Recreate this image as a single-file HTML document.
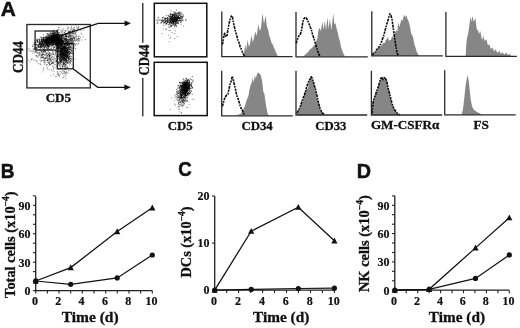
<!DOCTYPE html>
<html><head><meta charset="utf-8"><title>Figure</title>
<style>html,body{margin:0;padding:0;background:#fff;}body{width:520px;height:328px;overflow:hidden;}svg{display:block;filter:blur(0.3px);}</style>
</head><body><svg width="520" height="328" viewBox="0 0 520 328"><g transform="translate(0.84,15.85) scale(1.043,1.004)"><text x="0" y="0" font-family="Liberation Sans" font-weight="bold" font-size="20" fill="#111" stroke="#111" stroke-width="0.5">A</text></g><g transform="translate(0.85,177.64) scale(0.949,1.025)"><text x="0" y="0" font-family="Liberation Sans" font-weight="bold" font-size="20" fill="#111" stroke="#111" stroke-width="0.5">B</text></g><g transform="translate(178.33,176.09) scale(0.931,1.010)"><text x="0" y="0" font-family="Liberation Sans" font-weight="bold" font-size="20" fill="#111" stroke="#111" stroke-width="0.5">C</text></g><g transform="translate(356.81,178.04) scale(0.988,1.053)"><text x="0" y="0" font-family="Liberation Sans" font-weight="bold" font-size="20" fill="#111" stroke="#111" stroke-width="0.5">D</text></g><rect x="35.1" y="31" width="22.4" height="19" fill="none" stroke="#222" stroke-width="1.3"/><rect x="57.3" y="43.6" width="16" height="25.2" fill="none" stroke="#222" stroke-width="1.3"/><g fill="#000" fill-opacity="0.45"><rect x="65.9" y="41.5" width="1.0" height="1.0"/><rect x="65.2" y="38.1" width="1.0" height="1.0"/><rect x="60.9" y="39.7" width="1.0" height="1.0"/><rect x="74.4" y="38.9" width="1.0" height="1.0"/><rect x="73.8" y="38.3" width="1.0" height="1.0"/><rect x="69.7" y="39.1" width="1.0" height="1.0"/><rect x="57.5" y="45.3" width="1.0" height="1.0"/><rect x="70.7" y="40.2" width="1.0" height="1.0"/><rect x="54.5" y="34.8" width="1.0" height="1.0"/><rect x="60.9" y="38.6" width="1.0" height="1.0"/><rect x="68.9" y="38.3" width="1.0" height="1.0"/><rect x="69.6" y="35.5" width="1.0" height="1.0"/><rect x="69.4" y="40.1" width="1.0" height="1.0"/><rect x="64.7" y="47.1" width="1.0" height="1.0"/><rect x="71.8" y="42.9" width="1.0" height="1.0"/><rect x="62.3" y="37.0" width="1.0" height="1.0"/><rect x="64.7" y="39.1" width="1.0" height="1.0"/><rect x="71.2" y="38.9" width="1.0" height="1.0"/><rect x="63.2" y="35.9" width="1.0" height="1.0"/><rect x="65.1" y="44.8" width="1.0" height="1.0"/><rect x="62.2" y="41.4" width="1.0" height="1.0"/><rect x="68.1" y="32.2" width="1.0" height="1.0"/><rect x="68.7" y="44.2" width="1.0" height="1.0"/><rect x="54.0" y="41.1" width="1.0" height="1.0"/><rect x="65.4" y="35.9" width="1.0" height="1.0"/><rect x="70.1" y="37.9" width="1.0" height="1.0"/><rect x="58.7" y="44.8" width="1.0" height="1.0"/><rect x="72.2" y="41.7" width="1.0" height="1.0"/><rect x="76.4" y="38.0" width="1.0" height="1.0"/><rect x="66.3" y="33.5" width="1.0" height="1.0"/><rect x="70.2" y="35.5" width="1.0" height="1.0"/><rect x="62.8" y="34.6" width="1.0" height="1.0"/><rect x="60.3" y="38.5" width="1.0" height="1.0"/><rect x="72.9" y="28.6" width="1.0" height="1.0"/><rect x="58.1" y="42.4" width="1.0" height="1.0"/><rect x="76.7" y="38.9" width="1.0" height="1.0"/><rect x="52.3" y="32.0" width="1.0" height="1.0"/><rect x="68.4" y="35.4" width="1.0" height="1.0"/><rect x="61.0" y="44.8" width="1.0" height="1.0"/><rect x="74.1" y="37.8" width="1.0" height="1.0"/><rect x="69.0" y="40.3" width="1.0" height="1.0"/><rect x="77.7" y="38.8" width="1.0" height="1.0"/><rect x="70.9" y="40.3" width="1.0" height="1.0"/><rect x="58.5" y="46.8" width="1.0" height="1.0"/><rect x="73.6" y="39.5" width="1.0" height="1.0"/><rect x="53.9" y="39.7" width="1.0" height="1.0"/><rect x="70.3" y="30.2" width="1.0" height="1.0"/><rect x="67.0" y="43.4" width="1.0" height="1.0"/><rect x="60.5" y="47.7" width="1.0" height="1.0"/><rect x="70.3" y="37.5" width="1.0" height="1.0"/><rect x="69.7" y="41.1" width="1.0" height="1.0"/><rect x="69.0" y="43.4" width="1.0" height="1.0"/><rect x="62.4" y="38.4" width="1.0" height="1.0"/><rect x="73.6" y="37.4" width="1.0" height="1.0"/><rect x="62.5" y="44.3" width="1.0" height="1.0"/><rect x="75.7" y="34.7" width="1.0" height="1.0"/><rect x="58.2" y="40.8" width="1.0" height="1.0"/><rect x="65.7" y="38.0" width="1.0" height="1.0"/><rect x="74.7" y="32.5" width="1.0" height="1.0"/><rect x="73.5" y="31.7" width="1.0" height="1.0"/><rect x="62.7" y="42.9" width="1.0" height="1.0"/><rect x="75.0" y="40.6" width="1.0" height="1.0"/><rect x="69.3" y="39.0" width="1.0" height="1.0"/><rect x="68.6" y="41.1" width="1.0" height="1.0"/><rect x="66.2" y="40.4" width="1.0" height="1.0"/><rect x="70.6" y="38.0" width="1.0" height="1.0"/><rect x="72.4" y="40.0" width="1.0" height="1.0"/><rect x="80.0" y="36.9" width="1.0" height="1.0"/><rect x="63.9" y="38.2" width="1.0" height="1.0"/><rect x="67.9" y="42.8" width="1.0" height="1.0"/><rect x="65.3" y="41.1" width="1.0" height="1.0"/><rect x="75.7" y="25.5" width="1.0" height="1.0"/><rect x="60.2" y="41.9" width="1.0" height="1.0"/><rect x="69.8" y="39.3" width="1.0" height="1.0"/><rect x="65.0" y="42.4" width="1.0" height="1.0"/><rect x="68.2" y="36.4" width="1.0" height="1.0"/><rect x="82.6" y="36.4" width="1.0" height="1.0"/><rect x="63.4" y="39.5" width="1.0" height="1.0"/><rect x="65.5" y="39.1" width="1.0" height="1.0"/><rect x="49.3" y="41.6" width="1.0" height="1.0"/><rect x="72.1" y="32.6" width="1.0" height="1.0"/><rect x="67.6" y="43.0" width="1.0" height="1.0"/><rect x="74.0" y="43.6" width="1.0" height="1.0"/><rect x="55.9" y="40.4" width="1.0" height="1.0"/><rect x="65.5" y="42.1" width="1.0" height="1.0"/><rect x="70.9" y="26.3" width="1.0" height="1.0"/><rect x="72.3" y="31.3" width="1.0" height="1.0"/><rect x="69.7" y="31.8" width="1.0" height="1.0"/><rect x="69.4" y="43.6" width="1.0" height="1.0"/><rect x="66.3" y="40.0" width="1.0" height="1.0"/><rect x="72.2" y="38.2" width="1.0" height="1.0"/><rect x="68.1" y="45.4" width="1.0" height="1.0"/><rect x="73.3" y="36.0" width="1.0" height="1.0"/><rect x="83.0" y="29.7" width="1.0" height="1.0"/><rect x="72.5" y="36.4" width="1.0" height="1.0"/><rect x="68.6" y="41.6" width="1.0" height="1.0"/><rect x="69.1" y="41.2" width="1.0" height="1.0"/><rect x="55.8" y="35.4" width="1.0" height="1.0"/><rect x="69.8" y="34.1" width="1.0" height="1.0"/><rect x="59.0" y="34.8" width="1.0" height="1.0"/><rect x="75.8" y="39.9" width="1.0" height="1.0"/><rect x="75.2" y="32.7" width="1.0" height="1.0"/><rect x="65.8" y="34.4" width="1.0" height="1.0"/><rect x="73.5" y="44.2" width="1.0" height="1.0"/><rect x="63.1" y="46.8" width="1.0" height="1.0"/><rect x="73.0" y="36.6" width="1.0" height="1.0"/><rect x="56.1" y="48.0" width="1.0" height="1.0"/><rect x="65.7" y="36.7" width="1.0" height="1.0"/><rect x="70.0" y="40.0" width="1.0" height="1.0"/><rect x="75.3" y="32.3" width="1.0" height="1.0"/><rect x="75.8" y="43.1" width="1.0" height="1.0"/><rect x="75.9" y="35.8" width="1.0" height="1.0"/><rect x="63.4" y="44.4" width="1.0" height="1.0"/><rect x="67.9" y="39.3" width="1.0" height="1.0"/><rect x="75.7" y="35.5" width="1.0" height="1.0"/><rect x="52.2" y="41.3" width="1.0" height="1.0"/><rect x="56.3" y="45.4" width="1.0" height="1.0"/><rect x="68.3" y="36.0" width="1.0" height="1.0"/><rect x="67.8" y="42.4" width="1.0" height="1.0"/><rect x="68.9" y="44.2" width="1.0" height="1.0"/><rect x="67.7" y="43.3" width="1.0" height="1.0"/><rect x="78.1" y="43.0" width="1.0" height="1.0"/><rect x="63.7" y="43.7" width="1.0" height="1.0"/><rect x="54.0" y="37.8" width="1.0" height="1.0"/><rect x="55.8" y="46.6" width="1.0" height="1.0"/><rect x="59.3" y="41.0" width="1.0" height="1.0"/><rect x="65.8" y="39.2" width="1.0" height="1.0"/><rect x="63.5" y="40.9" width="1.0" height="1.0"/><rect x="78.3" y="36.2" width="1.0" height="1.0"/><rect x="71.4" y="42.2" width="1.0" height="1.0"/><rect x="64.4" y="34.2" width="1.0" height="1.0"/><rect x="64.7" y="44.3" width="1.0" height="1.0"/><rect x="56.0" y="39.3" width="1.0" height="1.0"/><rect x="74.2" y="40.5" width="1.0" height="1.0"/><rect x="67.9" y="42.3" width="1.0" height="1.0"/><rect x="66.8" y="33.9" width="1.0" height="1.0"/><rect x="56.5" y="39.0" width="1.0" height="1.0"/><rect x="72.2" y="35.2" width="1.0" height="1.0"/><rect x="60.5" y="37.4" width="1.0" height="1.0"/><rect x="57.3" y="41.1" width="1.0" height="1.0"/><rect x="60.0" y="42.5" width="1.0" height="1.0"/><rect x="52.5" y="44.3" width="1.0" height="1.0"/><rect x="60.9" y="32.2" width="1.0" height="1.0"/><rect x="71.3" y="36.7" width="1.0" height="1.0"/><rect x="52.0" y="39.2" width="1.0" height="1.0"/><rect x="68.3" y="36.6" width="1.0" height="1.0"/><rect x="72.7" y="40.7" width="1.0" height="1.0"/><rect x="71.5" y="39.2" width="1.0" height="1.0"/><rect x="76.1" y="39.4" width="1.0" height="1.0"/><rect x="67.6" y="29.8" width="1.0" height="1.0"/><rect x="74.1" y="42.8" width="1.0" height="1.0"/><rect x="64.6" y="37.6" width="1.0" height="1.0"/><rect x="77.3" y="28.6" width="1.0" height="1.0"/><rect x="72.6" y="48.0" width="1.0" height="1.0"/><rect x="61.9" y="43.4" width="1.0" height="1.0"/><rect x="78.7" y="35.3" width="1.0" height="1.0"/><rect x="71.5" y="41.7" width="1.0" height="1.0"/><rect x="61.2" y="40.2" width="1.0" height="1.0"/><rect x="69.7" y="41.9" width="1.0" height="1.0"/><rect x="66.6" y="38.3" width="1.0" height="1.0"/><rect x="60.2" y="39.3" width="1.0" height="1.0"/><rect x="72.7" y="37.9" width="1.0" height="1.0"/><rect x="60.7" y="37.0" width="1.0" height="1.0"/><rect x="85.0" y="39.1" width="1.0" height="1.0"/><rect x="68.2" y="27.4" width="1.0" height="1.0"/><rect x="71.4" y="39.9" width="1.0" height="1.0"/><rect x="78.0" y="37.9" width="1.0" height="1.0"/><rect x="67.1" y="41.2" width="1.0" height="1.0"/><rect x="55.9" y="46.5" width="1.0" height="1.0"/><rect x="68.3" y="35.6" width="1.0" height="1.0"/><rect x="77.3" y="44.1" width="1.0" height="1.0"/><rect x="57.5" y="38.7" width="1.0" height="1.0"/><rect x="69.0" y="39.3" width="1.0" height="1.0"/><rect x="63.4" y="35.7" width="1.0" height="1.0"/><rect x="81.4" y="39.6" width="1.0" height="1.0"/><rect x="58.0" y="35.6" width="1.0" height="1.0"/><rect x="78.8" y="40.1" width="1.0" height="1.0"/><rect x="79.3" y="39.2" width="1.0" height="1.0"/><rect x="61.8" y="41.5" width="1.0" height="1.0"/><rect x="52.6" y="39.6" width="1.0" height="1.0"/><rect x="67.2" y="41.2" width="1.0" height="1.0"/><rect x="62.3" y="39.7" width="1.0" height="1.0"/><rect x="70.3" y="39.8" width="1.0" height="1.0"/><rect x="71.2" y="38.8" width="1.0" height="1.0"/><rect x="65.8" y="42.7" width="1.0" height="1.0"/><rect x="66.4" y="35.6" width="1.0" height="1.0"/><rect x="63.1" y="40.1" width="1.0" height="1.0"/><rect x="66.5" y="39.8" width="1.0" height="1.0"/><rect x="67.2" y="39.7" width="1.0" height="1.0"/><rect x="64.8" y="34.1" width="1.0" height="1.0"/><rect x="70.8" y="42.6" width="1.0" height="1.0"/><rect x="69.5" y="37.5" width="1.0" height="1.0"/><rect x="68.8" y="34.3" width="1.0" height="1.0"/><rect x="55.2" y="42.4" width="1.0" height="1.0"/><rect x="62.0" y="43.6" width="1.0" height="1.0"/><rect x="57.3" y="30.2" width="1.0" height="1.0"/><rect x="62.2" y="47.2" width="1.0" height="1.0"/><rect x="63.1" y="34.1" width="1.0" height="1.0"/><rect x="62.8" y="42.4" width="1.0" height="1.0"/><rect x="70.3" y="38.9" width="1.0" height="1.0"/><rect x="77.1" y="39.4" width="1.0" height="1.0"/><rect x="67.5" y="41.5" width="1.0" height="1.0"/><rect x="78.4" y="40.2" width="1.0" height="1.0"/><rect x="72.3" y="32.9" width="1.0" height="1.0"/><rect x="66.9" y="42.2" width="1.0" height="1.0"/><rect x="66.3" y="43.8" width="1.0" height="1.0"/><rect x="71.7" y="41.7" width="1.0" height="1.0"/><rect x="68.4" y="49.7" width="1.0" height="1.0"/><rect x="74.6" y="36.0" width="1.0" height="1.0"/><rect x="70.4" y="49.4" width="1.0" height="1.0"/><rect x="65.8" y="43.1" width="1.0" height="1.0"/><rect x="73.2" y="37.4" width="1.0" height="1.0"/><rect x="59.9" y="41.7" width="1.0" height="1.0"/><rect x="70.5" y="43.0" width="1.0" height="1.0"/><rect x="71.9" y="37.8" width="1.0" height="1.0"/><rect x="72.9" y="39.8" width="1.0" height="1.0"/><rect x="68.4" y="38.9" width="1.0" height="1.0"/><rect x="66.2" y="42.2" width="1.0" height="1.0"/><rect x="59.7" y="38.2" width="1.0" height="1.0"/><rect x="65.4" y="33.1" width="1.0" height="1.0"/><rect x="62.1" y="31.6" width="1.0" height="1.0"/><rect x="63.3" y="42.5" width="1.0" height="1.0"/><rect x="70.5" y="37.8" width="1.0" height="1.0"/><rect x="64.0" y="33.6" width="1.0" height="1.0"/><rect x="79.0" y="38.0" width="1.0" height="1.0"/><rect x="72.9" y="33.6" width="1.0" height="1.0"/><rect x="63.9" y="31.9" width="1.0" height="1.0"/><rect x="72.9" y="41.5" width="1.0" height="1.0"/><rect x="55.0" y="42.0" width="1.0" height="1.0"/><rect x="69.0" y="30.8" width="1.0" height="1.0"/><rect x="54.4" y="37.8" width="1.0" height="1.0"/><rect x="61.5" y="34.4" width="1.0" height="1.0"/><rect x="67.5" y="40.0" width="1.0" height="1.0"/><rect x="71.7" y="40.8" width="1.0" height="1.0"/><rect x="77.7" y="41.2" width="1.0" height="1.0"/><rect x="58.2" y="39.2" width="1.0" height="1.0"/><rect x="59.2" y="36.4" width="1.0" height="1.0"/><rect x="66.5" y="39.2" width="1.0" height="1.0"/><rect x="68.4" y="31.7" width="1.0" height="1.0"/><rect x="59.2" y="41.0" width="1.0" height="1.0"/><rect x="65.4" y="38.1" width="1.0" height="1.0"/><rect x="65.8" y="36.0" width="1.0" height="1.0"/><rect x="71.8" y="39.3" width="1.0" height="1.0"/><rect x="65.7" y="36.4" width="1.0" height="1.0"/><rect x="62.9" y="28.3" width="1.0" height="1.0"/><rect x="60.9" y="40.8" width="1.0" height="1.0"/><rect x="57.8" y="42.3" width="1.0" height="1.0"/><rect x="66.4" y="33.2" width="1.0" height="1.0"/><rect x="65.1" y="38.1" width="1.0" height="1.0"/><rect x="70.6" y="40.7" width="1.0" height="1.0"/><rect x="65.8" y="35.6" width="1.0" height="1.0"/><rect x="66.0" y="39.0" width="1.0" height="1.0"/><rect x="71.9" y="39.0" width="1.0" height="1.0"/><rect x="61.0" y="34.7" width="1.0" height="1.0"/><rect x="63.9" y="36.6" width="1.0" height="1.0"/><rect x="59.9" y="40.4" width="1.0" height="1.0"/><rect x="64.0" y="40.3" width="1.0" height="1.0"/><rect x="69.8" y="36.4" width="1.0" height="1.0"/><rect x="81.2" y="33.8" width="1.0" height="1.0"/><rect x="74.0" y="37.6" width="1.0" height="1.0"/><rect x="71.4" y="27.5" width="1.0" height="1.0"/><rect x="62.6" y="41.3" width="1.0" height="1.0"/><rect x="73.3" y="47.5" width="1.0" height="1.0"/><rect x="70.4" y="43.6" width="1.0" height="1.0"/><rect x="72.8" y="41.6" width="1.0" height="1.0"/><rect x="70.0" y="37.5" width="1.0" height="1.0"/><rect x="69.0" y="33.8" width="1.0" height="1.0"/><rect x="73.3" y="32.9" width="1.0" height="1.0"/><rect x="70.9" y="47.2" width="1.0" height="1.0"/><rect x="65.6" y="39.5" width="1.0" height="1.0"/><rect x="74.3" y="37.1" width="1.0" height="1.0"/><rect x="62.2" y="41.4" width="1.0" height="1.0"/><rect x="71.4" y="40.9" width="1.0" height="1.0"/><rect x="64.1" y="47.4" width="1.0" height="1.0"/><rect x="77.5" y="36.3" width="1.0" height="1.0"/><rect x="68.2" y="36.8" width="1.0" height="1.0"/><rect x="75.1" y="33.8" width="1.0" height="1.0"/><rect x="70.7" y="35.9" width="1.0" height="1.0"/><rect x="63.4" y="43.1" width="1.0" height="1.0"/><rect x="75.4" y="36.7" width="1.0" height="1.0"/></g><g fill="#000" fill-opacity="0.45"><rect x="65.7" y="36.7" width="1.0" height="1.0"/><rect x="69.1" y="33.3" width="1.0" height="1.0"/><rect x="80.6" y="32.6" width="1.0" height="1.0"/><rect x="68.7" y="41.8" width="1.0" height="1.0"/><rect x="70.1" y="34.9" width="1.0" height="1.0"/><rect x="64.7" y="33.4" width="1.0" height="1.0"/><rect x="59.9" y="42.9" width="1.0" height="1.0"/><rect x="56.9" y="29.5" width="1.0" height="1.0"/><rect x="76.1" y="27.5" width="1.0" height="1.0"/><rect x="68.2" y="31.0" width="1.0" height="1.0"/><rect x="66.7" y="28.2" width="1.0" height="1.0"/><rect x="67.2" y="26.5" width="1.0" height="1.0"/><rect x="69.0" y="33.3" width="1.0" height="1.0"/><rect x="71.8" y="30.0" width="1.0" height="1.0"/><rect x="63.3" y="34.8" width="1.0" height="1.0"/><rect x="68.0" y="39.0" width="1.0" height="1.0"/><rect x="73.9" y="29.7" width="1.0" height="1.0"/><rect x="64.9" y="30.5" width="1.0" height="1.0"/><rect x="62.4" y="32.9" width="1.0" height="1.0"/><rect x="71.6" y="33.2" width="1.0" height="1.0"/><rect x="75.6" y="38.5" width="1.0" height="1.0"/><rect x="64.4" y="33.7" width="1.0" height="1.0"/><rect x="65.8" y="33.9" width="1.0" height="1.0"/><rect x="70.6" y="33.2" width="1.0" height="1.0"/><rect x="67.9" y="33.9" width="1.0" height="1.0"/><rect x="70.4" y="34.8" width="1.0" height="1.0"/><rect x="55.3" y="33.2" width="1.0" height="1.0"/><rect x="67.6" y="28.1" width="1.0" height="1.0"/><rect x="63.0" y="36.9" width="1.0" height="1.0"/><rect x="65.6" y="35.9" width="1.0" height="1.0"/><rect x="74.3" y="31.4" width="1.0" height="1.0"/><rect x="72.2" y="30.4" width="1.0" height="1.0"/><rect x="59.7" y="35.3" width="1.0" height="1.0"/><rect x="71.3" y="28.9" width="1.0" height="1.0"/><rect x="69.4" y="35.1" width="1.0" height="1.0"/><rect x="64.1" y="36.5" width="1.0" height="1.0"/><rect x="69.8" y="31.1" width="1.0" height="1.0"/><rect x="79.6" y="29.5" width="1.0" height="1.0"/><rect x="74.0" y="27.3" width="1.0" height="1.0"/><rect x="68.9" y="32.0" width="1.0" height="1.0"/><rect x="59.3" y="41.7" width="1.0" height="1.0"/><rect x="73.7" y="29.7" width="1.0" height="1.0"/><rect x="72.5" y="32.3" width="1.0" height="1.0"/><rect x="58.8" y="34.8" width="1.0" height="1.0"/><rect x="78.0" y="26.3" width="1.0" height="1.0"/><rect x="60.4" y="29.3" width="1.0" height="1.0"/><rect x="61.4" y="36.2" width="1.0" height="1.0"/><rect x="80.7" y="29.6" width="1.0" height="1.0"/><rect x="73.7" y="39.8" width="1.0" height="1.0"/><rect x="64.7" y="30.7" width="1.0" height="1.0"/><rect x="73.2" y="32.8" width="1.0" height="1.0"/><rect x="60.7" y="30.0" width="1.0" height="1.0"/><rect x="71.3" y="32.2" width="1.0" height="1.0"/><rect x="60.1" y="34.4" width="1.0" height="1.0"/><rect x="66.1" y="35.0" width="1.0" height="1.0"/><rect x="68.1" y="32.0" width="1.0" height="1.0"/><rect x="68.1" y="36.8" width="1.0" height="1.0"/><rect x="77.6" y="27.3" width="1.0" height="1.0"/><rect x="73.5" y="27.1" width="1.0" height="1.0"/><rect x="70.5" y="34.6" width="1.0" height="1.0"/><rect x="78.4" y="26.9" width="1.0" height="1.0"/><rect x="68.8" y="32.9" width="1.0" height="1.0"/><rect x="59.2" y="35.6" width="1.0" height="1.0"/><rect x="65.1" y="35.0" width="1.0" height="1.0"/><rect x="58.9" y="27.3" width="1.0" height="1.0"/><rect x="69.6" y="32.9" width="1.0" height="1.0"/><rect x="66.6" y="36.7" width="1.0" height="1.0"/><rect x="66.4" y="30.4" width="1.0" height="1.0"/><rect x="64.5" y="33.5" width="1.0" height="1.0"/><rect x="74.4" y="29.4" width="1.0" height="1.0"/><rect x="70.1" y="28.8" width="1.0" height="1.0"/><rect x="73.3" y="37.5" width="1.0" height="1.0"/><rect x="67.7" y="42.5" width="1.0" height="1.0"/><rect x="64.8" y="33.6" width="1.0" height="1.0"/><rect x="71.5" y="35.4" width="1.0" height="1.0"/><rect x="58.0" y="27.1" width="1.0" height="1.0"/><rect x="74.1" y="33.5" width="1.0" height="1.0"/><rect x="76.7" y="40.4" width="1.0" height="1.0"/><rect x="70.7" y="32.5" width="1.0" height="1.0"/><rect x="75.6" y="31.2" width="1.0" height="1.0"/><rect x="73.8" y="28.7" width="1.0" height="1.0"/><rect x="78.0" y="37.9" width="1.0" height="1.0"/><rect x="68.6" y="31.1" width="1.0" height="1.0"/><rect x="64.6" y="30.0" width="1.0" height="1.0"/><rect x="65.7" y="35.9" width="1.0" height="1.0"/><rect x="69.3" y="32.2" width="1.0" height="1.0"/><rect x="69.1" y="35.9" width="1.0" height="1.0"/><rect x="72.1" y="30.3" width="1.0" height="1.0"/><rect x="73.2" y="29.8" width="1.0" height="1.0"/><rect x="63.4" y="40.2" width="1.0" height="1.0"/><rect x="70.8" y="27.3" width="1.0" height="1.0"/><rect x="76.6" y="30.7" width="1.0" height="1.0"/><rect x="60.9" y="41.8" width="1.0" height="1.0"/><rect x="72.4" y="34.6" width="1.0" height="1.0"/><rect x="70.1" y="31.0" width="1.0" height="1.0"/><rect x="60.1" y="39.4" width="1.0" height="1.0"/><rect x="68.8" y="30.9" width="1.0" height="1.0"/><rect x="71.4" y="31.5" width="1.0" height="1.0"/><rect x="72.9" y="29.0" width="1.0" height="1.0"/><rect x="67.1" y="35.6" width="1.0" height="1.0"/><rect x="77.3" y="27.4" width="1.0" height="1.0"/><rect x="70.4" y="38.2" width="1.0" height="1.0"/></g><g fill="#000" fill-opacity="0.45"><rect x="42.1" y="56.9" width="1.0" height="1.0"/><rect x="54.6" y="64.0" width="1.0" height="1.0"/><rect x="54.5" y="59.4" width="1.0" height="1.0"/><rect x="47.3" y="56.7" width="1.0" height="1.0"/><rect x="43.2" y="60.3" width="1.0" height="1.0"/><rect x="60.4" y="65.0" width="1.0" height="1.0"/><rect x="41.5" y="55.0" width="1.0" height="1.0"/><rect x="39.0" y="52.7" width="1.0" height="1.0"/><rect x="49.8" y="57.8" width="1.0" height="1.0"/><rect x="53.4" y="53.3" width="1.0" height="1.0"/><rect x="54.6" y="54.4" width="1.0" height="1.0"/><rect x="44.1" y="50.9" width="1.0" height="1.0"/><rect x="41.3" y="57.0" width="1.0" height="1.0"/><rect x="47.6" y="55.1" width="1.0" height="1.0"/><rect x="44.1" y="63.8" width="1.0" height="1.0"/><rect x="44.9" y="57.3" width="1.0" height="1.0"/><rect x="51.6" y="62.7" width="1.0" height="1.0"/><rect x="31.8" y="58.3" width="1.0" height="1.0"/><rect x="63.5" y="59.7" width="1.0" height="1.0"/><rect x="44.5" y="57.2" width="1.0" height="1.0"/><rect x="49.0" y="62.8" width="1.0" height="1.0"/><rect x="47.8" y="51.2" width="1.0" height="1.0"/><rect x="43.4" y="59.9" width="1.0" height="1.0"/><rect x="43.4" y="47.5" width="1.0" height="1.0"/><rect x="51.7" y="49.4" width="1.0" height="1.0"/><rect x="46.0" y="53.3" width="1.0" height="1.0"/><rect x="50.5" y="55.8" width="1.0" height="1.0"/><rect x="42.6" y="50.5" width="1.0" height="1.0"/><rect x="47.7" y="53.5" width="1.0" height="1.0"/><rect x="43.8" y="58.6" width="1.0" height="1.0"/><rect x="47.0" y="67.3" width="1.0" height="1.0"/><rect x="43.2" y="50.9" width="1.0" height="1.0"/><rect x="42.3" y="52.5" width="1.0" height="1.0"/><rect x="52.8" y="53.9" width="1.0" height="1.0"/><rect x="48.5" y="58.1" width="1.0" height="1.0"/><rect x="35.6" y="48.4" width="1.0" height="1.0"/><rect x="57.8" y="55.3" width="1.0" height="1.0"/><rect x="49.6" y="60.5" width="1.0" height="1.0"/><rect x="47.1" y="59.7" width="1.0" height="1.0"/><rect x="53.5" y="61.4" width="1.0" height="1.0"/><rect x="51.8" y="58.7" width="1.0" height="1.0"/><rect x="52.2" y="56.7" width="1.0" height="1.0"/><rect x="40.2" y="61.3" width="1.0" height="1.0"/><rect x="48.8" y="57.6" width="1.0" height="1.0"/><rect x="42.4" y="48.0" width="1.0" height="1.0"/><rect x="44.2" y="60.0" width="1.0" height="1.0"/><rect x="46.6" y="59.7" width="1.0" height="1.0"/><rect x="41.7" y="60.3" width="1.0" height="1.0"/><rect x="45.6" y="52.3" width="1.0" height="1.0"/><rect x="50.4" y="60.4" width="1.0" height="1.0"/><rect x="46.3" y="52.8" width="1.0" height="1.0"/><rect x="42.8" y="56.9" width="1.0" height="1.0"/><rect x="51.5" y="53.6" width="1.0" height="1.0"/><rect x="47.7" y="58.6" width="1.0" height="1.0"/><rect x="38.5" y="53.9" width="1.0" height="1.0"/><rect x="45.6" y="53.6" width="1.0" height="1.0"/><rect x="46.2" y="64.1" width="1.0" height="1.0"/><rect x="41.1" y="54.2" width="1.0" height="1.0"/><rect x="34.5" y="59.6" width="1.0" height="1.0"/><rect x="39.8" y="57.7" width="1.0" height="1.0"/><rect x="40.2" y="55.7" width="1.0" height="1.0"/><rect x="65.2" y="57.9" width="1.0" height="1.0"/><rect x="42.2" y="55.6" width="1.0" height="1.0"/><rect x="47.5" y="53.3" width="1.0" height="1.0"/><rect x="57.0" y="66.3" width="1.0" height="1.0"/><rect x="34.9" y="51.2" width="1.0" height="1.0"/><rect x="33.6" y="51.8" width="1.0" height="1.0"/><rect x="42.6" y="53.8" width="1.0" height="1.0"/><rect x="52.2" y="62.3" width="1.0" height="1.0"/><rect x="43.9" y="43.8" width="1.0" height="1.0"/><rect x="49.9" y="64.0" width="1.0" height="1.0"/><rect x="39.2" y="55.1" width="1.0" height="1.0"/><rect x="46.6" y="60.5" width="1.0" height="1.0"/><rect x="35.2" y="44.4" width="1.0" height="1.0"/><rect x="48.5" y="62.7" width="1.0" height="1.0"/><rect x="58.0" y="51.9" width="1.0" height="1.0"/><rect x="45.4" y="58.4" width="1.0" height="1.0"/><rect x="62.1" y="64.8" width="1.0" height="1.0"/><rect x="44.2" y="54.6" width="1.0" height="1.0"/><rect x="51.9" y="58.7" width="1.0" height="1.0"/><rect x="54.3" y="58.7" width="1.0" height="1.0"/><rect x="49.0" y="55.5" width="1.0" height="1.0"/><rect x="48.9" y="54.4" width="1.0" height="1.0"/><rect x="34.4" y="52.2" width="1.0" height="1.0"/><rect x="49.3" y="55.6" width="1.0" height="1.0"/><rect x="44.1" y="60.3" width="1.0" height="1.0"/><rect x="41.2" y="51.1" width="1.0" height="1.0"/><rect x="47.2" y="60.3" width="1.0" height="1.0"/><rect x="50.6" y="47.4" width="1.0" height="1.0"/><rect x="51.5" y="62.9" width="1.0" height="1.0"/><rect x="46.9" y="55.1" width="1.0" height="1.0"/><rect x="48.7" y="55.8" width="1.0" height="1.0"/><rect x="42.9" y="48.7" width="1.0" height="1.0"/><rect x="44.7" y="51.2" width="1.0" height="1.0"/><rect x="38.1" y="52.7" width="1.0" height="1.0"/><rect x="37.2" y="52.1" width="1.0" height="1.0"/><rect x="39.7" y="52.4" width="1.0" height="1.0"/><rect x="52.5" y="63.1" width="1.0" height="1.0"/><rect x="42.1" y="52.7" width="1.0" height="1.0"/><rect x="52.0" y="50.9" width="1.0" height="1.0"/><rect x="42.3" y="53.7" width="1.0" height="1.0"/><rect x="43.3" y="54.1" width="1.0" height="1.0"/><rect x="47.5" y="62.0" width="1.0" height="1.0"/><rect x="48.9" y="62.2" width="1.0" height="1.0"/><rect x="44.6" y="54.6" width="1.0" height="1.0"/><rect x="45.5" y="53.7" width="1.0" height="1.0"/><rect x="50.3" y="49.4" width="1.0" height="1.0"/><rect x="44.3" y="54.4" width="1.0" height="1.0"/><rect x="41.0" y="51.4" width="1.0" height="1.0"/><rect x="49.2" y="57.9" width="1.0" height="1.0"/><rect x="64.7" y="57.0" width="1.0" height="1.0"/><rect x="50.4" y="48.9" width="1.0" height="1.0"/><rect x="43.1" y="69.5" width="1.0" height="1.0"/><rect x="32.6" y="44.7" width="1.0" height="1.0"/><rect x="49.6" y="57.4" width="1.0" height="1.0"/><rect x="55.6" y="51.1" width="1.0" height="1.0"/><rect x="49.3" y="61.2" width="1.0" height="1.0"/><rect x="47.9" y="54.1" width="1.0" height="1.0"/><rect x="50.8" y="57.4" width="1.0" height="1.0"/><rect x="48.7" y="55.3" width="1.0" height="1.0"/><rect x="34.4" y="45.4" width="1.0" height="1.0"/><rect x="44.8" y="59.5" width="1.0" height="1.0"/><rect x="41.5" y="51.8" width="1.0" height="1.0"/><rect x="48.8" y="59.4" width="1.0" height="1.0"/><rect x="46.5" y="68.5" width="1.0" height="1.0"/><rect x="47.1" y="45.3" width="1.0" height="1.0"/><rect x="45.9" y="65.1" width="1.0" height="1.0"/><rect x="48.3" y="63.0" width="1.0" height="1.0"/><rect x="44.9" y="50.7" width="1.0" height="1.0"/><rect x="53.4" y="57.1" width="1.0" height="1.0"/><rect x="39.6" y="44.2" width="1.0" height="1.0"/><rect x="53.2" y="74.1" width="1.0" height="1.0"/><rect x="44.6" y="50.3" width="1.0" height="1.0"/><rect x="49.5" y="54.6" width="1.0" height="1.0"/><rect x="53.1" y="61.9" width="1.0" height="1.0"/><rect x="36.4" y="55.3" width="1.0" height="1.0"/><rect x="42.3" y="54.0" width="1.0" height="1.0"/><rect x="46.9" y="54.9" width="1.0" height="1.0"/><rect x="49.8" y="55.2" width="1.0" height="1.0"/><rect x="43.1" y="40.0" width="1.0" height="1.0"/><rect x="41.7" y="47.5" width="1.0" height="1.0"/><rect x="45.7" y="56.1" width="1.0" height="1.0"/><rect x="48.5" y="59.0" width="1.0" height="1.0"/><rect x="44.0" y="49.9" width="1.0" height="1.0"/><rect x="35.5" y="45.5" width="1.0" height="1.0"/><rect x="46.9" y="60.0" width="1.0" height="1.0"/><rect x="45.9" y="54.8" width="1.0" height="1.0"/><rect x="50.8" y="60.4" width="1.0" height="1.0"/><rect x="48.1" y="61.4" width="1.0" height="1.0"/><rect x="43.2" y="61.4" width="1.0" height="1.0"/><rect x="44.1" y="52.1" width="1.0" height="1.0"/><rect x="44.2" y="49.5" width="1.0" height="1.0"/><rect x="48.8" y="69.2" width="1.0" height="1.0"/><rect x="44.4" y="58.0" width="1.0" height="1.0"/><rect x="49.7" y="64.2" width="1.0" height="1.0"/><rect x="56.1" y="57.4" width="1.0" height="1.0"/><rect x="41.3" y="54.5" width="1.0" height="1.0"/><rect x="53.2" y="63.1" width="1.0" height="1.0"/><rect x="42.6" y="50.8" width="1.0" height="1.0"/><rect x="45.1" y="50.0" width="1.0" height="1.0"/><rect x="55.7" y="60.9" width="1.0" height="1.0"/><rect x="39.6" y="63.3" width="1.0" height="1.0"/><rect x="51.2" y="62.7" width="1.0" height="1.0"/><rect x="41.6" y="54.5" width="1.0" height="1.0"/><rect x="52.6" y="65.7" width="1.0" height="1.0"/><rect x="52.3" y="62.2" width="1.0" height="1.0"/><rect x="49.3" y="57.7" width="1.0" height="1.0"/><rect x="44.3" y="62.3" width="1.0" height="1.0"/><rect x="38.7" y="49.1" width="1.0" height="1.0"/><rect x="49.0" y="55.2" width="1.0" height="1.0"/><rect x="42.0" y="57.2" width="1.0" height="1.0"/><rect x="54.5" y="67.5" width="1.0" height="1.0"/><rect x="52.4" y="52.3" width="1.0" height="1.0"/><rect x="55.8" y="65.3" width="1.0" height="1.0"/><rect x="49.2" y="52.1" width="1.0" height="1.0"/><rect x="49.0" y="52.1" width="1.0" height="1.0"/><rect x="45.0" y="57.9" width="1.0" height="1.0"/><rect x="45.3" y="57.1" width="1.0" height="1.0"/><rect x="37.3" y="56.8" width="1.0" height="1.0"/><rect x="48.1" y="46.9" width="1.0" height="1.0"/><rect x="47.3" y="52.6" width="1.0" height="1.0"/><rect x="41.8" y="50.1" width="1.0" height="1.0"/><rect x="51.1" y="53.4" width="1.0" height="1.0"/><rect x="41.0" y="60.1" width="1.0" height="1.0"/><rect x="50.0" y="58.7" width="1.0" height="1.0"/><rect x="47.0" y="56.2" width="1.0" height="1.0"/><rect x="43.5" y="58.2" width="1.0" height="1.0"/><rect x="52.8" y="47.5" width="1.0" height="1.0"/><rect x="48.6" y="52.9" width="1.0" height="1.0"/><rect x="51.2" y="57.0" width="1.0" height="1.0"/><rect x="40.2" y="64.0" width="1.0" height="1.0"/><rect x="43.9" y="47.3" width="1.0" height="1.0"/><rect x="45.9" y="41.4" width="1.0" height="1.0"/><rect x="35.1" y="48.4" width="1.0" height="1.0"/><rect x="48.3" y="46.8" width="1.0" height="1.0"/><rect x="36.4" y="51.1" width="1.0" height="1.0"/><rect x="43.1" y="51.1" width="1.0" height="1.0"/><rect x="43.6" y="62.1" width="1.0" height="1.0"/><rect x="53.0" y="68.5" width="1.0" height="1.0"/><rect x="46.2" y="57.3" width="1.0" height="1.0"/><rect x="51.1" y="69.2" width="1.0" height="1.0"/><rect x="43.0" y="56.1" width="1.0" height="1.0"/><rect x="47.3" y="57.5" width="1.0" height="1.0"/><rect x="47.4" y="49.2" width="1.0" height="1.0"/><rect x="47.9" y="48.3" width="1.0" height="1.0"/><rect x="50.8" y="63.5" width="1.0" height="1.0"/><rect x="35.5" y="55.0" width="1.0" height="1.0"/><rect x="56.4" y="53.8" width="1.0" height="1.0"/><rect x="53.1" y="67.3" width="1.0" height="1.0"/><rect x="60.4" y="61.6" width="1.0" height="1.0"/><rect x="47.5" y="59.9" width="1.0" height="1.0"/><rect x="46.5" y="57.5" width="1.0" height="1.0"/><rect x="56.0" y="55.9" width="1.0" height="1.0"/><rect x="43.7" y="45.5" width="1.0" height="1.0"/><rect x="44.9" y="51.4" width="1.0" height="1.0"/><rect x="47.1" y="58.6" width="1.0" height="1.0"/><rect x="48.2" y="53.9" width="1.0" height="1.0"/><rect x="40.8" y="57.1" width="1.0" height="1.0"/><rect x="49.7" y="59.9" width="1.0" height="1.0"/><rect x="39.6" y="59.7" width="1.0" height="1.0"/><rect x="41.0" y="55.4" width="1.0" height="1.0"/><rect x="52.8" y="60.5" width="1.0" height="1.0"/><rect x="53.7" y="56.1" width="1.0" height="1.0"/><rect x="50.7" y="61.4" width="1.0" height="1.0"/><rect x="35.7" y="50.8" width="1.0" height="1.0"/><rect x="37.5" y="56.1" width="1.0" height="1.0"/><rect x="43.0" y="52.3" width="1.0" height="1.0"/><rect x="48.5" y="56.2" width="1.0" height="1.0"/><rect x="49.0" y="55.4" width="1.0" height="1.0"/><rect x="49.5" y="59.2" width="1.0" height="1.0"/><rect x="55.4" y="47.8" width="1.0" height="1.0"/><rect x="51.9" y="61.5" width="1.0" height="1.0"/><rect x="36.4" y="48.0" width="1.0" height="1.0"/><rect x="45.2" y="61.8" width="1.0" height="1.0"/><rect x="35.7" y="56.1" width="1.0" height="1.0"/><rect x="38.0" y="63.3" width="1.0" height="1.0"/><rect x="43.2" y="57.6" width="1.0" height="1.0"/><rect x="47.5" y="50.6" width="1.0" height="1.0"/><rect x="49.0" y="64.2" width="1.0" height="1.0"/></g><g fill="#000" fill-opacity="0.4"><rect x="72.4" y="66.9" width="1.0" height="1.0"/><rect x="51.3" y="46.7" width="1.0" height="1.0"/><rect x="50.5" y="54.6" width="1.0" height="1.0"/><rect x="48.8" y="64.7" width="1.0" height="1.0"/><rect x="60.3" y="57.8" width="1.0" height="1.0"/><rect x="58.7" y="58.8" width="1.0" height="1.0"/><rect x="59.1" y="66.0" width="1.0" height="1.0"/><rect x="66.6" y="54.5" width="1.0" height="1.0"/><rect x="41.9" y="71.4" width="1.0" height="1.0"/><rect x="58.1" y="68.8" width="1.0" height="1.0"/><rect x="40.6" y="57.4" width="1.0" height="1.0"/><rect x="57.3" y="48.5" width="1.0" height="1.0"/><rect x="51.8" y="65.8" width="1.0" height="1.0"/><rect x="67.8" y="72.8" width="1.0" height="1.0"/><rect x="48.4" y="48.8" width="1.0" height="1.0"/><rect x="62.2" y="67.5" width="1.0" height="1.0"/><rect x="58.9" y="49.6" width="1.0" height="1.0"/><rect x="64.8" y="66.3" width="1.0" height="1.0"/><rect x="62.5" y="56.1" width="1.0" height="1.0"/><rect x="60.0" y="66.3" width="1.0" height="1.0"/><rect x="51.4" y="45.3" width="1.0" height="1.0"/><rect x="60.3" y="63.8" width="1.0" height="1.0"/><rect x="57.1" y="67.1" width="1.0" height="1.0"/><rect x="51.1" y="59.3" width="1.0" height="1.0"/><rect x="53.9" y="64.6" width="1.0" height="1.0"/><rect x="73.0" y="58.0" width="1.0" height="1.0"/><rect x="77.5" y="72.2" width="1.0" height="1.0"/><rect x="64.9" y="64.7" width="1.0" height="1.0"/><rect x="74.7" y="58.6" width="1.0" height="1.0"/><rect x="55.9" y="51.5" width="1.0" height="1.0"/><rect x="61.7" y="70.8" width="1.0" height="1.0"/><rect x="62.3" y="63.4" width="1.0" height="1.0"/><rect x="55.0" y="61.4" width="1.0" height="1.0"/><rect x="42.7" y="68.4" width="1.0" height="1.0"/><rect x="52.9" y="51.2" width="1.0" height="1.0"/><rect x="49.5" y="53.4" width="1.0" height="1.0"/><rect x="65.6" y="68.5" width="1.0" height="1.0"/><rect x="43.4" y="67.4" width="1.0" height="1.0"/><rect x="65.9" y="55.4" width="1.0" height="1.0"/><rect x="42.1" y="54.0" width="1.0" height="1.0"/><rect x="50.7" y="62.7" width="1.0" height="1.0"/><rect x="53.4" y="43.8" width="1.0" height="1.0"/><rect x="59.3" y="47.7" width="1.0" height="1.0"/><rect x="66.1" y="50.3" width="1.0" height="1.0"/><rect x="50.1" y="53.2" width="1.0" height="1.0"/><rect x="51.6" y="70.4" width="1.0" height="1.0"/><rect x="65.5" y="64.8" width="1.0" height="1.0"/><rect x="60.2" y="47.6" width="1.0" height="1.0"/><rect x="51.8" y="55.6" width="1.0" height="1.0"/><rect x="47.2" y="64.1" width="1.0" height="1.0"/><rect x="49.6" y="54.3" width="1.0" height="1.0"/><rect x="46.6" y="43.5" width="1.0" height="1.0"/><rect x="63.0" y="70.6" width="1.0" height="1.0"/><rect x="58.7" y="52.2" width="1.0" height="1.0"/><rect x="29.9" y="61.4" width="1.0" height="1.0"/><rect x="69.2" y="62.4" width="1.0" height="1.0"/><rect x="66.3" y="71.8" width="1.0" height="1.0"/><rect x="68.3" y="56.5" width="1.0" height="1.0"/><rect x="67.5" y="66.2" width="1.0" height="1.0"/><rect x="41.6" y="56.8" width="1.0" height="1.0"/></g><g fill="#000" fill-opacity="0.5"><rect x="36.9" y="44.3" width="1.0" height="1.0"/><rect x="43.0" y="39.1" width="1.0" height="1.0"/><rect x="36.0" y="48.6" width="1.0" height="1.0"/><rect x="44.8" y="45.5" width="1.0" height="1.0"/><rect x="38.4" y="46.9" width="1.0" height="1.0"/><rect x="51.3" y="44.4" width="1.0" height="1.0"/><rect x="41.5" y="43.4" width="1.0" height="1.0"/><rect x="42.4" y="45.1" width="1.0" height="1.0"/><rect x="45.7" y="41.2" width="1.0" height="1.0"/><rect x="37.9" y="46.2" width="1.0" height="1.0"/><rect x="41.0" y="44.7" width="1.0" height="1.0"/><rect x="44.5" y="46.0" width="1.0" height="1.0"/><rect x="45.6" y="39.8" width="1.0" height="1.0"/><rect x="44.9" y="46.3" width="1.0" height="1.0"/><rect x="40.5" y="44.3" width="1.0" height="1.0"/><rect x="47.4" y="43.8" width="1.0" height="1.0"/><rect x="42.5" y="38.6" width="1.0" height="1.0"/><rect x="37.8" y="44.9" width="1.0" height="1.0"/><rect x="45.8" y="48.1" width="1.0" height="1.0"/><rect x="40.1" y="46.5" width="1.0" height="1.0"/><rect x="43.1" y="37.4" width="1.0" height="1.0"/><rect x="39.3" y="44.1" width="1.0" height="1.0"/><rect x="40.1" y="42.8" width="1.0" height="1.0"/><rect x="42.9" y="39.9" width="1.0" height="1.0"/><rect x="43.0" y="40.3" width="1.0" height="1.0"/><rect x="40.6" y="44.6" width="1.0" height="1.0"/><rect x="40.3" y="44.0" width="1.0" height="1.0"/><rect x="47.7" y="40.3" width="1.0" height="1.0"/><rect x="42.2" y="44.5" width="1.0" height="1.0"/><rect x="41.8" y="45.6" width="1.0" height="1.0"/><rect x="38.1" y="45.8" width="1.0" height="1.0"/><rect x="39.4" y="41.3" width="1.0" height="1.0"/><rect x="47.4" y="37.9" width="1.0" height="1.0"/><rect x="48.8" y="41.6" width="1.0" height="1.0"/><rect x="46.2" y="38.1" width="1.0" height="1.0"/><rect x="47.6" y="44.3" width="1.0" height="1.0"/><rect x="41.5" y="42.4" width="1.0" height="1.0"/><rect x="50.8" y="39.4" width="1.0" height="1.0"/><rect x="39.9" y="41.6" width="1.0" height="1.0"/><rect x="43.9" y="42.7" width="1.0" height="1.0"/><rect x="44.3" y="46.4" width="1.0" height="1.0"/><rect x="41.3" y="44.1" width="1.0" height="1.0"/><rect x="46.2" y="38.0" width="1.0" height="1.0"/><rect x="47.4" y="45.4" width="1.0" height="1.0"/><rect x="36.2" y="41.8" width="1.0" height="1.0"/><rect x="36.5" y="39.5" width="1.0" height="1.0"/><rect x="41.8" y="37.4" width="1.0" height="1.0"/><rect x="45.2" y="45.3" width="1.0" height="1.0"/><rect x="36.0" y="44.0" width="1.0" height="1.0"/><rect x="36.0" y="47.1" width="1.0" height="1.0"/><rect x="39.1" y="42.9" width="1.0" height="1.0"/><rect x="42.7" y="43.7" width="1.0" height="1.0"/><rect x="40.8" y="43.0" width="1.0" height="1.0"/><rect x="40.2" y="43.6" width="1.0" height="1.0"/><rect x="37.9" y="44.3" width="1.0" height="1.0"/><rect x="34.7" y="44.1" width="1.0" height="1.0"/><rect x="48.8" y="40.0" width="1.0" height="1.0"/><rect x="37.8" y="44.9" width="1.0" height="1.0"/><rect x="37.0" y="39.9" width="1.0" height="1.0"/><rect x="40.1" y="45.3" width="1.0" height="1.0"/><rect x="43.3" y="41.7" width="1.0" height="1.0"/><rect x="37.7" y="41.2" width="1.0" height="1.0"/><rect x="47.0" y="41.2" width="1.0" height="1.0"/><rect x="36.6" y="38.8" width="1.0" height="1.0"/><rect x="39.6" y="50.4" width="1.0" height="1.0"/><rect x="37.9" y="44.0" width="1.0" height="1.0"/><rect x="42.6" y="41.8" width="1.0" height="1.0"/><rect x="39.7" y="39.6" width="1.0" height="1.0"/><rect x="39.9" y="48.1" width="1.0" height="1.0"/><rect x="40.2" y="45.6" width="1.0" height="1.0"/><rect x="35.8" y="44.3" width="1.0" height="1.0"/><rect x="43.9" y="44.6" width="1.0" height="1.0"/><rect x="38.6" y="45.5" width="1.0" height="1.0"/><rect x="42.6" y="40.2" width="1.0" height="1.0"/><rect x="42.8" y="39.7" width="1.0" height="1.0"/><rect x="39.2" y="43.6" width="1.0" height="1.0"/><rect x="32.3" y="46.1" width="1.0" height="1.0"/><rect x="37.1" y="40.4" width="1.0" height="1.0"/><rect x="41.2" y="44.9" width="1.0" height="1.0"/><rect x="41.8" y="46.1" width="1.0" height="1.0"/><rect x="36.6" y="41.0" width="1.0" height="1.0"/><rect x="47.9" y="41.3" width="1.0" height="1.0"/><rect x="44.5" y="39.2" width="1.0" height="1.0"/><rect x="45.1" y="42.0" width="1.0" height="1.0"/><rect x="44.3" y="41.6" width="1.0" height="1.0"/><rect x="45.6" y="39.2" width="1.0" height="1.0"/><rect x="37.2" y="40.3" width="1.0" height="1.0"/><rect x="45.4" y="39.1" width="1.0" height="1.0"/><rect x="37.4" y="41.7" width="1.0" height="1.0"/><rect x="39.2" y="40.1" width="1.0" height="1.0"/><rect x="40.4" y="41.4" width="1.0" height="1.0"/><rect x="39.1" y="41.0" width="1.0" height="1.0"/><rect x="41.7" y="41.3" width="1.0" height="1.0"/><rect x="42.6" y="42.9" width="1.0" height="1.0"/><rect x="41.1" y="36.7" width="1.0" height="1.0"/><rect x="39.3" y="41.3" width="1.0" height="1.0"/><rect x="43.2" y="37.6" width="1.0" height="1.0"/><rect x="39.2" y="42.8" width="1.0" height="1.0"/><rect x="41.8" y="45.4" width="1.0" height="1.0"/><rect x="41.4" y="45.5" width="1.0" height="1.0"/><rect x="35.1" y="40.2" width="1.0" height="1.0"/><rect x="46.7" y="41.8" width="1.0" height="1.0"/><rect x="43.8" y="42.1" width="1.0" height="1.0"/><rect x="42.5" y="38.9" width="1.0" height="1.0"/><rect x="44.8" y="39.9" width="1.0" height="1.0"/><rect x="45.6" y="41.3" width="1.0" height="1.0"/><rect x="33.8" y="42.2" width="1.0" height="1.0"/><rect x="45.8" y="40.6" width="1.0" height="1.0"/><rect x="40.8" y="43.6" width="1.0" height="1.0"/><rect x="40.0" y="41.8" width="1.0" height="1.0"/><rect x="42.5" y="42.7" width="1.0" height="1.0"/><rect x="47.4" y="40.5" width="1.0" height="1.0"/><rect x="50.4" y="44.2" width="1.0" height="1.0"/><rect x="49.1" y="42.6" width="1.0" height="1.0"/><rect x="42.6" y="42.6" width="1.0" height="1.0"/><rect x="40.8" y="40.9" width="1.0" height="1.0"/><rect x="41.1" y="41.0" width="1.0" height="1.0"/><rect x="48.3" y="41.5" width="1.0" height="1.0"/><rect x="38.6" y="38.5" width="1.0" height="1.0"/><rect x="41.4" y="41.6" width="1.0" height="1.0"/><rect x="37.1" y="41.3" width="1.0" height="1.0"/><rect x="34.6" y="47.1" width="1.0" height="1.0"/><rect x="44.3" y="48.8" width="1.0" height="1.0"/><rect x="41.7" y="42.2" width="1.0" height="1.0"/><rect x="47.2" y="40.8" width="1.0" height="1.0"/><rect x="42.2" y="41.4" width="1.0" height="1.0"/><rect x="41.3" y="47.0" width="1.0" height="1.0"/><rect x="47.2" y="45.2" width="1.0" height="1.0"/><rect x="40.8" y="43.1" width="1.0" height="1.0"/><rect x="39.8" y="46.1" width="1.0" height="1.0"/><rect x="37.6" y="45.8" width="1.0" height="1.0"/><rect x="47.2" y="44.3" width="1.0" height="1.0"/><rect x="39.8" y="46.5" width="1.0" height="1.0"/><rect x="38.7" y="41.7" width="1.0" height="1.0"/><rect x="38.5" y="47.2" width="1.0" height="1.0"/><rect x="47.2" y="38.7" width="1.0" height="1.0"/><rect x="39.0" y="42.8" width="1.0" height="1.0"/><rect x="51.8" y="41.4" width="1.0" height="1.0"/><rect x="38.3" y="38.9" width="1.0" height="1.0"/><rect x="40.8" y="46.3" width="1.0" height="1.0"/><rect x="48.3" y="39.2" width="1.0" height="1.0"/><rect x="39.1" y="42.3" width="1.0" height="1.0"/><rect x="36.2" y="47.4" width="1.0" height="1.0"/><rect x="39.2" y="46.6" width="1.0" height="1.0"/><rect x="34.7" y="41.9" width="1.0" height="1.0"/><rect x="42.3" y="40.2" width="1.0" height="1.0"/><rect x="44.8" y="41.4" width="1.0" height="1.0"/><rect x="38.5" y="45.7" width="1.0" height="1.0"/><rect x="43.1" y="36.7" width="1.0" height="1.0"/><rect x="48.9" y="41.1" width="1.0" height="1.0"/><rect x="42.9" y="36.9" width="1.0" height="1.0"/><rect x="39.1" y="42.7" width="1.0" height="1.0"/><rect x="44.4" y="37.4" width="1.0" height="1.0"/><rect x="36.9" y="38.9" width="1.0" height="1.0"/><rect x="41.5" y="43.7" width="1.0" height="1.0"/><rect x="35.5" y="43.5" width="1.0" height="1.0"/><rect x="45.3" y="45.6" width="1.0" height="1.0"/><rect x="44.0" y="40.8" width="1.0" height="1.0"/><rect x="36.9" y="41.9" width="1.0" height="1.0"/><rect x="39.8" y="43.8" width="1.0" height="1.0"/><rect x="43.4" y="46.6" width="1.0" height="1.0"/><rect x="42.0" y="39.5" width="1.0" height="1.0"/><rect x="48.4" y="42.6" width="1.0" height="1.0"/><rect x="41.7" y="40.6" width="1.0" height="1.0"/><rect x="34.4" y="42.7" width="1.0" height="1.0"/><rect x="44.4" y="39.3" width="1.0" height="1.0"/><rect x="37.5" y="44.9" width="1.0" height="1.0"/><rect x="43.4" y="43.6" width="1.0" height="1.0"/><rect x="45.7" y="45.0" width="1.0" height="1.0"/><rect x="40.0" y="46.1" width="1.0" height="1.0"/></g><g fill="#000" fill-opacity="0.6"><rect x="46.7" y="43.0" width="1.0" height="1.0"/><rect x="51.6" y="39.6" width="1.0" height="1.0"/><rect x="55.0" y="37.4" width="1.0" height="1.0"/><rect x="56.6" y="39.5" width="1.0" height="1.0"/><rect x="50.5" y="37.6" width="1.0" height="1.0"/><rect x="46.5" y="39.3" width="1.0" height="1.0"/><rect x="49.5" y="39.6" width="1.0" height="1.0"/><rect x="65.0" y="35.4" width="1.0" height="1.0"/><rect x="53.2" y="35.6" width="1.0" height="1.0"/><rect x="46.9" y="39.8" width="1.0" height="1.0"/><rect x="50.3" y="36.3" width="1.0" height="1.0"/><rect x="57.4" y="34.8" width="1.0" height="1.0"/><rect x="53.0" y="31.2" width="1.0" height="1.0"/><rect x="50.8" y="40.0" width="1.0" height="1.0"/><rect x="52.0" y="40.5" width="1.0" height="1.0"/><rect x="52.0" y="39.2" width="1.0" height="1.0"/><rect x="41.0" y="41.0" width="1.0" height="1.0"/><rect x="40.3" y="45.3" width="1.0" height="1.0"/><rect x="51.7" y="38.2" width="1.0" height="1.0"/><rect x="46.1" y="39.3" width="1.0" height="1.0"/><rect x="60.9" y="40.3" width="1.0" height="1.0"/><rect x="51.6" y="42.8" width="1.0" height="1.0"/><rect x="41.1" y="37.3" width="1.0" height="1.0"/><rect x="47.3" y="37.9" width="1.0" height="1.0"/><rect x="48.1" y="40.8" width="1.0" height="1.0"/><rect x="63.8" y="31.9" width="1.0" height="1.0"/><rect x="51.0" y="39.9" width="1.0" height="1.0"/><rect x="51.3" y="41.8" width="1.0" height="1.0"/><rect x="57.4" y="32.7" width="1.0" height="1.0"/><rect x="51.0" y="38.3" width="1.0" height="1.0"/><rect x="50.5" y="34.7" width="1.0" height="1.0"/><rect x="39.9" y="36.6" width="1.0" height="1.0"/><rect x="53.1" y="38.8" width="1.0" height="1.0"/><rect x="48.4" y="33.0" width="1.0" height="1.0"/><rect x="48.0" y="38.0" width="1.0" height="1.0"/><rect x="43.0" y="39.6" width="1.0" height="1.0"/><rect x="54.3" y="39.4" width="1.0" height="1.0"/><rect x="50.9" y="40.7" width="1.0" height="1.0"/><rect x="47.8" y="40.6" width="1.0" height="1.0"/><rect x="51.3" y="40.7" width="1.0" height="1.0"/><rect x="50.0" y="39.1" width="1.0" height="1.0"/><rect x="49.2" y="37.9" width="1.0" height="1.0"/><rect x="61.4" y="36.5" width="1.0" height="1.0"/><rect x="54.9" y="44.4" width="1.0" height="1.0"/><rect x="55.4" y="32.6" width="1.0" height="1.0"/><rect x="54.6" y="40.2" width="1.0" height="1.0"/><rect x="60.6" y="39.2" width="1.0" height="1.0"/><rect x="52.8" y="34.8" width="1.0" height="1.0"/><rect x="46.7" y="41.6" width="1.0" height="1.0"/><rect x="51.8" y="35.7" width="1.0" height="1.0"/><rect x="48.3" y="39.0" width="1.0" height="1.0"/><rect x="51.1" y="40.1" width="1.0" height="1.0"/><rect x="47.9" y="36.6" width="1.0" height="1.0"/><rect x="57.9" y="41.1" width="1.0" height="1.0"/><rect x="51.1" y="42.2" width="1.0" height="1.0"/><rect x="53.3" y="40.2" width="1.0" height="1.0"/><rect x="51.9" y="36.4" width="1.0" height="1.0"/><rect x="54.2" y="40.8" width="1.0" height="1.0"/><rect x="48.4" y="46.1" width="1.0" height="1.0"/><rect x="62.1" y="40.1" width="1.0" height="1.0"/><rect x="60.5" y="37.5" width="1.0" height="1.0"/><rect x="48.3" y="38.4" width="1.0" height="1.0"/><rect x="46.9" y="41.1" width="1.0" height="1.0"/><rect x="51.1" y="41.1" width="1.0" height="1.0"/><rect x="43.6" y="49.1" width="1.0" height="1.0"/><rect x="61.0" y="35.0" width="1.0" height="1.0"/><rect x="54.1" y="39.3" width="1.0" height="1.0"/><rect x="51.5" y="38.2" width="1.0" height="1.0"/><rect x="49.1" y="37.4" width="1.0" height="1.0"/><rect x="51.3" y="38.9" width="1.0" height="1.0"/><rect x="51.1" y="36.5" width="1.0" height="1.0"/><rect x="50.7" y="39.4" width="1.0" height="1.0"/><rect x="52.2" y="35.4" width="1.0" height="1.0"/><rect x="53.5" y="41.1" width="1.0" height="1.0"/><rect x="52.9" y="37.2" width="1.0" height="1.0"/><rect x="48.0" y="39.6" width="1.0" height="1.0"/><rect x="55.5" y="42.0" width="1.0" height="1.0"/><rect x="49.1" y="37.9" width="1.0" height="1.0"/><rect x="52.5" y="39.1" width="1.0" height="1.0"/><rect x="45.5" y="39.1" width="1.0" height="1.0"/><rect x="50.7" y="41.2" width="1.0" height="1.0"/><rect x="43.9" y="38.9" width="1.0" height="1.0"/><rect x="51.5" y="35.2" width="1.0" height="1.0"/><rect x="51.4" y="40.0" width="1.0" height="1.0"/><rect x="48.9" y="36.9" width="1.0" height="1.0"/><rect x="49.9" y="38.5" width="1.0" height="1.0"/><rect x="51.2" y="36.5" width="1.0" height="1.0"/><rect x="53.8" y="32.9" width="1.0" height="1.0"/><rect x="49.7" y="39.7" width="1.0" height="1.0"/><rect x="54.3" y="35.9" width="1.0" height="1.0"/><rect x="52.4" y="36.8" width="1.0" height="1.0"/><rect x="55.7" y="42.4" width="1.0" height="1.0"/><rect x="49.1" y="41.2" width="1.0" height="1.0"/><rect x="47.2" y="43.6" width="1.0" height="1.0"/><rect x="56.2" y="37.1" width="1.0" height="1.0"/><rect x="45.7" y="42.5" width="1.0" height="1.0"/><rect x="57.0" y="40.0" width="1.0" height="1.0"/><rect x="52.3" y="33.0" width="1.0" height="1.0"/><rect x="48.8" y="44.3" width="1.0" height="1.0"/><rect x="46.0" y="44.5" width="1.0" height="1.0"/><rect x="60.0" y="37.8" width="1.0" height="1.0"/><rect x="55.3" y="36.3" width="1.0" height="1.0"/><rect x="44.7" y="41.3" width="1.0" height="1.0"/><rect x="49.5" y="39.5" width="1.0" height="1.0"/><rect x="53.6" y="37.6" width="1.0" height="1.0"/><rect x="51.8" y="40.0" width="1.0" height="1.0"/><rect x="52.4" y="44.1" width="1.0" height="1.0"/><rect x="52.6" y="38.7" width="1.0" height="1.0"/><rect x="48.9" y="38.1" width="1.0" height="1.0"/><rect x="56.9" y="37.2" width="1.0" height="1.0"/><rect x="44.9" y="39.9" width="1.0" height="1.0"/><rect x="49.4" y="38.4" width="1.0" height="1.0"/><rect x="54.3" y="34.3" width="1.0" height="1.0"/><rect x="52.9" y="38.8" width="1.0" height="1.0"/><rect x="45.1" y="41.6" width="1.0" height="1.0"/><rect x="50.6" y="40.8" width="1.0" height="1.0"/><rect x="48.7" y="40.9" width="1.0" height="1.0"/><rect x="41.6" y="39.6" width="1.0" height="1.0"/><rect x="55.2" y="40.5" width="1.0" height="1.0"/><rect x="49.8" y="37.8" width="1.0" height="1.0"/><rect x="53.3" y="31.8" width="1.0" height="1.0"/><rect x="47.5" y="42.5" width="1.0" height="1.0"/><rect x="52.4" y="35.4" width="1.0" height="1.0"/><rect x="43.3" y="46.6" width="1.0" height="1.0"/><rect x="50.3" y="36.7" width="1.0" height="1.0"/><rect x="51.7" y="41.5" width="1.0" height="1.0"/><rect x="39.6" y="47.0" width="1.0" height="1.0"/><rect x="51.7" y="32.5" width="1.0" height="1.0"/><rect x="52.2" y="33.2" width="1.0" height="1.0"/><rect x="56.2" y="38.2" width="1.0" height="1.0"/><rect x="60.3" y="33.5" width="1.0" height="1.0"/><rect x="51.6" y="42.0" width="1.0" height="1.0"/><rect x="46.8" y="38.7" width="1.0" height="1.0"/><rect x="48.7" y="39.8" width="1.0" height="1.0"/><rect x="46.0" y="42.6" width="1.0" height="1.0"/><rect x="53.1" y="38.5" width="1.0" height="1.0"/><rect x="58.0" y="35.3" width="1.0" height="1.0"/><rect x="56.0" y="35.4" width="1.0" height="1.0"/><rect x="52.0" y="32.9" width="1.0" height="1.0"/><rect x="51.2" y="38.5" width="1.0" height="1.0"/><rect x="47.6" y="38.6" width="1.0" height="1.0"/><rect x="48.1" y="38.1" width="1.0" height="1.0"/><rect x="39.7" y="41.9" width="1.0" height="1.0"/><rect x="47.4" y="39.0" width="1.0" height="1.0"/><rect x="45.5" y="40.9" width="1.0" height="1.0"/><rect x="53.9" y="37.2" width="1.0" height="1.0"/><rect x="49.6" y="43.7" width="1.0" height="1.0"/><rect x="56.0" y="39.9" width="1.0" height="1.0"/><rect x="55.5" y="36.3" width="1.0" height="1.0"/><rect x="51.1" y="42.4" width="1.0" height="1.0"/><rect x="47.8" y="40.0" width="1.0" height="1.0"/><rect x="52.6" y="39.6" width="1.0" height="1.0"/><rect x="50.3" y="42.4" width="1.0" height="1.0"/><rect x="50.4" y="41.5" width="1.0" height="1.0"/><rect x="56.2" y="39.0" width="1.0" height="1.0"/><rect x="52.7" y="34.9" width="1.0" height="1.0"/><rect x="43.8" y="40.1" width="1.0" height="1.0"/><rect x="54.3" y="42.3" width="1.0" height="1.0"/><rect x="45.2" y="42.4" width="1.0" height="1.0"/><rect x="45.8" y="39.0" width="1.0" height="1.0"/><rect x="49.9" y="41.6" width="1.0" height="1.0"/><rect x="52.7" y="42.0" width="1.0" height="1.0"/><rect x="46.9" y="43.5" width="1.0" height="1.0"/><rect x="54.9" y="37.7" width="1.0" height="1.0"/><rect x="52.1" y="36.9" width="1.0" height="1.0"/><rect x="45.0" y="40.3" width="1.0" height="1.0"/><rect x="50.6" y="48.0" width="1.0" height="1.0"/><rect x="50.0" y="44.5" width="1.0" height="1.0"/><rect x="51.8" y="39.7" width="1.0" height="1.0"/><rect x="53.1" y="35.9" width="1.0" height="1.0"/><rect x="55.1" y="38.6" width="1.0" height="1.0"/><rect x="44.1" y="43.7" width="1.0" height="1.0"/><rect x="53.5" y="39.4" width="1.0" height="1.0"/><rect x="57.4" y="35.3" width="1.0" height="1.0"/><rect x="53.7" y="40.3" width="1.0" height="1.0"/><rect x="47.6" y="44.1" width="1.0" height="1.0"/><rect x="42.4" y="38.6" width="1.0" height="1.0"/><rect x="51.8" y="35.5" width="1.0" height="1.0"/><rect x="48.2" y="35.2" width="1.0" height="1.0"/><rect x="49.6" y="36.2" width="1.0" height="1.0"/><rect x="50.5" y="34.7" width="1.0" height="1.0"/><rect x="52.3" y="37.8" width="1.0" height="1.0"/><rect x="50.7" y="39.0" width="1.0" height="1.0"/><rect x="49.7" y="35.6" width="1.0" height="1.0"/><rect x="38.6" y="44.2" width="1.0" height="1.0"/><rect x="45.7" y="39.9" width="1.0" height="1.0"/><rect x="50.4" y="33.3" width="1.0" height="1.0"/><rect x="46.3" y="39.1" width="1.0" height="1.0"/><rect x="45.9" y="42.1" width="1.0" height="1.0"/><rect x="49.0" y="37.4" width="1.0" height="1.0"/><rect x="46.8" y="43.2" width="1.0" height="1.0"/><rect x="48.1" y="42.1" width="1.0" height="1.0"/><rect x="50.6" y="33.5" width="1.0" height="1.0"/><rect x="45.5" y="41.3" width="1.0" height="1.0"/><rect x="52.9" y="40.7" width="1.0" height="1.0"/><rect x="55.3" y="40.5" width="1.0" height="1.0"/><rect x="48.5" y="39.5" width="1.0" height="1.0"/><rect x="53.6" y="36.7" width="1.0" height="1.0"/><rect x="53.7" y="33.2" width="1.0" height="1.0"/><rect x="53.3" y="37.6" width="1.0" height="1.0"/><rect x="42.4" y="45.5" width="1.0" height="1.0"/><rect x="52.0" y="38.8" width="1.0" height="1.0"/><rect x="45.0" y="40.1" width="1.0" height="1.0"/><rect x="56.6" y="34.3" width="1.0" height="1.0"/><rect x="33.5" y="43.6" width="1.0" height="1.0"/><rect x="44.8" y="41.2" width="1.0" height="1.0"/><rect x="47.7" y="37.7" width="1.0" height="1.0"/><rect x="47.7" y="43.6" width="1.0" height="1.0"/><rect x="45.9" y="47.1" width="1.0" height="1.0"/><rect x="46.8" y="37.5" width="1.0" height="1.0"/><rect x="54.7" y="39.3" width="1.0" height="1.0"/><rect x="46.5" y="43.2" width="1.0" height="1.0"/><rect x="41.0" y="40.3" width="1.0" height="1.0"/><rect x="55.5" y="36.5" width="1.0" height="1.0"/><rect x="45.0" y="43.1" width="1.0" height="1.0"/><rect x="54.7" y="37.5" width="1.0" height="1.0"/><rect x="41.8" y="41.8" width="1.0" height="1.0"/><rect x="53.2" y="40.5" width="1.0" height="1.0"/><rect x="58.8" y="35.2" width="1.0" height="1.0"/><rect x="48.2" y="40.1" width="1.0" height="1.0"/><rect x="55.1" y="34.6" width="1.0" height="1.0"/><rect x="53.7" y="29.7" width="1.0" height="1.0"/><rect x="53.5" y="36.1" width="1.0" height="1.0"/><rect x="53.4" y="40.2" width="1.0" height="1.0"/><rect x="44.9" y="41.3" width="1.0" height="1.0"/><rect x="52.2" y="40.4" width="1.0" height="1.0"/><rect x="45.1" y="38.5" width="1.0" height="1.0"/><rect x="44.2" y="49.5" width="1.0" height="1.0"/><rect x="49.4" y="39.1" width="1.0" height="1.0"/><rect x="44.5" y="44.5" width="1.0" height="1.0"/><rect x="49.5" y="44.0" width="1.0" height="1.0"/><rect x="54.5" y="37.8" width="1.0" height="1.0"/><rect x="52.7" y="35.1" width="1.0" height="1.0"/><rect x="48.4" y="38.4" width="1.0" height="1.0"/><rect x="44.6" y="41.7" width="1.0" height="1.0"/><rect x="51.3" y="43.3" width="1.0" height="1.0"/><rect x="34.3" y="43.8" width="1.0" height="1.0"/><rect x="45.8" y="39.8" width="1.0" height="1.0"/><rect x="52.9" y="39.6" width="1.0" height="1.0"/><rect x="50.1" y="38.0" width="1.0" height="1.0"/><rect x="53.2" y="39.3" width="1.0" height="1.0"/><rect x="41.7" y="42.1" width="1.0" height="1.0"/><rect x="42.9" y="38.8" width="1.0" height="1.0"/><rect x="51.2" y="39.2" width="1.0" height="1.0"/><rect x="50.1" y="36.8" width="1.0" height="1.0"/><rect x="48.6" y="37.3" width="1.0" height="1.0"/><rect x="53.0" y="40.4" width="1.0" height="1.0"/><rect x="60.0" y="39.3" width="1.0" height="1.0"/><rect x="46.3" y="39.6" width="1.0" height="1.0"/><rect x="46.5" y="41.9" width="1.0" height="1.0"/><rect x="60.4" y="37.4" width="1.0" height="1.0"/><rect x="39.0" y="40.2" width="1.0" height="1.0"/><rect x="45.0" y="43.1" width="1.0" height="1.0"/><rect x="50.8" y="40.1" width="1.0" height="1.0"/><rect x="57.9" y="33.8" width="1.0" height="1.0"/><rect x="48.6" y="46.0" width="1.0" height="1.0"/><rect x="51.3" y="36.6" width="1.0" height="1.0"/><rect x="39.5" y="39.1" width="1.0" height="1.0"/><rect x="39.2" y="44.1" width="1.0" height="1.0"/><rect x="51.7" y="41.8" width="1.0" height="1.0"/><rect x="49.1" y="37.8" width="1.0" height="1.0"/><rect x="49.1" y="45.6" width="1.0" height="1.0"/><rect x="42.5" y="43.1" width="1.0" height="1.0"/><rect x="51.3" y="40.9" width="1.0" height="1.0"/><rect x="49.1" y="41.4" width="1.0" height="1.0"/><rect x="54.1" y="37.4" width="1.0" height="1.0"/><rect x="48.2" y="39.7" width="1.0" height="1.0"/><rect x="45.8" y="40.6" width="1.0" height="1.0"/><rect x="49.3" y="40.4" width="1.0" height="1.0"/><rect x="58.1" y="40.2" width="1.0" height="1.0"/><rect x="49.1" y="41.7" width="1.0" height="1.0"/><rect x="52.7" y="40.7" width="1.0" height="1.0"/><rect x="50.9" y="39.9" width="1.0" height="1.0"/><rect x="47.5" y="38.1" width="1.0" height="1.0"/><rect x="55.9" y="41.0" width="1.0" height="1.0"/><rect x="54.0" y="39.2" width="1.0" height="1.0"/><rect x="51.3" y="37.6" width="1.0" height="1.0"/><rect x="42.9" y="44.4" width="1.0" height="1.0"/><rect x="50.8" y="37.5" width="1.0" height="1.0"/><rect x="47.4" y="44.4" width="1.0" height="1.0"/><rect x="44.0" y="47.3" width="1.0" height="1.0"/><rect x="56.0" y="44.3" width="1.0" height="1.0"/><rect x="47.1" y="40.6" width="1.0" height="1.0"/><rect x="48.3" y="40.7" width="1.0" height="1.0"/><rect x="48.7" y="37.8" width="1.0" height="1.0"/><rect x="54.7" y="35.2" width="1.0" height="1.0"/><rect x="48.7" y="41.7" width="1.0" height="1.0"/><rect x="47.6" y="39.2" width="1.0" height="1.0"/><rect x="51.8" y="37.7" width="1.0" height="1.0"/><rect x="44.6" y="41.4" width="1.0" height="1.0"/><rect x="51.3" y="44.1" width="1.0" height="1.0"/><rect x="46.4" y="43.9" width="1.0" height="1.0"/><rect x="46.5" y="39.8" width="1.0" height="1.0"/><rect x="49.3" y="40.6" width="1.0" height="1.0"/><rect x="56.3" y="42.2" width="1.0" height="1.0"/><rect x="48.9" y="43.9" width="1.0" height="1.0"/><rect x="56.0" y="39.5" width="1.0" height="1.0"/><rect x="47.9" y="43.1" width="1.0" height="1.0"/><rect x="50.4" y="40.4" width="1.0" height="1.0"/><rect x="49.9" y="41.5" width="1.0" height="1.0"/><rect x="56.9" y="40.1" width="1.0" height="1.0"/><rect x="50.6" y="42.3" width="1.0" height="1.0"/><rect x="56.3" y="34.2" width="1.0" height="1.0"/><rect x="55.9" y="33.1" width="1.0" height="1.0"/><rect x="53.6" y="39.8" width="1.0" height="1.0"/><rect x="57.7" y="37.2" width="1.0" height="1.0"/><rect x="47.4" y="38.1" width="1.0" height="1.0"/><rect x="45.5" y="43.6" width="1.0" height="1.0"/><rect x="48.6" y="37.9" width="1.0" height="1.0"/><rect x="52.2" y="36.3" width="1.0" height="1.0"/><rect x="48.0" y="38.9" width="1.0" height="1.0"/><rect x="59.7" y="40.0" width="1.0" height="1.0"/><rect x="48.1" y="35.5" width="1.0" height="1.0"/><rect x="51.9" y="39.0" width="1.0" height="1.0"/><rect x="52.7" y="40.1" width="1.0" height="1.0"/><rect x="50.0" y="42.3" width="1.0" height="1.0"/><rect x="54.6" y="38.3" width="1.0" height="1.0"/><rect x="48.1" y="38.8" width="1.0" height="1.0"/><rect x="52.6" y="35.1" width="1.0" height="1.0"/><rect x="49.0" y="37.7" width="1.0" height="1.0"/><rect x="44.7" y="43.5" width="1.0" height="1.0"/><rect x="50.4" y="39.4" width="1.0" height="1.0"/><rect x="53.0" y="33.8" width="1.0" height="1.0"/><rect x="50.5" y="40.2" width="1.0" height="1.0"/><rect x="53.2" y="34.9" width="1.0" height="1.0"/><rect x="54.0" y="38.5" width="1.0" height="1.0"/><rect x="58.0" y="39.7" width="1.0" height="1.0"/><rect x="55.3" y="43.8" width="1.0" height="1.0"/><rect x="50.0" y="38.2" width="1.0" height="1.0"/><rect x="47.9" y="37.5" width="1.0" height="1.0"/><rect x="48.4" y="34.5" width="1.0" height="1.0"/><rect x="50.6" y="40.6" width="1.0" height="1.0"/><rect x="54.7" y="36.5" width="1.0" height="1.0"/><rect x="56.3" y="35.0" width="1.0" height="1.0"/><rect x="47.9" y="34.7" width="1.0" height="1.0"/><rect x="46.1" y="38.7" width="1.0" height="1.0"/><rect x="57.8" y="37.9" width="1.0" height="1.0"/><rect x="46.0" y="42.7" width="1.0" height="1.0"/><rect x="52.4" y="37.8" width="1.0" height="1.0"/><rect x="50.3" y="38.5" width="1.0" height="1.0"/><rect x="46.2" y="35.8" width="1.0" height="1.0"/><rect x="51.4" y="42.7" width="1.0" height="1.0"/><rect x="56.7" y="36.0" width="1.0" height="1.0"/><rect x="46.9" y="40.1" width="1.0" height="1.0"/><rect x="54.9" y="38.5" width="1.0" height="1.0"/><rect x="48.2" y="41.3" width="1.0" height="1.0"/><rect x="50.1" y="41.0" width="1.0" height="1.0"/><rect x="47.1" y="36.3" width="1.0" height="1.0"/><rect x="51.5" y="41.1" width="1.0" height="1.0"/><rect x="45.4" y="41.1" width="1.0" height="1.0"/><rect x="54.1" y="36.7" width="1.0" height="1.0"/><rect x="49.6" y="45.6" width="1.0" height="1.0"/><rect x="55.3" y="40.4" width="1.0" height="1.0"/><rect x="47.9" y="45.2" width="1.0" height="1.0"/><rect x="42.5" y="41.0" width="1.0" height="1.0"/><rect x="55.2" y="41.3" width="1.0" height="1.0"/><rect x="45.6" y="39.3" width="1.0" height="1.0"/><rect x="49.4" y="34.1" width="1.0" height="1.0"/><rect x="54.0" y="39.5" width="1.0" height="1.0"/><rect x="49.0" y="41.5" width="1.0" height="1.0"/><rect x="54.3" y="38.7" width="1.0" height="1.0"/><rect x="54.4" y="42.2" width="1.0" height="1.0"/><rect x="48.5" y="40.6" width="1.0" height="1.0"/><rect x="49.2" y="42.9" width="1.0" height="1.0"/><rect x="49.1" y="41.2" width="1.0" height="1.0"/><rect x="51.2" y="39.2" width="1.0" height="1.0"/><rect x="58.1" y="36.0" width="1.0" height="1.0"/><rect x="57.7" y="38.8" width="1.0" height="1.0"/><rect x="56.3" y="36.5" width="1.0" height="1.0"/><rect x="55.4" y="39.5" width="1.0" height="1.0"/><rect x="48.0" y="41.1" width="1.0" height="1.0"/><rect x="49.9" y="39.4" width="1.0" height="1.0"/><rect x="55.6" y="35.1" width="1.0" height="1.0"/><rect x="41.2" y="38.0" width="1.0" height="1.0"/><rect x="47.8" y="38.5" width="1.0" height="1.0"/><rect x="51.1" y="40.7" width="1.0" height="1.0"/><rect x="58.7" y="36.9" width="1.0" height="1.0"/><rect x="51.8" y="36.6" width="1.0" height="1.0"/><rect x="54.5" y="41.7" width="1.0" height="1.0"/><rect x="54.5" y="32.0" width="1.0" height="1.0"/><rect x="56.1" y="41.7" width="1.0" height="1.0"/><rect x="52.7" y="34.1" width="1.0" height="1.0"/><rect x="49.7" y="41.3" width="1.0" height="1.0"/><rect x="51.5" y="36.5" width="1.0" height="1.0"/><rect x="47.5" y="43.3" width="1.0" height="1.0"/><rect x="46.0" y="45.3" width="1.0" height="1.0"/><rect x="50.9" y="40.0" width="1.0" height="1.0"/><rect x="43.9" y="40.2" width="1.0" height="1.0"/><rect x="52.1" y="34.4" width="1.0" height="1.0"/><rect x="58.3" y="32.1" width="1.0" height="1.0"/><rect x="45.1" y="41.6" width="1.0" height="1.0"/><rect x="53.4" y="40.3" width="1.0" height="1.0"/><rect x="48.6" y="39.5" width="1.0" height="1.0"/><rect x="48.9" y="38.3" width="1.0" height="1.0"/><rect x="40.0" y="46.3" width="1.0" height="1.0"/><rect x="51.8" y="39.2" width="1.0" height="1.0"/><rect x="48.0" y="41.1" width="1.0" height="1.0"/><rect x="50.4" y="39.1" width="1.0" height="1.0"/><rect x="53.7" y="33.0" width="1.0" height="1.0"/><rect x="50.5" y="36.2" width="1.0" height="1.0"/><rect x="50.6" y="43.6" width="1.0" height="1.0"/><rect x="45.6" y="41.0" width="1.0" height="1.0"/><rect x="48.8" y="42.7" width="1.0" height="1.0"/><rect x="44.4" y="36.9" width="1.0" height="1.0"/><rect x="52.4" y="37.5" width="1.0" height="1.0"/><rect x="50.2" y="42.6" width="1.0" height="1.0"/><rect x="46.2" y="40.0" width="1.0" height="1.0"/><rect x="51.6" y="40.1" width="1.0" height="1.0"/><rect x="49.2" y="42.8" width="1.0" height="1.0"/><rect x="60.1" y="34.2" width="1.0" height="1.0"/><rect x="56.7" y="30.7" width="1.0" height="1.0"/><rect x="56.4" y="35.9" width="1.0" height="1.0"/><rect x="50.8" y="38.2" width="1.0" height="1.0"/><rect x="46.4" y="37.3" width="1.0" height="1.0"/><rect x="50.0" y="43.2" width="1.0" height="1.0"/><rect x="55.2" y="36.4" width="1.0" height="1.0"/><rect x="47.4" y="38.5" width="1.0" height="1.0"/><rect x="47.0" y="46.0" width="1.0" height="1.0"/><rect x="53.6" y="38.4" width="1.0" height="1.0"/><rect x="47.3" y="37.6" width="1.0" height="1.0"/><rect x="57.1" y="38.9" width="1.0" height="1.0"/><rect x="47.3" y="43.5" width="1.0" height="1.0"/><rect x="46.2" y="42.9" width="1.0" height="1.0"/><rect x="45.8" y="40.0" width="1.0" height="1.0"/><rect x="53.1" y="39.5" width="1.0" height="1.0"/><rect x="54.2" y="35.4" width="1.0" height="1.0"/><rect x="58.9" y="39.8" width="1.0" height="1.0"/><rect x="50.9" y="40.5" width="1.0" height="1.0"/><rect x="46.9" y="40.3" width="1.0" height="1.0"/><rect x="44.7" y="41.9" width="1.0" height="1.0"/><rect x="52.7" y="42.3" width="1.0" height="1.0"/><rect x="55.5" y="39.6" width="1.0" height="1.0"/><rect x="48.7" y="39.4" width="1.0" height="1.0"/><rect x="49.2" y="40.5" width="1.0" height="1.0"/><rect x="42.7" y="44.7" width="1.0" height="1.0"/><rect x="43.0" y="40.8" width="1.0" height="1.0"/><rect x="50.1" y="38.0" width="1.0" height="1.0"/><rect x="57.8" y="36.1" width="1.0" height="1.0"/><rect x="58.7" y="39.4" width="1.0" height="1.0"/><rect x="48.7" y="41.2" width="1.0" height="1.0"/><rect x="55.9" y="36.1" width="1.0" height="1.0"/><rect x="50.3" y="37.8" width="1.0" height="1.0"/><rect x="50.4" y="38.3" width="1.0" height="1.0"/><rect x="51.9" y="41.6" width="1.0" height="1.0"/><rect x="56.8" y="37.1" width="1.0" height="1.0"/><rect x="52.3" y="41.1" width="1.0" height="1.0"/><rect x="48.1" y="37.2" width="1.0" height="1.0"/><rect x="54.5" y="35.0" width="1.0" height="1.0"/><rect x="53.7" y="35.2" width="1.0" height="1.0"/><rect x="57.6" y="33.4" width="1.0" height="1.0"/><rect x="55.8" y="41.5" width="1.0" height="1.0"/><rect x="47.7" y="44.7" width="1.0" height="1.0"/><rect x="45.1" y="36.4" width="1.0" height="1.0"/><rect x="54.4" y="39.8" width="1.0" height="1.0"/><rect x="47.1" y="33.4" width="1.0" height="1.0"/><rect x="49.9" y="38.6" width="1.0" height="1.0"/><rect x="48.5" y="39.3" width="1.0" height="1.0"/><rect x="42.0" y="41.1" width="1.0" height="1.0"/><rect x="60.1" y="39.9" width="1.0" height="1.0"/><rect x="48.2" y="38.2" width="1.0" height="1.0"/><rect x="53.3" y="41.2" width="1.0" height="1.0"/><rect x="52.5" y="35.1" width="1.0" height="1.0"/><rect x="51.4" y="39.4" width="1.0" height="1.0"/><rect x="58.1" y="39.7" width="1.0" height="1.0"/><rect x="54.1" y="41.4" width="1.0" height="1.0"/><rect x="50.3" y="43.8" width="1.0" height="1.0"/><rect x="49.0" y="41.1" width="1.0" height="1.0"/><rect x="53.7" y="35.4" width="1.0" height="1.0"/><rect x="45.6" y="36.2" width="1.0" height="1.0"/><rect x="51.2" y="38.9" width="1.0" height="1.0"/><rect x="49.5" y="41.1" width="1.0" height="1.0"/><rect x="41.1" y="43.0" width="1.0" height="1.0"/><rect x="50.6" y="38.5" width="1.0" height="1.0"/><rect x="55.8" y="42.2" width="1.0" height="1.0"/><rect x="47.6" y="37.8" width="1.0" height="1.0"/><rect x="47.9" y="40.6" width="1.0" height="1.0"/><rect x="52.2" y="36.1" width="1.0" height="1.0"/><rect x="53.9" y="34.9" width="1.0" height="1.0"/><rect x="54.6" y="38.9" width="1.0" height="1.0"/><rect x="54.7" y="43.8" width="1.0" height="1.0"/><rect x="49.2" y="39.4" width="1.0" height="1.0"/><rect x="53.5" y="40.6" width="1.0" height="1.0"/><rect x="44.8" y="42.4" width="1.0" height="1.0"/><rect x="47.8" y="42.2" width="1.0" height="1.0"/><rect x="56.6" y="37.0" width="1.0" height="1.0"/><rect x="50.2" y="39.9" width="1.0" height="1.0"/><rect x="38.1" y="46.5" width="1.0" height="1.0"/><rect x="53.2" y="38.7" width="1.0" height="1.0"/><rect x="48.0" y="38.2" width="1.0" height="1.0"/><rect x="50.9" y="42.6" width="1.0" height="1.0"/><rect x="51.4" y="42.8" width="1.0" height="1.0"/><rect x="38.6" y="42.8" width="1.0" height="1.0"/><rect x="51.7" y="38.8" width="1.0" height="1.0"/><rect x="42.4" y="40.6" width="1.0" height="1.0"/><rect x="54.8" y="33.8" width="1.0" height="1.0"/><rect x="45.0" y="38.3" width="1.0" height="1.0"/><rect x="48.7" y="41.9" width="1.0" height="1.0"/><rect x="51.1" y="33.2" width="1.0" height="1.0"/><rect x="56.4" y="35.2" width="1.0" height="1.0"/><rect x="49.6" y="44.5" width="1.0" height="1.0"/><rect x="48.9" y="36.4" width="1.0" height="1.0"/><rect x="46.9" y="38.6" width="1.0" height="1.0"/><rect x="45.7" y="40.3" width="1.0" height="1.0"/><rect x="54.8" y="38.6" width="1.0" height="1.0"/><rect x="47.2" y="48.7" width="1.0" height="1.0"/><rect x="46.2" y="41.4" width="1.0" height="1.0"/><rect x="51.4" y="41.1" width="1.0" height="1.0"/><rect x="49.5" y="41.0" width="1.0" height="1.0"/><rect x="60.0" y="35.8" width="1.0" height="1.0"/><rect x="46.0" y="42.1" width="1.0" height="1.0"/><rect x="46.6" y="39.8" width="1.0" height="1.0"/><rect x="51.7" y="39.8" width="1.0" height="1.0"/><rect x="50.1" y="41.9" width="1.0" height="1.0"/><rect x="48.3" y="36.4" width="1.0" height="1.0"/><rect x="54.0" y="36.8" width="1.0" height="1.0"/><rect x="55.2" y="35.5" width="1.0" height="1.0"/><rect x="53.4" y="39.1" width="1.0" height="1.0"/><rect x="37.0" y="40.4" width="1.0" height="1.0"/><rect x="46.9" y="44.8" width="1.0" height="1.0"/><rect x="43.0" y="45.0" width="1.0" height="1.0"/><rect x="55.9" y="38.6" width="1.0" height="1.0"/><rect x="53.0" y="36.9" width="1.0" height="1.0"/><rect x="50.7" y="39.9" width="1.0" height="1.0"/><rect x="53.1" y="40.3" width="1.0" height="1.0"/><rect x="48.9" y="37.9" width="1.0" height="1.0"/><rect x="48.4" y="41.3" width="1.0" height="1.0"/><rect x="41.8" y="39.2" width="1.0" height="1.0"/><rect x="48.1" y="38.7" width="1.0" height="1.0"/><rect x="46.6" y="33.2" width="1.0" height="1.0"/><rect x="48.7" y="39.3" width="1.0" height="1.0"/><rect x="52.0" y="33.0" width="1.0" height="1.0"/><rect x="49.6" y="41.0" width="1.0" height="1.0"/><rect x="53.9" y="41.4" width="1.0" height="1.0"/><rect x="54.1" y="34.8" width="1.0" height="1.0"/><rect x="53.0" y="37.3" width="1.0" height="1.0"/><rect x="48.5" y="44.6" width="1.0" height="1.0"/><rect x="46.8" y="38.3" width="1.0" height="1.0"/><rect x="47.8" y="37.9" width="1.0" height="1.0"/><rect x="55.4" y="38.4" width="1.0" height="1.0"/><rect x="57.2" y="37.8" width="1.0" height="1.0"/><rect x="48.8" y="43.0" width="1.0" height="1.0"/><rect x="47.1" y="39.3" width="1.0" height="1.0"/><rect x="49.8" y="39.7" width="1.0" height="1.0"/><rect x="55.2" y="35.6" width="1.0" height="1.0"/><rect x="52.0" y="38.6" width="1.0" height="1.0"/><rect x="43.8" y="38.8" width="1.0" height="1.0"/><rect x="49.9" y="40.7" width="1.0" height="1.0"/><rect x="52.4" y="39.9" width="1.0" height="1.0"/><rect x="50.3" y="38.1" width="1.0" height="1.0"/><rect x="51.4" y="36.0" width="1.0" height="1.0"/><rect x="44.2" y="40.9" width="1.0" height="1.0"/><rect x="43.6" y="40.6" width="1.0" height="1.0"/><rect x="46.6" y="39.3" width="1.0" height="1.0"/><rect x="49.5" y="37.4" width="1.0" height="1.0"/><rect x="46.9" y="35.8" width="1.0" height="1.0"/><rect x="50.3" y="36.8" width="1.0" height="1.0"/><rect x="49.4" y="31.5" width="1.0" height="1.0"/><rect x="47.2" y="41.4" width="1.0" height="1.0"/><rect x="39.2" y="42.8" width="1.0" height="1.0"/><rect x="51.0" y="39.4" width="1.0" height="1.0"/><rect x="44.0" y="42.6" width="1.0" height="1.0"/><rect x="50.2" y="36.6" width="1.0" height="1.0"/><rect x="53.8" y="37.8" width="1.0" height="1.0"/><rect x="50.1" y="38.1" width="1.0" height="1.0"/><rect x="53.0" y="38.6" width="1.0" height="1.0"/><rect x="56.0" y="38.4" width="1.0" height="1.0"/><rect x="47.5" y="39.9" width="1.0" height="1.0"/><rect x="54.2" y="36.7" width="1.0" height="1.0"/><rect x="52.7" y="39.9" width="1.0" height="1.0"/><rect x="47.3" y="33.8" width="1.0" height="1.0"/><rect x="51.3" y="39.6" width="1.0" height="1.0"/><rect x="50.3" y="37.1" width="1.0" height="1.0"/><rect x="55.8" y="36.8" width="1.0" height="1.0"/><rect x="47.0" y="38.6" width="1.0" height="1.0"/><rect x="51.0" y="35.9" width="1.0" height="1.0"/><rect x="48.0" y="46.1" width="1.0" height="1.0"/><rect x="57.4" y="39.6" width="1.0" height="1.0"/><rect x="57.2" y="38.3" width="1.0" height="1.0"/><rect x="44.2" y="45.4" width="1.0" height="1.0"/><rect x="56.6" y="38.3" width="1.0" height="1.0"/><rect x="43.0" y="46.0" width="1.0" height="1.0"/><rect x="56.1" y="35.6" width="1.0" height="1.0"/><rect x="51.9" y="41.0" width="1.0" height="1.0"/><rect x="51.2" y="42.2" width="1.0" height="1.0"/><rect x="51.6" y="40.9" width="1.0" height="1.0"/><rect x="49.4" y="35.4" width="1.0" height="1.0"/><rect x="49.2" y="49.1" width="1.0" height="1.0"/><rect x="53.1" y="42.1" width="1.0" height="1.0"/><rect x="57.4" y="41.5" width="1.0" height="1.0"/><rect x="52.4" y="36.8" width="1.0" height="1.0"/><rect x="48.6" y="34.4" width="1.0" height="1.0"/><rect x="50.6" y="41.9" width="1.0" height="1.0"/><rect x="41.0" y="43.7" width="1.0" height="1.0"/><rect x="55.6" y="41.1" width="1.0" height="1.0"/><rect x="45.7" y="39.3" width="1.0" height="1.0"/><rect x="41.0" y="40.1" width="1.0" height="1.0"/><rect x="55.0" y="43.5" width="1.0" height="1.0"/><rect x="46.7" y="44.9" width="1.0" height="1.0"/><rect x="51.9" y="37.3" width="1.0" height="1.0"/><rect x="57.8" y="29.0" width="1.0" height="1.0"/><rect x="50.4" y="40.0" width="1.0" height="1.0"/><rect x="61.9" y="40.0" width="1.0" height="1.0"/><rect x="60.8" y="35.5" width="1.0" height="1.0"/><rect x="56.3" y="41.0" width="1.0" height="1.0"/><rect x="53.2" y="39.3" width="1.0" height="1.0"/><rect x="49.3" y="38.6" width="1.0" height="1.0"/><rect x="46.9" y="46.5" width="1.0" height="1.0"/><rect x="46.4" y="34.9" width="1.0" height="1.0"/><rect x="51.7" y="38.7" width="1.0" height="1.0"/><rect x="53.1" y="43.6" width="1.0" height="1.0"/><rect x="49.8" y="38.8" width="1.0" height="1.0"/><rect x="47.1" y="40.6" width="1.0" height="1.0"/><rect x="48.7" y="40.6" width="1.0" height="1.0"/><rect x="65.0" y="34.6" width="1.0" height="1.0"/><rect x="48.6" y="45.7" width="1.0" height="1.0"/><rect x="55.2" y="39.8" width="1.0" height="1.0"/><rect x="54.6" y="40.1" width="1.0" height="1.0"/><rect x="55.0" y="41.6" width="1.0" height="1.0"/><rect x="56.4" y="40.9" width="1.0" height="1.0"/><rect x="48.2" y="40.2" width="1.0" height="1.0"/><rect x="48.2" y="43.0" width="1.0" height="1.0"/><rect x="53.8" y="36.6" width="1.0" height="1.0"/><rect x="55.8" y="44.9" width="1.0" height="1.0"/><rect x="54.9" y="34.2" width="1.0" height="1.0"/><rect x="50.7" y="41.1" width="1.0" height="1.0"/><rect x="50.7" y="40.3" width="1.0" height="1.0"/><rect x="56.2" y="38.0" width="1.0" height="1.0"/><rect x="46.3" y="43.1" width="1.0" height="1.0"/><rect x="50.2" y="39.8" width="1.0" height="1.0"/><rect x="46.5" y="36.8" width="1.0" height="1.0"/><rect x="44.5" y="40.7" width="1.0" height="1.0"/><rect x="42.9" y="34.4" width="1.0" height="1.0"/><rect x="54.5" y="34.3" width="1.0" height="1.0"/><rect x="47.8" y="42.0" width="1.0" height="1.0"/><rect x="41.0" y="47.1" width="1.0" height="1.0"/><rect x="47.7" y="42.4" width="1.0" height="1.0"/><rect x="48.6" y="41.0" width="1.0" height="1.0"/><rect x="51.0" y="39.1" width="1.0" height="1.0"/><rect x="40.7" y="38.9" width="1.0" height="1.0"/><rect x="51.8" y="42.9" width="1.0" height="1.0"/><rect x="48.6" y="41.6" width="1.0" height="1.0"/><rect x="51.7" y="40.2" width="1.0" height="1.0"/><rect x="53.4" y="33.7" width="1.0" height="1.0"/><rect x="51.6" y="38.3" width="1.0" height="1.0"/><rect x="48.2" y="37.7" width="1.0" height="1.0"/><rect x="45.9" y="38.1" width="1.0" height="1.0"/><rect x="48.1" y="47.7" width="1.0" height="1.0"/><rect x="58.2" y="36.2" width="1.0" height="1.0"/><rect x="52.9" y="35.5" width="1.0" height="1.0"/><rect x="36.1" y="39.8" width="1.0" height="1.0"/><rect x="52.6" y="42.7" width="1.0" height="1.0"/><rect x="49.3" y="36.8" width="1.0" height="1.0"/><rect x="48.4" y="37.2" width="1.0" height="1.0"/><rect x="44.0" y="41.3" width="1.0" height="1.0"/><rect x="47.9" y="38.0" width="1.0" height="1.0"/><rect x="45.5" y="38.6" width="1.0" height="1.0"/><rect x="53.0" y="42.4" width="1.0" height="1.0"/><rect x="51.8" y="45.3" width="1.0" height="1.0"/><rect x="43.5" y="42.9" width="1.0" height="1.0"/><rect x="45.1" y="41.0" width="1.0" height="1.0"/><rect x="51.5" y="40.5" width="1.0" height="1.0"/><rect x="55.0" y="35.8" width="1.0" height="1.0"/><rect x="44.7" y="41.1" width="1.0" height="1.0"/><rect x="51.1" y="37.0" width="1.0" height="1.0"/><rect x="56.3" y="41.9" width="1.0" height="1.0"/><rect x="44.4" y="42.8" width="1.0" height="1.0"/><rect x="53.1" y="32.6" width="1.0" height="1.0"/><rect x="51.2" y="38.4" width="1.0" height="1.0"/><rect x="45.4" y="45.2" width="1.0" height="1.0"/><rect x="51.0" y="37.7" width="1.0" height="1.0"/><rect x="53.2" y="40.1" width="1.0" height="1.0"/><rect x="54.6" y="39.4" width="1.0" height="1.0"/><rect x="51.1" y="35.6" width="1.0" height="1.0"/><rect x="48.7" y="40.4" width="1.0" height="1.0"/><rect x="40.2" y="49.7" width="1.0" height="1.0"/><rect x="47.7" y="37.3" width="1.0" height="1.0"/><rect x="42.5" y="43.3" width="1.0" height="1.0"/><rect x="50.0" y="37.8" width="1.0" height="1.0"/><rect x="47.7" y="37.8" width="1.0" height="1.0"/><rect x="47.0" y="40.4" width="1.0" height="1.0"/><rect x="48.3" y="42.2" width="1.0" height="1.0"/><rect x="50.0" y="39.9" width="1.0" height="1.0"/><rect x="53.6" y="41.8" width="1.0" height="1.0"/><rect x="53.5" y="38.8" width="1.0" height="1.0"/><rect x="48.9" y="37.6" width="1.0" height="1.0"/><rect x="49.7" y="41.7" width="1.0" height="1.0"/><rect x="51.1" y="37.9" width="1.0" height="1.0"/><rect x="42.9" y="37.9" width="1.0" height="1.0"/><rect x="53.0" y="41.3" width="1.0" height="1.0"/><rect x="50.8" y="35.1" width="1.0" height="1.0"/><rect x="49.8" y="40.2" width="1.0" height="1.0"/><rect x="46.7" y="41.9" width="1.0" height="1.0"/><rect x="48.7" y="37.6" width="1.0" height="1.0"/><rect x="45.7" y="43.6" width="1.0" height="1.0"/><rect x="51.2" y="36.4" width="1.0" height="1.0"/><rect x="46.8" y="43.4" width="1.0" height="1.0"/><rect x="52.9" y="37.4" width="1.0" height="1.0"/><rect x="57.4" y="35.7" width="1.0" height="1.0"/><rect x="46.8" y="44.0" width="1.0" height="1.0"/><rect x="50.0" y="40.5" width="1.0" height="1.0"/><rect x="49.6" y="36.7" width="1.0" height="1.0"/><rect x="44.9" y="41.0" width="1.0" height="1.0"/><rect x="55.8" y="34.2" width="1.0" height="1.0"/><rect x="56.9" y="37.4" width="1.0" height="1.0"/><rect x="45.8" y="42.0" width="1.0" height="1.0"/><rect x="52.1" y="36.0" width="1.0" height="1.0"/><rect x="41.3" y="44.1" width="1.0" height="1.0"/><rect x="45.9" y="42.4" width="1.0" height="1.0"/><rect x="41.7" y="42.4" width="1.0" height="1.0"/><rect x="45.3" y="37.0" width="1.0" height="1.0"/><rect x="49.6" y="40.2" width="1.0" height="1.0"/><rect x="46.8" y="37.3" width="1.0" height="1.0"/><rect x="49.7" y="34.5" width="1.0" height="1.0"/><rect x="53.4" y="39.6" width="1.0" height="1.0"/><rect x="59.0" y="38.5" width="1.0" height="1.0"/><rect x="52.4" y="39.3" width="1.0" height="1.0"/><rect x="49.3" y="35.9" width="1.0" height="1.0"/><rect x="57.6" y="38.0" width="1.0" height="1.0"/><rect x="48.0" y="36.9" width="1.0" height="1.0"/><rect x="57.7" y="37.9" width="1.0" height="1.0"/><rect x="45.8" y="43.2" width="1.0" height="1.0"/><rect x="59.0" y="35.8" width="1.0" height="1.0"/><rect x="51.9" y="37.5" width="1.0" height="1.0"/><rect x="48.8" y="43.2" width="1.0" height="1.0"/><rect x="64.5" y="34.0" width="1.0" height="1.0"/><rect x="50.8" y="41.5" width="1.0" height="1.0"/><rect x="49.9" y="41.7" width="1.0" height="1.0"/><rect x="53.2" y="35.2" width="1.0" height="1.0"/><rect x="45.6" y="41.1" width="1.0" height="1.0"/><rect x="54.5" y="38.5" width="1.0" height="1.0"/><rect x="54.7" y="33.6" width="1.0" height="1.0"/><rect x="52.1" y="36.8" width="1.0" height="1.0"/><rect x="51.3" y="39.9" width="1.0" height="1.0"/><rect x="45.9" y="40.5" width="1.0" height="1.0"/><rect x="45.5" y="42.1" width="1.0" height="1.0"/><rect x="46.2" y="39.6" width="1.0" height="1.0"/><rect x="50.8" y="37.3" width="1.0" height="1.0"/><rect x="55.0" y="35.6" width="1.0" height="1.0"/><rect x="54.6" y="38.5" width="1.0" height="1.0"/><rect x="45.6" y="40.6" width="1.0" height="1.0"/><rect x="46.4" y="39.9" width="1.0" height="1.0"/><rect x="51.1" y="44.4" width="1.0" height="1.0"/><rect x="50.2" y="44.0" width="1.0" height="1.0"/><rect x="51.2" y="35.2" width="1.0" height="1.0"/><rect x="40.8" y="45.2" width="1.0" height="1.0"/><rect x="42.3" y="44.7" width="1.0" height="1.0"/><rect x="55.5" y="38.4" width="1.0" height="1.0"/><rect x="49.3" y="39.0" width="1.0" height="1.0"/><rect x="51.4" y="38.1" width="1.0" height="1.0"/><rect x="47.7" y="39.3" width="1.0" height="1.0"/><rect x="55.1" y="35.6" width="1.0" height="1.0"/><rect x="51.0" y="35.7" width="1.0" height="1.0"/><rect x="45.9" y="37.1" width="1.0" height="1.0"/><rect x="50.3" y="41.4" width="1.0" height="1.0"/><rect x="51.4" y="37.5" width="1.0" height="1.0"/><rect x="52.9" y="37.3" width="1.0" height="1.0"/><rect x="52.4" y="39.3" width="1.0" height="1.0"/><rect x="50.4" y="32.1" width="1.0" height="1.0"/><rect x="45.4" y="43.6" width="1.0" height="1.0"/><rect x="52.3" y="45.1" width="1.0" height="1.0"/><rect x="48.9" y="38.3" width="1.0" height="1.0"/><rect x="57.8" y="38.0" width="1.0" height="1.0"/><rect x="59.5" y="37.1" width="1.0" height="1.0"/><rect x="50.3" y="41.5" width="1.0" height="1.0"/><rect x="46.5" y="39.6" width="1.0" height="1.0"/><rect x="47.8" y="39.7" width="1.0" height="1.0"/><rect x="53.5" y="36.7" width="1.0" height="1.0"/><rect x="51.4" y="37.5" width="1.0" height="1.0"/><rect x="51.7" y="30.8" width="1.0" height="1.0"/><rect x="49.7" y="40.1" width="1.0" height="1.0"/><rect x="46.7" y="43.8" width="1.0" height="1.0"/><rect x="52.8" y="42.1" width="1.0" height="1.0"/><rect x="55.5" y="39.2" width="1.0" height="1.0"/><rect x="48.7" y="36.8" width="1.0" height="1.0"/><rect x="49.0" y="38.5" width="1.0" height="1.0"/><rect x="51.1" y="37.7" width="1.0" height="1.0"/><rect x="62.6" y="29.8" width="1.0" height="1.0"/><rect x="55.3" y="36.0" width="1.0" height="1.0"/><rect x="50.4" y="42.1" width="1.0" height="1.0"/><rect x="49.3" y="36.3" width="1.0" height="1.0"/><rect x="52.2" y="38.1" width="1.0" height="1.0"/><rect x="41.5" y="43.5" width="1.0" height="1.0"/><rect x="45.0" y="39.3" width="1.0" height="1.0"/><rect x="53.0" y="39.2" width="1.0" height="1.0"/><rect x="51.4" y="45.3" width="1.0" height="1.0"/><rect x="51.8" y="37.0" width="1.0" height="1.0"/><rect x="51.4" y="38.6" width="1.0" height="1.0"/><rect x="39.0" y="39.3" width="1.0" height="1.0"/><rect x="46.4" y="47.0" width="1.0" height="1.0"/><rect x="49.4" y="38.9" width="1.0" height="1.0"/><rect x="49.0" y="42.8" width="1.0" height="1.0"/><rect x="52.4" y="43.5" width="1.0" height="1.0"/><rect x="55.7" y="42.0" width="1.0" height="1.0"/><rect x="50.4" y="40.5" width="1.0" height="1.0"/><rect x="48.4" y="39.7" width="1.0" height="1.0"/><rect x="42.2" y="41.0" width="1.0" height="1.0"/><rect x="45.6" y="39.4" width="1.0" height="1.0"/><rect x="56.2" y="37.8" width="1.0" height="1.0"/><rect x="56.8" y="39.2" width="1.0" height="1.0"/><rect x="55.6" y="40.2" width="1.0" height="1.0"/><rect x="48.6" y="42.4" width="1.0" height="1.0"/><rect x="48.5" y="38.6" width="1.0" height="1.0"/><rect x="58.0" y="42.6" width="1.0" height="1.0"/><rect x="47.9" y="45.4" width="1.0" height="1.0"/><rect x="53.4" y="35.7" width="1.0" height="1.0"/><rect x="52.1" y="39.7" width="1.0" height="1.0"/><rect x="51.8" y="37.7" width="1.0" height="1.0"/><rect x="44.8" y="41.7" width="1.0" height="1.0"/><rect x="55.1" y="39.7" width="1.0" height="1.0"/><rect x="54.6" y="40.9" width="1.0" height="1.0"/><rect x="46.0" y="41.0" width="1.0" height="1.0"/><rect x="53.0" y="41.2" width="1.0" height="1.0"/><rect x="51.7" y="40.3" width="1.0" height="1.0"/><rect x="53.2" y="44.3" width="1.0" height="1.0"/><rect x="40.7" y="43.2" width="1.0" height="1.0"/><rect x="61.8" y="35.4" width="1.0" height="1.0"/><rect x="42.5" y="42.9" width="1.0" height="1.0"/><rect x="43.4" y="40.2" width="1.0" height="1.0"/><rect x="53.2" y="43.2" width="1.0" height="1.0"/><rect x="53.2" y="40.1" width="1.0" height="1.0"/><rect x="55.2" y="38.0" width="1.0" height="1.0"/><rect x="46.6" y="40.6" width="1.0" height="1.0"/><rect x="51.7" y="38.0" width="1.0" height="1.0"/><rect x="47.2" y="39.6" width="1.0" height="1.0"/><rect x="42.8" y="39.4" width="1.0" height="1.0"/><rect x="49.7" y="38.6" width="1.0" height="1.0"/><rect x="52.1" y="42.7" width="1.0" height="1.0"/><rect x="51.8" y="38.7" width="1.0" height="1.0"/><rect x="44.2" y="38.7" width="1.0" height="1.0"/><rect x="51.3" y="36.4" width="1.0" height="1.0"/><rect x="51.3" y="35.8" width="1.0" height="1.0"/><rect x="51.0" y="38.9" width="1.0" height="1.0"/><rect x="54.5" y="36.5" width="1.0" height="1.0"/><rect x="49.1" y="40.6" width="1.0" height="1.0"/><rect x="52.5" y="43.4" width="1.0" height="1.0"/><rect x="48.8" y="38.4" width="1.0" height="1.0"/><rect x="49.6" y="41.1" width="1.0" height="1.0"/><rect x="52.2" y="40.6" width="1.0" height="1.0"/><rect x="46.8" y="48.0" width="1.0" height="1.0"/><rect x="58.7" y="35.9" width="1.0" height="1.0"/><rect x="45.3" y="41.9" width="1.0" height="1.0"/><rect x="50.1" y="33.0" width="1.0" height="1.0"/><rect x="49.1" y="35.6" width="1.0" height="1.0"/><rect x="53.9" y="41.9" width="1.0" height="1.0"/><rect x="53.6" y="33.7" width="1.0" height="1.0"/><rect x="57.6" y="39.1" width="1.0" height="1.0"/><rect x="49.4" y="41.2" width="1.0" height="1.0"/><rect x="56.9" y="35.7" width="1.0" height="1.0"/><rect x="49.9" y="37.9" width="1.0" height="1.0"/><rect x="53.5" y="31.8" width="1.0" height="1.0"/><rect x="55.9" y="34.3" width="1.0" height="1.0"/><rect x="53.0" y="33.6" width="1.0" height="1.0"/><rect x="45.7" y="39.5" width="1.0" height="1.0"/><rect x="52.6" y="33.8" width="1.0" height="1.0"/><rect x="52.5" y="36.6" width="1.0" height="1.0"/><rect x="55.7" y="36.3" width="1.0" height="1.0"/><rect x="52.5" y="38.0" width="1.0" height="1.0"/><rect x="58.1" y="35.2" width="1.0" height="1.0"/><rect x="52.4" y="44.3" width="1.0" height="1.0"/><rect x="51.5" y="40.9" width="1.0" height="1.0"/><rect x="47.4" y="41.1" width="1.0" height="1.0"/><rect x="40.5" y="43.7" width="1.0" height="1.0"/><rect x="46.1" y="36.7" width="1.0" height="1.0"/><rect x="45.3" y="44.7" width="1.0" height="1.0"/><rect x="50.9" y="34.7" width="1.0" height="1.0"/><rect x="57.9" y="34.3" width="1.0" height="1.0"/><rect x="49.1" y="40.6" width="1.0" height="1.0"/><rect x="43.8" y="37.3" width="1.0" height="1.0"/><rect x="48.4" y="43.6" width="1.0" height="1.0"/><rect x="53.2" y="33.6" width="1.0" height="1.0"/><rect x="55.9" y="37.2" width="1.0" height="1.0"/><rect x="52.8" y="38.5" width="1.0" height="1.0"/><rect x="51.3" y="36.1" width="1.0" height="1.0"/><rect x="45.7" y="39.2" width="1.0" height="1.0"/><rect x="49.5" y="41.5" width="1.0" height="1.0"/><rect x="46.7" y="45.5" width="1.0" height="1.0"/><rect x="47.1" y="39.0" width="1.0" height="1.0"/><rect x="54.1" y="39.1" width="1.0" height="1.0"/><rect x="47.9" y="37.2" width="1.0" height="1.0"/><rect x="44.4" y="37.1" width="1.0" height="1.0"/><rect x="56.7" y="39.9" width="1.0" height="1.0"/><rect x="59.3" y="37.2" width="1.0" height="1.0"/><rect x="52.7" y="40.6" width="1.0" height="1.0"/><rect x="54.5" y="36.9" width="1.0" height="1.0"/><rect x="54.2" y="44.0" width="1.0" height="1.0"/><rect x="41.5" y="38.8" width="1.0" height="1.0"/><rect x="47.0" y="42.9" width="1.0" height="1.0"/><rect x="55.5" y="36.3" width="1.0" height="1.0"/><rect x="53.4" y="38.0" width="1.0" height="1.0"/><rect x="51.3" y="37.4" width="1.0" height="1.0"/><rect x="50.4" y="39.3" width="1.0" height="1.0"/><rect x="57.8" y="42.8" width="1.0" height="1.0"/><rect x="42.9" y="43.9" width="1.0" height="1.0"/><rect x="51.5" y="41.7" width="1.0" height="1.0"/><rect x="56.0" y="39.3" width="1.0" height="1.0"/><rect x="53.2" y="35.5" width="1.0" height="1.0"/><rect x="44.6" y="46.5" width="1.0" height="1.0"/><rect x="54.9" y="34.7" width="1.0" height="1.0"/><rect x="56.9" y="38.6" width="1.0" height="1.0"/><rect x="40.5" y="46.0" width="1.0" height="1.0"/></g><g fill="#000" fill-opacity="0.6"><rect x="55.2" y="44.4" width="1.0" height="1.0"/><rect x="55.9" y="38.0" width="1.0" height="1.0"/><rect x="53.9" y="39.8" width="1.0" height="1.0"/><rect x="59.9" y="38.2" width="1.0" height="1.0"/><rect x="53.2" y="47.7" width="1.0" height="1.0"/><rect x="61.8" y="42.8" width="1.0" height="1.0"/><rect x="56.3" y="36.4" width="1.0" height="1.0"/><rect x="53.7" y="42.4" width="1.0" height="1.0"/><rect x="60.5" y="36.9" width="1.0" height="1.0"/><rect x="57.5" y="39.6" width="1.0" height="1.0"/><rect x="56.9" y="42.2" width="1.0" height="1.0"/><rect x="62.3" y="38.4" width="1.0" height="1.0"/><rect x="59.5" y="44.2" width="1.0" height="1.0"/><rect x="56.8" y="40.0" width="1.0" height="1.0"/><rect x="54.4" y="44.1" width="1.0" height="1.0"/><rect x="56.3" y="38.3" width="1.0" height="1.0"/><rect x="57.7" y="37.6" width="1.0" height="1.0"/><rect x="55.1" y="39.5" width="1.0" height="1.0"/><rect x="60.9" y="39.8" width="1.0" height="1.0"/><rect x="58.7" y="35.6" width="1.0" height="1.0"/><rect x="53.0" y="46.6" width="1.0" height="1.0"/><rect x="56.6" y="35.3" width="1.0" height="1.0"/><rect x="57.3" y="42.5" width="1.0" height="1.0"/><rect x="53.5" y="37.5" width="1.0" height="1.0"/><rect x="58.1" y="37.4" width="1.0" height="1.0"/><rect x="59.3" y="43.7" width="1.0" height="1.0"/><rect x="58.5" y="39.1" width="1.0" height="1.0"/><rect x="57.4" y="38.4" width="1.0" height="1.0"/><rect x="57.2" y="41.6" width="1.0" height="1.0"/><rect x="56.8" y="43.8" width="1.0" height="1.0"/><rect x="63.5" y="38.7" width="1.0" height="1.0"/><rect x="58.3" y="43.3" width="1.0" height="1.0"/><rect x="59.0" y="39.7" width="1.0" height="1.0"/><rect x="56.4" y="43.9" width="1.0" height="1.0"/><rect x="58.9" y="42.2" width="1.0" height="1.0"/><rect x="55.6" y="42.6" width="1.0" height="1.0"/><rect x="59.3" y="39.9" width="1.0" height="1.0"/><rect x="59.0" y="47.8" width="1.0" height="1.0"/><rect x="53.1" y="42.6" width="1.0" height="1.0"/><rect x="54.8" y="35.9" width="1.0" height="1.0"/><rect x="57.0" y="42.3" width="1.0" height="1.0"/><rect x="57.6" y="36.6" width="1.0" height="1.0"/><rect x="54.2" y="38.6" width="1.0" height="1.0"/><rect x="57.5" y="37.7" width="1.0" height="1.0"/><rect x="54.0" y="46.4" width="1.0" height="1.0"/><rect x="55.6" y="40.0" width="1.0" height="1.0"/><rect x="56.2" y="38.5" width="1.0" height="1.0"/><rect x="57.6" y="39.5" width="1.0" height="1.0"/><rect x="58.9" y="36.5" width="1.0" height="1.0"/><rect x="54.0" y="47.1" width="1.0" height="1.0"/><rect x="57.3" y="43.1" width="1.0" height="1.0"/><rect x="60.2" y="42.4" width="1.0" height="1.0"/><rect x="57.6" y="35.2" width="1.0" height="1.0"/><rect x="53.8" y="43.8" width="1.0" height="1.0"/><rect x="59.1" y="42.4" width="1.0" height="1.0"/><rect x="53.6" y="33.3" width="1.0" height="1.0"/><rect x="55.0" y="36.5" width="1.0" height="1.0"/><rect x="57.9" y="37.0" width="1.0" height="1.0"/><rect x="61.2" y="38.4" width="1.0" height="1.0"/><rect x="56.2" y="43.4" width="1.0" height="1.0"/><rect x="58.3" y="37.4" width="1.0" height="1.0"/><rect x="59.4" y="47.0" width="1.0" height="1.0"/><rect x="54.6" y="39.7" width="1.0" height="1.0"/><rect x="55.0" y="33.9" width="1.0" height="1.0"/><rect x="59.0" y="42.9" width="1.0" height="1.0"/><rect x="59.8" y="42.0" width="1.0" height="1.0"/><rect x="52.8" y="40.4" width="1.0" height="1.0"/><rect x="55.9" y="36.5" width="1.0" height="1.0"/><rect x="54.9" y="43.1" width="1.0" height="1.0"/><rect x="56.8" y="47.2" width="1.0" height="1.0"/><rect x="58.6" y="34.0" width="1.0" height="1.0"/><rect x="59.6" y="44.7" width="1.0" height="1.0"/><rect x="57.6" y="36.4" width="1.0" height="1.0"/><rect x="61.6" y="36.0" width="1.0" height="1.0"/><rect x="57.3" y="34.0" width="1.0" height="1.0"/><rect x="54.6" y="34.7" width="1.0" height="1.0"/><rect x="60.0" y="44.5" width="1.0" height="1.0"/><rect x="56.6" y="35.9" width="1.0" height="1.0"/><rect x="57.4" y="41.8" width="1.0" height="1.0"/><rect x="53.9" y="36.6" width="1.0" height="1.0"/><rect x="57.3" y="42.9" width="1.0" height="1.0"/><rect x="57.7" y="42.0" width="1.0" height="1.0"/><rect x="54.6" y="32.0" width="1.0" height="1.0"/><rect x="58.2" y="37.4" width="1.0" height="1.0"/><rect x="57.2" y="39.2" width="1.0" height="1.0"/><rect x="58.6" y="37.9" width="1.0" height="1.0"/><rect x="60.9" y="40.6" width="1.0" height="1.0"/><rect x="58.7" y="42.6" width="1.0" height="1.0"/><rect x="59.9" y="41.9" width="1.0" height="1.0"/><rect x="53.4" y="38.4" width="1.0" height="1.0"/><rect x="61.9" y="42.1" width="1.0" height="1.0"/><rect x="58.8" y="42.1" width="1.0" height="1.0"/><rect x="56.0" y="38.2" width="1.0" height="1.0"/><rect x="56.0" y="44.5" width="1.0" height="1.0"/><rect x="58.4" y="46.6" width="1.0" height="1.0"/><rect x="58.7" y="47.0" width="1.0" height="1.0"/><rect x="58.6" y="36.4" width="1.0" height="1.0"/><rect x="61.6" y="41.7" width="1.0" height="1.0"/><rect x="60.3" y="41.2" width="1.0" height="1.0"/><rect x="56.7" y="41.1" width="1.0" height="1.0"/><rect x="54.9" y="36.4" width="1.0" height="1.0"/><rect x="55.4" y="38.7" width="1.0" height="1.0"/><rect x="54.3" y="40.1" width="1.0" height="1.0"/><rect x="58.2" y="47.5" width="1.0" height="1.0"/><rect x="61.8" y="40.3" width="1.0" height="1.0"/><rect x="59.6" y="39.7" width="1.0" height="1.0"/><rect x="58.4" y="40.4" width="1.0" height="1.0"/><rect x="56.2" y="40.8" width="1.0" height="1.0"/><rect x="54.0" y="42.0" width="1.0" height="1.0"/><rect x="56.8" y="36.8" width="1.0" height="1.0"/><rect x="56.7" y="42.4" width="1.0" height="1.0"/><rect x="55.9" y="42.1" width="1.0" height="1.0"/><rect x="58.8" y="45.9" width="1.0" height="1.0"/><rect x="54.9" y="40.1" width="1.0" height="1.0"/><rect x="58.7" y="45.7" width="1.0" height="1.0"/><rect x="58.1" y="43.1" width="1.0" height="1.0"/><rect x="54.0" y="38.5" width="1.0" height="1.0"/><rect x="61.4" y="39.5" width="1.0" height="1.0"/><rect x="62.6" y="38.0" width="1.0" height="1.0"/><rect x="56.8" y="35.0" width="1.0" height="1.0"/><rect x="59.0" y="41.4" width="1.0" height="1.0"/><rect x="62.3" y="41.1" width="1.0" height="1.0"/><rect x="56.9" y="35.6" width="1.0" height="1.0"/><rect x="57.3" y="43.8" width="1.0" height="1.0"/><rect x="59.3" y="44.7" width="1.0" height="1.0"/><rect x="59.5" y="40.3" width="1.0" height="1.0"/><rect x="58.9" y="41.1" width="1.0" height="1.0"/><rect x="54.3" y="46.4" width="1.0" height="1.0"/><rect x="58.4" y="36.9" width="1.0" height="1.0"/><rect x="58.4" y="41.5" width="1.0" height="1.0"/><rect x="59.9" y="45.5" width="1.0" height="1.0"/><rect x="50.3" y="42.4" width="1.0" height="1.0"/><rect x="61.1" y="37.2" width="1.0" height="1.0"/><rect x="53.1" y="41.5" width="1.0" height="1.0"/><rect x="58.3" y="41.7" width="1.0" height="1.0"/><rect x="54.9" y="38.9" width="1.0" height="1.0"/><rect x="58.0" y="43.1" width="1.0" height="1.0"/><rect x="62.7" y="41.5" width="1.0" height="1.0"/><rect x="56.1" y="32.3" width="1.0" height="1.0"/><rect x="60.1" y="40.0" width="1.0" height="1.0"/><rect x="57.2" y="37.1" width="1.0" height="1.0"/><rect x="59.2" y="34.3" width="1.0" height="1.0"/><rect x="57.8" y="40.9" width="1.0" height="1.0"/><rect x="58.2" y="45.0" width="1.0" height="1.0"/><rect x="57.3" y="40.8" width="1.0" height="1.0"/><rect x="59.5" y="35.1" width="1.0" height="1.0"/><rect x="56.8" y="40.7" width="1.0" height="1.0"/><rect x="59.8" y="37.7" width="1.0" height="1.0"/><rect x="59.4" y="41.8" width="1.0" height="1.0"/><rect x="54.0" y="35.4" width="1.0" height="1.0"/><rect x="54.1" y="41.0" width="1.0" height="1.0"/><rect x="58.0" y="43.0" width="1.0" height="1.0"/><rect x="59.5" y="38.6" width="1.0" height="1.0"/><rect x="60.0" y="43.3" width="1.0" height="1.0"/><rect x="58.6" y="42.2" width="1.0" height="1.0"/><rect x="54.4" y="41.8" width="1.0" height="1.0"/><rect x="55.0" y="36.4" width="1.0" height="1.0"/><rect x="56.7" y="41.0" width="1.0" height="1.0"/><rect x="57.4" y="39.4" width="1.0" height="1.0"/><rect x="55.1" y="41.1" width="1.0" height="1.0"/><rect x="55.7" y="35.6" width="1.0" height="1.0"/><rect x="57.7" y="45.6" width="1.0" height="1.0"/><rect x="56.5" y="36.8" width="1.0" height="1.0"/><rect x="60.8" y="46.5" width="1.0" height="1.0"/><rect x="56.8" y="39.8" width="1.0" height="1.0"/><rect x="58.0" y="50.8" width="1.0" height="1.0"/><rect x="57.8" y="44.0" width="1.0" height="1.0"/><rect x="58.6" y="34.2" width="1.0" height="1.0"/><rect x="54.9" y="36.2" width="1.0" height="1.0"/><rect x="58.5" y="40.9" width="1.0" height="1.0"/><rect x="61.8" y="39.6" width="1.0" height="1.0"/><rect x="58.2" y="40.8" width="1.0" height="1.0"/><rect x="57.8" y="48.6" width="1.0" height="1.0"/><rect x="58.2" y="45.6" width="1.0" height="1.0"/><rect x="60.6" y="38.4" width="1.0" height="1.0"/><rect x="59.1" y="39.2" width="1.0" height="1.0"/><rect x="57.8" y="41.1" width="1.0" height="1.0"/><rect x="57.6" y="38.9" width="1.0" height="1.0"/><rect x="61.2" y="39.6" width="1.0" height="1.0"/><rect x="59.2" y="46.4" width="1.0" height="1.0"/><rect x="59.0" y="44.1" width="1.0" height="1.0"/><rect x="60.8" y="44.3" width="1.0" height="1.0"/><rect x="61.6" y="35.5" width="1.0" height="1.0"/><rect x="62.2" y="40.6" width="1.0" height="1.0"/><rect x="53.3" y="38.3" width="1.0" height="1.0"/><rect x="54.2" y="40.4" width="1.0" height="1.0"/><rect x="53.9" y="37.0" width="1.0" height="1.0"/><rect x="58.2" y="41.0" width="1.0" height="1.0"/><rect x="55.6" y="39.7" width="1.0" height="1.0"/><rect x="57.3" y="40.8" width="1.0" height="1.0"/><rect x="57.5" y="39.7" width="1.0" height="1.0"/><rect x="59.6" y="34.9" width="1.0" height="1.0"/><rect x="56.3" y="41.0" width="1.0" height="1.0"/><rect x="56.5" y="38.6" width="1.0" height="1.0"/><rect x="56.5" y="41.2" width="1.0" height="1.0"/><rect x="60.5" y="39.9" width="1.0" height="1.0"/><rect x="56.9" y="41.7" width="1.0" height="1.0"/><rect x="56.9" y="33.7" width="1.0" height="1.0"/><rect x="58.1" y="39.2" width="1.0" height="1.0"/><rect x="56.1" y="42.7" width="1.0" height="1.0"/><rect x="57.6" y="38.5" width="1.0" height="1.0"/><rect x="52.3" y="34.5" width="1.0" height="1.0"/><rect x="57.5" y="40.1" width="1.0" height="1.0"/><rect x="58.6" y="41.3" width="1.0" height="1.0"/><rect x="56.4" y="36.1" width="1.0" height="1.0"/><rect x="54.9" y="40.0" width="1.0" height="1.0"/><rect x="54.7" y="43.1" width="1.0" height="1.0"/><rect x="54.3" y="34.2" width="1.0" height="1.0"/><rect x="57.0" y="34.3" width="1.0" height="1.0"/><rect x="61.4" y="37.0" width="1.0" height="1.0"/><rect x="57.4" y="39.6" width="1.0" height="1.0"/><rect x="55.5" y="34.3" width="1.0" height="1.0"/><rect x="53.0" y="43.5" width="1.0" height="1.0"/><rect x="60.0" y="48.1" width="1.0" height="1.0"/><rect x="54.0" y="42.5" width="1.0" height="1.0"/><rect x="57.5" y="43.5" width="1.0" height="1.0"/><rect x="56.3" y="43.0" width="1.0" height="1.0"/><rect x="59.6" y="42.6" width="1.0" height="1.0"/><rect x="61.0" y="39.9" width="1.0" height="1.0"/><rect x="61.2" y="38.0" width="1.0" height="1.0"/><rect x="61.5" y="30.9" width="1.0" height="1.0"/><rect x="57.5" y="37.7" width="1.0" height="1.0"/><rect x="57.5" y="44.1" width="1.0" height="1.0"/><rect x="59.2" y="40.8" width="1.0" height="1.0"/><rect x="61.6" y="35.3" width="1.0" height="1.0"/><rect x="55.5" y="45.8" width="1.0" height="1.0"/><rect x="58.3" y="33.2" width="1.0" height="1.0"/><rect x="58.3" y="36.4" width="1.0" height="1.0"/><rect x="61.0" y="44.5" width="1.0" height="1.0"/><rect x="56.2" y="45.0" width="1.0" height="1.0"/><rect x="55.5" y="43.7" width="1.0" height="1.0"/><rect x="58.9" y="40.1" width="1.0" height="1.0"/><rect x="54.1" y="39.5" width="1.0" height="1.0"/><rect x="52.0" y="38.5" width="1.0" height="1.0"/><rect x="53.1" y="44.8" width="1.0" height="1.0"/><rect x="55.2" y="32.0" width="1.0" height="1.0"/><rect x="58.9" y="41.8" width="1.0" height="1.0"/><rect x="56.3" y="47.9" width="1.0" height="1.0"/><rect x="59.4" y="40.7" width="1.0" height="1.0"/><rect x="56.0" y="30.2" width="1.0" height="1.0"/><rect x="58.7" y="43.9" width="1.0" height="1.0"/><rect x="56.1" y="35.6" width="1.0" height="1.0"/><rect x="57.4" y="34.6" width="1.0" height="1.0"/><rect x="57.5" y="43.2" width="1.0" height="1.0"/><rect x="61.1" y="41.4" width="1.0" height="1.0"/><rect x="58.0" y="43.1" width="1.0" height="1.0"/><rect x="60.9" y="39.4" width="1.0" height="1.0"/><rect x="54.6" y="37.7" width="1.0" height="1.0"/><rect x="54.5" y="37.4" width="1.0" height="1.0"/><rect x="57.2" y="41.7" width="1.0" height="1.0"/><rect x="57.9" y="40.7" width="1.0" height="1.0"/><rect x="56.6" y="42.0" width="1.0" height="1.0"/><rect x="59.6" y="43.2" width="1.0" height="1.0"/><rect x="61.1" y="39.5" width="1.0" height="1.0"/><rect x="56.9" y="46.4" width="1.0" height="1.0"/><rect x="58.0" y="41.9" width="1.0" height="1.0"/><rect x="56.7" y="43.9" width="1.0" height="1.0"/><rect x="56.5" y="37.0" width="1.0" height="1.0"/><rect x="57.4" y="39.0" width="1.0" height="1.0"/><rect x="59.5" y="39.2" width="1.0" height="1.0"/><rect x="57.8" y="39.7" width="1.0" height="1.0"/><rect x="58.3" y="38.3" width="1.0" height="1.0"/><rect x="60.2" y="35.5" width="1.0" height="1.0"/><rect x="56.6" y="38.0" width="1.0" height="1.0"/><rect x="59.1" y="40.6" width="1.0" height="1.0"/><rect x="58.7" y="39.3" width="1.0" height="1.0"/><rect x="55.8" y="36.6" width="1.0" height="1.0"/><rect x="56.7" y="38.6" width="1.0" height="1.0"/><rect x="58.2" y="41.7" width="1.0" height="1.0"/><rect x="59.8" y="40.1" width="1.0" height="1.0"/><rect x="55.7" y="36.8" width="1.0" height="1.0"/><rect x="57.6" y="41.8" width="1.0" height="1.0"/><rect x="62.2" y="41.1" width="1.0" height="1.0"/><rect x="61.7" y="47.1" width="1.0" height="1.0"/><rect x="55.0" y="44.7" width="1.0" height="1.0"/><rect x="60.2" y="45.2" width="1.0" height="1.0"/><rect x="57.5" y="43.8" width="1.0" height="1.0"/><rect x="56.3" y="40.3" width="1.0" height="1.0"/><rect x="57.5" y="46.7" width="1.0" height="1.0"/><rect x="57.0" y="43.8" width="1.0" height="1.0"/><rect x="57.7" y="38.0" width="1.0" height="1.0"/><rect x="58.1" y="42.8" width="1.0" height="1.0"/><rect x="55.8" y="42.7" width="1.0" height="1.0"/><rect x="55.8" y="37.4" width="1.0" height="1.0"/><rect x="58.0" y="39.7" width="1.0" height="1.0"/><rect x="55.1" y="34.8" width="1.0" height="1.0"/><rect x="57.6" y="41.4" width="1.0" height="1.0"/><rect x="56.4" y="41.2" width="1.0" height="1.0"/><rect x="53.8" y="41.9" width="1.0" height="1.0"/><rect x="58.5" y="41.5" width="1.0" height="1.0"/><rect x="56.0" y="40.8" width="1.0" height="1.0"/><rect x="57.8" y="44.2" width="1.0" height="1.0"/><rect x="58.2" y="41.4" width="1.0" height="1.0"/><rect x="55.8" y="43.5" width="1.0" height="1.0"/><rect x="60.3" y="38.8" width="1.0" height="1.0"/><rect x="59.0" y="41.6" width="1.0" height="1.0"/><rect x="57.4" y="36.0" width="1.0" height="1.0"/><rect x="61.7" y="34.0" width="1.0" height="1.0"/><rect x="58.2" y="39.2" width="1.0" height="1.0"/><rect x="60.2" y="39.0" width="1.0" height="1.0"/><rect x="57.6" y="42.6" width="1.0" height="1.0"/><rect x="58.6" y="38.7" width="1.0" height="1.0"/><rect x="59.1" y="41.9" width="1.0" height="1.0"/><rect x="59.9" y="38.7" width="1.0" height="1.0"/><rect x="57.4" y="39.1" width="1.0" height="1.0"/><rect x="55.5" y="41.4" width="1.0" height="1.0"/><rect x="58.5" y="45.5" width="1.0" height="1.0"/><rect x="56.7" y="41.9" width="1.0" height="1.0"/><rect x="60.2" y="40.1" width="1.0" height="1.0"/><rect x="57.7" y="41.0" width="1.0" height="1.0"/><rect x="55.8" y="37.0" width="1.0" height="1.0"/><rect x="60.2" y="41.1" width="1.0" height="1.0"/><rect x="57.3" y="36.2" width="1.0" height="1.0"/><rect x="57.8" y="44.6" width="1.0" height="1.0"/><rect x="54.7" y="37.4" width="1.0" height="1.0"/><rect x="60.2" y="45.5" width="1.0" height="1.0"/><rect x="61.2" y="38.6" width="1.0" height="1.0"/><rect x="58.9" y="37.9" width="1.0" height="1.0"/><rect x="58.7" y="39.2" width="1.0" height="1.0"/><rect x="58.0" y="45.2" width="1.0" height="1.0"/></g><g fill="#000" fill-opacity="0.52"><rect x="64.7" y="49.9" width="1.0" height="1.0"/><rect x="63.7" y="53.2" width="1.0" height="1.0"/><rect x="61.7" y="52.9" width="1.0" height="1.0"/><rect x="65.6" y="61.7" width="1.0" height="1.0"/><rect x="56.1" y="43.7" width="1.0" height="1.0"/><rect x="59.1" y="57.2" width="1.0" height="1.0"/><rect x="72.2" y="52.8" width="1.0" height="1.0"/><rect x="63.9" y="59.0" width="1.0" height="1.0"/><rect x="54.8" y="50.3" width="1.0" height="1.0"/><rect x="52.3" y="52.5" width="1.0" height="1.0"/><rect x="61.7" y="48.3" width="1.0" height="1.0"/><rect x="64.7" y="47.7" width="1.0" height="1.0"/><rect x="67.5" y="51.5" width="1.0" height="1.0"/><rect x="64.9" y="68.1" width="1.0" height="1.0"/><rect x="61.9" y="57.6" width="1.0" height="1.0"/><rect x="60.5" y="59.7" width="1.0" height="1.0"/><rect x="66.9" y="52.4" width="1.0" height="1.0"/><rect x="67.0" y="62.0" width="1.0" height="1.0"/><rect x="68.4" y="51.5" width="1.0" height="1.0"/><rect x="63.3" y="58.8" width="1.0" height="1.0"/><rect x="58.2" y="47.6" width="1.0" height="1.0"/><rect x="65.2" y="55.2" width="1.0" height="1.0"/><rect x="70.1" y="63.0" width="1.0" height="1.0"/><rect x="64.7" y="54.4" width="1.0" height="1.0"/><rect x="58.8" y="50.3" width="1.0" height="1.0"/><rect x="64.4" y="50.0" width="1.0" height="1.0"/><rect x="63.7" y="55.5" width="1.0" height="1.0"/><rect x="60.1" y="47.8" width="1.0" height="1.0"/><rect x="57.2" y="59.0" width="1.0" height="1.0"/><rect x="59.7" y="40.4" width="1.0" height="1.0"/><rect x="66.2" y="50.1" width="1.0" height="1.0"/><rect x="66.9" y="49.1" width="1.0" height="1.0"/><rect x="71.1" y="56.2" width="1.0" height="1.0"/><rect x="64.0" y="52.3" width="1.0" height="1.0"/><rect x="62.8" y="56.8" width="1.0" height="1.0"/><rect x="70.6" y="48.7" width="1.0" height="1.0"/><rect x="59.6" y="55.4" width="1.0" height="1.0"/><rect x="67.3" y="41.8" width="1.0" height="1.0"/><rect x="61.0" y="45.0" width="1.0" height="1.0"/><rect x="65.5" y="54.8" width="1.0" height="1.0"/><rect x="60.9" y="44.2" width="1.0" height="1.0"/><rect x="65.9" y="38.1" width="1.0" height="1.0"/><rect x="65.8" y="50.5" width="1.0" height="1.0"/><rect x="70.3" y="58.0" width="1.0" height="1.0"/><rect x="61.4" y="49.7" width="1.0" height="1.0"/><rect x="62.5" y="46.8" width="1.0" height="1.0"/><rect x="63.8" y="57.8" width="1.0" height="1.0"/><rect x="58.1" y="50.0" width="1.0" height="1.0"/><rect x="68.8" y="56.3" width="1.0" height="1.0"/><rect x="60.6" y="46.3" width="1.0" height="1.0"/><rect x="60.5" y="41.1" width="1.0" height="1.0"/><rect x="67.6" y="52.0" width="1.0" height="1.0"/><rect x="61.0" y="42.2" width="1.0" height="1.0"/><rect x="62.1" y="48.2" width="1.0" height="1.0"/><rect x="69.6" y="48.5" width="1.0" height="1.0"/><rect x="63.9" y="58.5" width="1.0" height="1.0"/><rect x="65.9" y="50.3" width="1.0" height="1.0"/><rect x="55.8" y="60.6" width="1.0" height="1.0"/><rect x="65.6" y="48.7" width="1.0" height="1.0"/><rect x="63.2" y="45.3" width="1.0" height="1.0"/><rect x="60.3" y="41.9" width="1.0" height="1.0"/><rect x="65.3" y="54.9" width="1.0" height="1.0"/><rect x="64.1" y="56.6" width="1.0" height="1.0"/><rect x="65.4" y="52.3" width="1.0" height="1.0"/><rect x="60.4" y="55.3" width="1.0" height="1.0"/><rect x="67.7" y="55.6" width="1.0" height="1.0"/><rect x="67.9" y="48.4" width="1.0" height="1.0"/><rect x="60.0" y="59.6" width="1.0" height="1.0"/><rect x="61.4" y="53.1" width="1.0" height="1.0"/><rect x="62.8" y="51.6" width="1.0" height="1.0"/><rect x="62.5" y="48.0" width="1.0" height="1.0"/><rect x="57.2" y="63.8" width="1.0" height="1.0"/><rect x="64.2" y="39.0" width="1.0" height="1.0"/><rect x="60.3" y="44.2" width="1.0" height="1.0"/><rect x="60.9" y="35.0" width="1.0" height="1.0"/><rect x="65.5" y="62.1" width="1.0" height="1.0"/><rect x="62.6" y="56.3" width="1.0" height="1.0"/><rect x="65.6" y="43.4" width="1.0" height="1.0"/><rect x="67.8" y="40.6" width="1.0" height="1.0"/><rect x="61.5" y="49.2" width="1.0" height="1.0"/><rect x="67.9" y="52.3" width="1.0" height="1.0"/><rect x="63.1" y="46.3" width="1.0" height="1.0"/><rect x="63.8" y="51.8" width="1.0" height="1.0"/><rect x="66.1" y="60.5" width="1.0" height="1.0"/><rect x="66.1" y="51.6" width="1.0" height="1.0"/><rect x="63.0" y="61.9" width="1.0" height="1.0"/><rect x="64.2" y="51.4" width="1.0" height="1.0"/><rect x="69.8" y="61.6" width="1.0" height="1.0"/><rect x="65.5" y="50.8" width="1.0" height="1.0"/><rect x="61.3" y="58.4" width="1.0" height="1.0"/><rect x="61.9" y="57.7" width="1.0" height="1.0"/><rect x="60.7" y="52.2" width="1.0" height="1.0"/><rect x="64.9" y="52.4" width="1.0" height="1.0"/><rect x="64.3" y="54.0" width="1.0" height="1.0"/><rect x="59.5" y="44.3" width="1.0" height="1.0"/><rect x="63.0" y="63.2" width="1.0" height="1.0"/><rect x="63.1" y="45.5" width="1.0" height="1.0"/><rect x="61.2" y="51.7" width="1.0" height="1.0"/><rect x="67.7" y="47.8" width="1.0" height="1.0"/><rect x="65.5" y="52.7" width="1.0" height="1.0"/><rect x="62.2" y="45.4" width="1.0" height="1.0"/><rect x="63.0" y="46.8" width="1.0" height="1.0"/><rect x="65.4" y="40.1" width="1.0" height="1.0"/><rect x="67.5" y="56.4" width="1.0" height="1.0"/><rect x="65.5" y="61.2" width="1.0" height="1.0"/><rect x="65.6" y="40.5" width="1.0" height="1.0"/><rect x="63.7" y="54.4" width="1.0" height="1.0"/><rect x="61.1" y="44.2" width="1.0" height="1.0"/><rect x="65.0" y="54.8" width="1.0" height="1.0"/><rect x="62.0" y="49.9" width="1.0" height="1.0"/><rect x="61.7" y="47.8" width="1.0" height="1.0"/><rect x="63.3" y="58.4" width="1.0" height="1.0"/><rect x="57.8" y="49.3" width="1.0" height="1.0"/><rect x="69.2" y="53.5" width="1.0" height="1.0"/><rect x="64.0" y="56.9" width="1.0" height="1.0"/><rect x="60.0" y="43.7" width="1.0" height="1.0"/><rect x="57.7" y="42.1" width="1.0" height="1.0"/><rect x="64.4" y="57.0" width="1.0" height="1.0"/><rect x="62.0" y="47.1" width="1.0" height="1.0"/><rect x="64.9" y="55.4" width="1.0" height="1.0"/><rect x="64.4" y="39.2" width="1.0" height="1.0"/><rect x="61.6" y="35.2" width="1.0" height="1.0"/><rect x="64.4" y="46.0" width="1.0" height="1.0"/><rect x="61.2" y="61.2" width="1.0" height="1.0"/><rect x="68.1" y="54.6" width="1.0" height="1.0"/><rect x="64.5" y="52.6" width="1.0" height="1.0"/><rect x="61.4" y="51.2" width="1.0" height="1.0"/><rect x="70.2" y="45.9" width="1.0" height="1.0"/><rect x="61.2" y="52.5" width="1.0" height="1.0"/><rect x="66.6" y="56.9" width="1.0" height="1.0"/><rect x="60.1" y="50.7" width="1.0" height="1.0"/><rect x="62.6" y="43.6" width="1.0" height="1.0"/><rect x="63.8" y="48.4" width="1.0" height="1.0"/><rect x="66.7" y="54.3" width="1.0" height="1.0"/><rect x="60.8" y="52.0" width="1.0" height="1.0"/><rect x="62.3" y="47.4" width="1.0" height="1.0"/><rect x="61.8" y="58.3" width="1.0" height="1.0"/><rect x="62.1" y="40.5" width="1.0" height="1.0"/><rect x="60.8" y="56.7" width="1.0" height="1.0"/><rect x="71.0" y="44.7" width="1.0" height="1.0"/><rect x="62.3" y="49.4" width="1.0" height="1.0"/><rect x="58.6" y="54.1" width="1.0" height="1.0"/><rect x="63.3" y="53.3" width="1.0" height="1.0"/><rect x="71.3" y="49.8" width="1.0" height="1.0"/><rect x="66.3" y="56.9" width="1.0" height="1.0"/><rect x="61.3" y="47.7" width="1.0" height="1.0"/><rect x="69.0" y="56.1" width="1.0" height="1.0"/><rect x="64.0" y="44.5" width="1.0" height="1.0"/><rect x="66.6" y="54.9" width="1.0" height="1.0"/><rect x="71.2" y="61.0" width="1.0" height="1.0"/><rect x="66.3" y="53.2" width="1.0" height="1.0"/><rect x="63.7" y="48.0" width="1.0" height="1.0"/><rect x="64.6" y="53.1" width="1.0" height="1.0"/><rect x="65.8" y="58.5" width="1.0" height="1.0"/><rect x="64.6" y="48.0" width="1.0" height="1.0"/><rect x="66.3" y="61.5" width="1.0" height="1.0"/><rect x="60.6" y="54.2" width="1.0" height="1.0"/><rect x="65.4" y="54.9" width="1.0" height="1.0"/><rect x="65.3" y="50.9" width="1.0" height="1.0"/><rect x="63.1" y="62.3" width="1.0" height="1.0"/><rect x="69.6" y="42.5" width="1.0" height="1.0"/><rect x="54.6" y="54.3" width="1.0" height="1.0"/><rect x="61.1" y="48.2" width="1.0" height="1.0"/><rect x="57.9" y="53.8" width="1.0" height="1.0"/><rect x="63.3" y="48.0" width="1.0" height="1.0"/><rect x="66.6" y="67.1" width="1.0" height="1.0"/><rect x="68.7" y="59.0" width="1.0" height="1.0"/><rect x="62.1" y="55.7" width="1.0" height="1.0"/><rect x="63.4" y="58.9" width="1.0" height="1.0"/><rect x="65.5" y="51.3" width="1.0" height="1.0"/><rect x="65.4" y="46.9" width="1.0" height="1.0"/><rect x="66.3" y="61.1" width="1.0" height="1.0"/><rect x="62.2" y="55.1" width="1.0" height="1.0"/><rect x="57.7" y="57.5" width="1.0" height="1.0"/><rect x="66.6" y="45.0" width="1.0" height="1.0"/><rect x="69.6" y="52.2" width="1.0" height="1.0"/><rect x="57.4" y="42.7" width="1.0" height="1.0"/><rect x="66.6" y="49.8" width="1.0" height="1.0"/><rect x="67.4" y="41.6" width="1.0" height="1.0"/><rect x="63.2" y="57.8" width="1.0" height="1.0"/><rect x="61.1" y="55.9" width="1.0" height="1.0"/><rect x="62.2" y="53.7" width="1.0" height="1.0"/><rect x="64.6" y="65.8" width="1.0" height="1.0"/><rect x="59.2" y="56.5" width="1.0" height="1.0"/><rect x="68.1" y="44.3" width="1.0" height="1.0"/><rect x="63.8" y="66.3" width="1.0" height="1.0"/><rect x="67.2" y="32.5" width="1.0" height="1.0"/><rect x="62.7" y="40.5" width="1.0" height="1.0"/><rect x="64.6" y="46.8" width="1.0" height="1.0"/><rect x="61.5" y="46.1" width="1.0" height="1.0"/><rect x="64.5" y="48.5" width="1.0" height="1.0"/><rect x="60.3" y="50.0" width="1.0" height="1.0"/><rect x="64.9" y="46.0" width="1.0" height="1.0"/><rect x="67.4" y="40.9" width="1.0" height="1.0"/><rect x="64.9" y="49.0" width="1.0" height="1.0"/><rect x="69.0" y="47.4" width="1.0" height="1.0"/><rect x="61.2" y="42.9" width="1.0" height="1.0"/><rect x="70.4" y="55.5" width="1.0" height="1.0"/><rect x="59.7" y="49.3" width="1.0" height="1.0"/><rect x="60.2" y="61.3" width="1.0" height="1.0"/><rect x="65.0" y="38.4" width="1.0" height="1.0"/><rect x="64.2" y="57.4" width="1.0" height="1.0"/><rect x="63.5" y="54.5" width="1.0" height="1.0"/><rect x="63.1" y="52.8" width="1.0" height="1.0"/><rect x="64.2" y="47.0" width="1.0" height="1.0"/><rect x="64.7" y="52.6" width="1.0" height="1.0"/><rect x="63.4" y="47.1" width="1.0" height="1.0"/><rect x="60.0" y="53.1" width="1.0" height="1.0"/><rect x="66.4" y="36.0" width="1.0" height="1.0"/><rect x="61.6" y="60.2" width="1.0" height="1.0"/><rect x="66.7" y="46.9" width="1.0" height="1.0"/><rect x="68.2" y="45.2" width="1.0" height="1.0"/><rect x="60.7" y="63.9" width="1.0" height="1.0"/><rect x="62.0" y="50.1" width="1.0" height="1.0"/><rect x="57.7" y="45.0" width="1.0" height="1.0"/><rect x="59.4" y="50.6" width="1.0" height="1.0"/><rect x="57.1" y="58.3" width="1.0" height="1.0"/><rect x="62.3" y="47.6" width="1.0" height="1.0"/><rect x="61.3" y="56.3" width="1.0" height="1.0"/><rect x="68.9" y="48.9" width="1.0" height="1.0"/><rect x="69.1" y="61.8" width="1.0" height="1.0"/><rect x="68.2" y="53.4" width="1.0" height="1.0"/><rect x="58.3" y="55.8" width="1.0" height="1.0"/><rect x="62.1" y="52.7" width="1.0" height="1.0"/><rect x="56.9" y="49.7" width="1.0" height="1.0"/><rect x="64.3" y="45.5" width="1.0" height="1.0"/><rect x="64.5" y="62.2" width="1.0" height="1.0"/><rect x="64.3" y="47.1" width="1.0" height="1.0"/><rect x="71.9" y="37.7" width="1.0" height="1.0"/><rect x="60.3" y="54.1" width="1.0" height="1.0"/><rect x="61.4" y="36.8" width="1.0" height="1.0"/><rect x="64.4" y="56.8" width="1.0" height="1.0"/><rect x="60.7" y="60.9" width="1.0" height="1.0"/><rect x="65.3" y="59.2" width="1.0" height="1.0"/><rect x="58.2" y="51.5" width="1.0" height="1.0"/><rect x="69.1" y="64.5" width="1.0" height="1.0"/><rect x="68.1" y="51.5" width="1.0" height="1.0"/><rect x="64.1" y="47.5" width="1.0" height="1.0"/><rect x="67.4" y="47.0" width="1.0" height="1.0"/><rect x="63.9" y="38.2" width="1.0" height="1.0"/><rect x="58.2" y="62.9" width="1.0" height="1.0"/><rect x="63.7" y="52.9" width="1.0" height="1.0"/><rect x="55.8" y="51.3" width="1.0" height="1.0"/><rect x="70.8" y="41.9" width="1.0" height="1.0"/><rect x="55.2" y="50.5" width="1.0" height="1.0"/><rect x="61.6" y="50.1" width="1.0" height="1.0"/><rect x="59.1" y="42.8" width="1.0" height="1.0"/><rect x="59.2" y="55.6" width="1.0" height="1.0"/><rect x="63.3" y="56.8" width="1.0" height="1.0"/><rect x="59.7" y="55.3" width="1.0" height="1.0"/><rect x="61.9" y="52.1" width="1.0" height="1.0"/><rect x="66.8" y="51.7" width="1.0" height="1.0"/><rect x="62.3" y="40.8" width="1.0" height="1.0"/><rect x="63.7" y="56.6" width="1.0" height="1.0"/><rect x="61.3" y="51.1" width="1.0" height="1.0"/><rect x="57.3" y="42.9" width="1.0" height="1.0"/><rect x="64.9" y="59.9" width="1.0" height="1.0"/><rect x="62.4" y="40.7" width="1.0" height="1.0"/><rect x="62.2" y="41.4" width="1.0" height="1.0"/><rect x="62.5" y="64.0" width="1.0" height="1.0"/><rect x="64.6" y="50.5" width="1.0" height="1.0"/><rect x="67.2" y="49.0" width="1.0" height="1.0"/><rect x="64.7" y="52.8" width="1.0" height="1.0"/><rect x="65.1" y="42.0" width="1.0" height="1.0"/><rect x="66.0" y="57.2" width="1.0" height="1.0"/><rect x="55.4" y="33.9" width="1.0" height="1.0"/><rect x="60.3" y="61.2" width="1.0" height="1.0"/><rect x="63.6" y="55.9" width="1.0" height="1.0"/><rect x="65.5" y="57.3" width="1.0" height="1.0"/><rect x="61.2" y="47.7" width="1.0" height="1.0"/><rect x="64.8" y="55.4" width="1.0" height="1.0"/><rect x="65.5" y="53.7" width="1.0" height="1.0"/><rect x="61.8" y="58.7" width="1.0" height="1.0"/><rect x="65.2" y="58.4" width="1.0" height="1.0"/><rect x="54.5" y="58.0" width="1.0" height="1.0"/><rect x="54.9" y="52.9" width="1.0" height="1.0"/><rect x="61.1" y="52.3" width="1.0" height="1.0"/><rect x="61.8" y="49.5" width="1.0" height="1.0"/><rect x="64.2" y="53.8" width="1.0" height="1.0"/><rect x="60.7" y="35.1" width="1.0" height="1.0"/><rect x="60.7" y="55.0" width="1.0" height="1.0"/><rect x="60.5" y="54.3" width="1.0" height="1.0"/><rect x="62.2" y="45.4" width="1.0" height="1.0"/><rect x="67.6" y="62.3" width="1.0" height="1.0"/><rect x="63.1" y="51.2" width="1.0" height="1.0"/><rect x="66.9" y="42.9" width="1.0" height="1.0"/><rect x="60.4" y="58.9" width="1.0" height="1.0"/><rect x="66.7" y="48.3" width="1.0" height="1.0"/><rect x="60.7" y="53.8" width="1.0" height="1.0"/><rect x="58.5" y="48.2" width="1.0" height="1.0"/><rect x="62.7" y="35.5" width="1.0" height="1.0"/><rect x="65.6" y="56.5" width="1.0" height="1.0"/><rect x="67.3" y="42.1" width="1.0" height="1.0"/><rect x="58.9" y="46.2" width="1.0" height="1.0"/><rect x="58.9" y="64.9" width="1.0" height="1.0"/><rect x="60.0" y="49.5" width="1.0" height="1.0"/><rect x="64.2" y="54.5" width="1.0" height="1.0"/><rect x="68.7" y="44.4" width="1.0" height="1.0"/><rect x="66.6" y="52.5" width="1.0" height="1.0"/><rect x="59.3" y="52.5" width="1.0" height="1.0"/><rect x="58.5" y="62.1" width="1.0" height="1.0"/><rect x="60.9" y="58.1" width="1.0" height="1.0"/><rect x="68.1" y="47.5" width="1.0" height="1.0"/><rect x="60.3" y="52.4" width="1.0" height="1.0"/><rect x="59.8" y="57.4" width="1.0" height="1.0"/><rect x="64.1" y="46.5" width="1.0" height="1.0"/><rect x="61.1" y="56.3" width="1.0" height="1.0"/><rect x="58.3" y="62.6" width="1.0" height="1.0"/><rect x="60.7" y="50.2" width="1.0" height="1.0"/><rect x="60.2" y="62.1" width="1.0" height="1.0"/><rect x="66.4" y="60.0" width="1.0" height="1.0"/><rect x="65.8" y="52.1" width="1.0" height="1.0"/><rect x="69.6" y="55.9" width="1.0" height="1.0"/><rect x="65.1" y="55.3" width="1.0" height="1.0"/><rect x="66.1" y="53.3" width="1.0" height="1.0"/><rect x="62.9" y="41.0" width="1.0" height="1.0"/><rect x="70.9" y="43.0" width="1.0" height="1.0"/><rect x="55.8" y="46.8" width="1.0" height="1.0"/><rect x="70.4" y="59.5" width="1.0" height="1.0"/><rect x="61.3" y="53.2" width="1.0" height="1.0"/><rect x="63.4" y="38.4" width="1.0" height="1.0"/><rect x="62.3" y="53.4" width="1.0" height="1.0"/><rect x="67.7" y="43.6" width="1.0" height="1.0"/><rect x="55.4" y="41.1" width="1.0" height="1.0"/><rect x="64.7" y="52.0" width="1.0" height="1.0"/><rect x="64.0" y="52.5" width="1.0" height="1.0"/><rect x="62.2" y="42.5" width="1.0" height="1.0"/><rect x="65.1" y="54.0" width="1.0" height="1.0"/><rect x="65.6" y="59.7" width="1.0" height="1.0"/><rect x="59.0" y="36.1" width="1.0" height="1.0"/><rect x="57.1" y="65.6" width="1.0" height="1.0"/><rect x="60.2" y="54.1" width="1.0" height="1.0"/><rect x="63.4" y="56.3" width="1.0" height="1.0"/><rect x="75.0" y="48.1" width="1.0" height="1.0"/><rect x="62.9" y="47.6" width="1.0" height="1.0"/><rect x="64.4" y="54.9" width="1.0" height="1.0"/><rect x="60.0" y="60.2" width="1.0" height="1.0"/><rect x="67.6" y="54.4" width="1.0" height="1.0"/><rect x="63.1" y="49.9" width="1.0" height="1.0"/><rect x="57.6" y="55.8" width="1.0" height="1.0"/><rect x="60.0" y="48.2" width="1.0" height="1.0"/><rect x="67.1" y="45.4" width="1.0" height="1.0"/><rect x="61.6" y="57.2" width="1.0" height="1.0"/><rect x="70.2" y="46.9" width="1.0" height="1.0"/><rect x="67.5" y="47.2" width="1.0" height="1.0"/><rect x="64.9" y="54.7" width="1.0" height="1.0"/><rect x="59.4" y="58.3" width="1.0" height="1.0"/><rect x="70.0" y="51.8" width="1.0" height="1.0"/><rect x="64.5" y="43.8" width="1.0" height="1.0"/><rect x="69.9" y="51.9" width="1.0" height="1.0"/><rect x="58.9" y="56.5" width="1.0" height="1.0"/><rect x="58.2" y="47.0" width="1.0" height="1.0"/><rect x="55.8" y="60.6" width="1.0" height="1.0"/><rect x="71.5" y="47.3" width="1.0" height="1.0"/><rect x="61.1" y="47.7" width="1.0" height="1.0"/><rect x="61.5" y="55.2" width="1.0" height="1.0"/><rect x="68.8" y="44.8" width="1.0" height="1.0"/><rect x="65.1" y="39.6" width="1.0" height="1.0"/><rect x="69.0" y="50.9" width="1.0" height="1.0"/><rect x="61.0" y="61.6" width="1.0" height="1.0"/><rect x="63.1" y="60.5" width="1.0" height="1.0"/><rect x="67.4" y="62.4" width="1.0" height="1.0"/><rect x="60.6" y="51.9" width="1.0" height="1.0"/><rect x="64.8" y="50.2" width="1.0" height="1.0"/><rect x="69.0" y="46.8" width="1.0" height="1.0"/><rect x="67.1" y="60.5" width="1.0" height="1.0"/><rect x="56.5" y="45.1" width="1.0" height="1.0"/><rect x="60.2" y="47.9" width="1.0" height="1.0"/><rect x="64.9" y="50.4" width="1.0" height="1.0"/><rect x="63.8" y="48.5" width="1.0" height="1.0"/><rect x="63.2" y="54.7" width="1.0" height="1.0"/><rect x="66.2" y="46.3" width="1.0" height="1.0"/><rect x="63.1" y="46.5" width="1.0" height="1.0"/><rect x="62.9" y="42.0" width="1.0" height="1.0"/><rect x="66.9" y="55.9" width="1.0" height="1.0"/><rect x="63.1" y="47.0" width="1.0" height="1.0"/><rect x="61.9" y="47.1" width="1.0" height="1.0"/><rect x="57.9" y="62.3" width="1.0" height="1.0"/><rect x="75.3" y="43.4" width="1.0" height="1.0"/><rect x="59.3" y="55.3" width="1.0" height="1.0"/><rect x="65.7" y="41.1" width="1.0" height="1.0"/><rect x="56.6" y="55.1" width="1.0" height="1.0"/><rect x="56.3" y="60.9" width="1.0" height="1.0"/><rect x="61.7" y="52.1" width="1.0" height="1.0"/><rect x="63.5" y="47.8" width="1.0" height="1.0"/><rect x="63.0" y="49.5" width="1.0" height="1.0"/><rect x="68.0" y="50.9" width="1.0" height="1.0"/><rect x="63.4" y="48.0" width="1.0" height="1.0"/><rect x="61.2" y="46.6" width="1.0" height="1.0"/><rect x="63.5" y="63.6" width="1.0" height="1.0"/><rect x="67.5" y="53.1" width="1.0" height="1.0"/><rect x="69.5" y="58.2" width="1.0" height="1.0"/><rect x="64.2" y="50.4" width="1.0" height="1.0"/><rect x="59.5" y="53.1" width="1.0" height="1.0"/><rect x="62.4" y="41.0" width="1.0" height="1.0"/><rect x="58.9" y="64.3" width="1.0" height="1.0"/><rect x="64.3" y="54.8" width="1.0" height="1.0"/><rect x="64.2" y="48.4" width="1.0" height="1.0"/><rect x="65.2" y="58.7" width="1.0" height="1.0"/><rect x="62.4" y="54.9" width="1.0" height="1.0"/><rect x="67.2" y="48.3" width="1.0" height="1.0"/><rect x="64.1" y="46.6" width="1.0" height="1.0"/><rect x="65.7" y="49.1" width="1.0" height="1.0"/><rect x="67.6" y="46.5" width="1.0" height="1.0"/><rect x="69.6" y="49.5" width="1.0" height="1.0"/><rect x="60.5" y="45.5" width="1.0" height="1.0"/><rect x="65.9" y="45.8" width="1.0" height="1.0"/><rect x="70.0" y="60.0" width="1.0" height="1.0"/><rect x="65.4" y="42.1" width="1.0" height="1.0"/><rect x="63.4" y="46.7" width="1.0" height="1.0"/><rect x="57.0" y="54.3" width="1.0" height="1.0"/><rect x="71.4" y="48.0" width="1.0" height="1.0"/><rect x="66.4" y="60.0" width="1.0" height="1.0"/><rect x="60.0" y="49.3" width="1.0" height="1.0"/><rect x="64.5" y="54.6" width="1.0" height="1.0"/><rect x="59.4" y="52.9" width="1.0" height="1.0"/><rect x="63.1" y="57.8" width="1.0" height="1.0"/><rect x="57.7" y="47.8" width="1.0" height="1.0"/><rect x="61.7" y="49.4" width="1.0" height="1.0"/><rect x="66.1" y="47.4" width="1.0" height="1.0"/><rect x="73.4" y="46.8" width="1.0" height="1.0"/><rect x="66.5" y="58.2" width="1.0" height="1.0"/><rect x="67.0" y="50.2" width="1.0" height="1.0"/><rect x="60.5" y="49.8" width="1.0" height="1.0"/><rect x="65.9" y="52.3" width="1.0" height="1.0"/><rect x="65.6" y="55.3" width="1.0" height="1.0"/><rect x="60.3" y="45.3" width="1.0" height="1.0"/><rect x="68.7" y="48.3" width="1.0" height="1.0"/><rect x="57.8" y="63.8" width="1.0" height="1.0"/><rect x="60.5" y="45.3" width="1.0" height="1.0"/><rect x="67.0" y="44.0" width="1.0" height="1.0"/><rect x="60.4" y="58.4" width="1.0" height="1.0"/><rect x="60.5" y="68.1" width="1.0" height="1.0"/><rect x="63.9" y="69.2" width="1.0" height="1.0"/><rect x="64.0" y="51.9" width="1.0" height="1.0"/><rect x="61.2" y="50.0" width="1.0" height="1.0"/><rect x="61.7" y="51.3" width="1.0" height="1.0"/><rect x="66.3" y="43.1" width="1.0" height="1.0"/><rect x="60.2" y="37.7" width="1.0" height="1.0"/><rect x="68.9" y="51.0" width="1.0" height="1.0"/><rect x="63.5" y="51.1" width="1.0" height="1.0"/><rect x="67.1" y="53.6" width="1.0" height="1.0"/><rect x="66.6" y="50.4" width="1.0" height="1.0"/><rect x="63.1" y="51.1" width="1.0" height="1.0"/><rect x="56.8" y="58.7" width="1.0" height="1.0"/><rect x="57.8" y="44.9" width="1.0" height="1.0"/><rect x="65.9" y="51.9" width="1.0" height="1.0"/><rect x="66.4" y="62.8" width="1.0" height="1.0"/><rect x="70.2" y="60.6" width="1.0" height="1.0"/><rect x="62.7" y="65.0" width="1.0" height="1.0"/><rect x="60.3" y="50.9" width="1.0" height="1.0"/><rect x="67.1" y="50.1" width="1.0" height="1.0"/><rect x="63.1" y="49.2" width="1.0" height="1.0"/><rect x="68.4" y="35.2" width="1.0" height="1.0"/><rect x="68.1" y="58.5" width="1.0" height="1.0"/><rect x="63.2" y="55.2" width="1.0" height="1.0"/><rect x="60.0" y="58.8" width="1.0" height="1.0"/><rect x="74.5" y="45.4" width="1.0" height="1.0"/><rect x="68.5" y="51.1" width="1.0" height="1.0"/><rect x="62.3" y="48.3" width="1.0" height="1.0"/><rect x="62.8" y="43.2" width="1.0" height="1.0"/><rect x="58.6" y="62.5" width="1.0" height="1.0"/><rect x="63.4" y="55.1" width="1.0" height="1.0"/><rect x="64.6" y="54.6" width="1.0" height="1.0"/><rect x="58.0" y="45.2" width="1.0" height="1.0"/><rect x="65.8" y="58.1" width="1.0" height="1.0"/><rect x="59.4" y="47.7" width="1.0" height="1.0"/><rect x="59.7" y="55.8" width="1.0" height="1.0"/><rect x="64.7" y="51.7" width="1.0" height="1.0"/><rect x="61.2" y="53.8" width="1.0" height="1.0"/><rect x="63.6" y="46.6" width="1.0" height="1.0"/><rect x="64.7" y="47.1" width="1.0" height="1.0"/><rect x="66.9" y="55.6" width="1.0" height="1.0"/><rect x="61.0" y="55.4" width="1.0" height="1.0"/><rect x="63.7" y="46.8" width="1.0" height="1.0"/><rect x="60.2" y="40.5" width="1.0" height="1.0"/><rect x="59.4" y="53.8" width="1.0" height="1.0"/><rect x="67.8" y="47.4" width="1.0" height="1.0"/><rect x="64.1" y="53.8" width="1.0" height="1.0"/><rect x="66.3" y="54.4" width="1.0" height="1.0"/><rect x="67.9" y="56.6" width="1.0" height="1.0"/><rect x="60.8" y="54.1" width="1.0" height="1.0"/><rect x="55.1" y="50.3" width="1.0" height="1.0"/><rect x="63.6" y="55.3" width="1.0" height="1.0"/><rect x="62.4" y="57.0" width="1.0" height="1.0"/><rect x="68.3" y="46.0" width="1.0" height="1.0"/><rect x="61.5" y="53.2" width="1.0" height="1.0"/><rect x="65.3" y="52.4" width="1.0" height="1.0"/><rect x="66.5" y="43.7" width="1.0" height="1.0"/><rect x="66.3" y="59.2" width="1.0" height="1.0"/><rect x="67.5" y="54.3" width="1.0" height="1.0"/><rect x="62.6" y="54.1" width="1.0" height="1.0"/><rect x="63.2" y="41.0" width="1.0" height="1.0"/><rect x="61.3" y="51.2" width="1.0" height="1.0"/><rect x="61.6" y="45.3" width="1.0" height="1.0"/><rect x="62.7" y="49.0" width="1.0" height="1.0"/><rect x="63.7" y="51.2" width="1.0" height="1.0"/><rect x="64.1" y="58.1" width="1.0" height="1.0"/><rect x="64.0" y="54.2" width="1.0" height="1.0"/><rect x="59.1" y="32.0" width="1.0" height="1.0"/><rect x="62.1" y="56.0" width="1.0" height="1.0"/><rect x="62.3" y="47.4" width="1.0" height="1.0"/><rect x="59.0" y="57.4" width="1.0" height="1.0"/><rect x="61.6" y="53.1" width="1.0" height="1.0"/><rect x="67.6" y="55.0" width="1.0" height="1.0"/><rect x="71.6" y="50.6" width="1.0" height="1.0"/><rect x="66.9" y="56.1" width="1.0" height="1.0"/><rect x="61.1" y="51.8" width="1.0" height="1.0"/><rect x="61.5" y="44.7" width="1.0" height="1.0"/><rect x="64.6" y="46.4" width="1.0" height="1.0"/><rect x="69.5" y="46.6" width="1.0" height="1.0"/><rect x="61.5" y="52.1" width="1.0" height="1.0"/><rect x="61.6" y="51.9" width="1.0" height="1.0"/><rect x="61.3" y="42.1" width="1.0" height="1.0"/><rect x="54.8" y="43.0" width="1.0" height="1.0"/><rect x="69.0" y="54.4" width="1.0" height="1.0"/><rect x="64.1" y="48.4" width="1.0" height="1.0"/><rect x="63.0" y="53.5" width="1.0" height="1.0"/><rect x="58.5" y="46.2" width="1.0" height="1.0"/><rect x="60.3" y="59.8" width="1.0" height="1.0"/><rect x="59.7" y="59.2" width="1.0" height="1.0"/><rect x="61.8" y="69.5" width="1.0" height="1.0"/><rect x="63.2" y="51.7" width="1.0" height="1.0"/><rect x="68.4" y="57.3" width="1.0" height="1.0"/><rect x="66.9" y="44.4" width="1.0" height="1.0"/><rect x="67.6" y="62.6" width="1.0" height="1.0"/><rect x="63.1" y="48.3" width="1.0" height="1.0"/><rect x="59.6" y="58.2" width="1.0" height="1.0"/><rect x="64.6" y="51.5" width="1.0" height="1.0"/><rect x="59.1" y="62.2" width="1.0" height="1.0"/><rect x="66.7" y="51.4" width="1.0" height="1.0"/><rect x="68.8" y="45.2" width="1.0" height="1.0"/><rect x="66.7" y="44.9" width="1.0" height="1.0"/><rect x="68.6" y="49.7" width="1.0" height="1.0"/><rect x="67.9" y="48.8" width="1.0" height="1.0"/><rect x="64.9" y="59.0" width="1.0" height="1.0"/><rect x="60.3" y="52.1" width="1.0" height="1.0"/><rect x="60.5" y="57.1" width="1.0" height="1.0"/><rect x="61.3" y="49.0" width="1.0" height="1.0"/><rect x="62.8" y="59.2" width="1.0" height="1.0"/><rect x="59.8" y="51.3" width="1.0" height="1.0"/><rect x="62.3" y="47.9" width="1.0" height="1.0"/><rect x="60.7" y="50.4" width="1.0" height="1.0"/><rect x="64.2" y="41.3" width="1.0" height="1.0"/><rect x="64.3" y="43.7" width="1.0" height="1.0"/><rect x="63.6" y="66.5" width="1.0" height="1.0"/><rect x="60.0" y="51.1" width="1.0" height="1.0"/><rect x="62.6" y="58.0" width="1.0" height="1.0"/><rect x="61.8" y="39.7" width="1.0" height="1.0"/><rect x="57.7" y="52.7" width="1.0" height="1.0"/><rect x="64.4" y="58.5" width="1.0" height="1.0"/><rect x="61.6" y="55.9" width="1.0" height="1.0"/><rect x="59.7" y="60.0" width="1.0" height="1.0"/><rect x="63.2" y="47.0" width="1.0" height="1.0"/><rect x="64.1" y="63.0" width="1.0" height="1.0"/><rect x="60.4" y="43.3" width="1.0" height="1.0"/><rect x="59.8" y="43.9" width="1.0" height="1.0"/><rect x="63.3" y="53.8" width="1.0" height="1.0"/><rect x="62.9" y="52.8" width="1.0" height="1.0"/><rect x="67.8" y="49.6" width="1.0" height="1.0"/><rect x="59.0" y="36.4" width="1.0" height="1.0"/><rect x="64.4" y="47.0" width="1.0" height="1.0"/><rect x="62.6" y="54.2" width="1.0" height="1.0"/><rect x="65.2" y="41.2" width="1.0" height="1.0"/><rect x="60.1" y="52.0" width="1.0" height="1.0"/><rect x="63.0" y="59.1" width="1.0" height="1.0"/><rect x="61.7" y="37.9" width="1.0" height="1.0"/><rect x="67.7" y="40.7" width="1.0" height="1.0"/><rect x="60.0" y="54.1" width="1.0" height="1.0"/><rect x="59.7" y="67.9" width="1.0" height="1.0"/><rect x="64.4" y="55.0" width="1.0" height="1.0"/><rect x="61.9" y="66.1" width="1.0" height="1.0"/><rect x="65.4" y="46.8" width="1.0" height="1.0"/><rect x="68.0" y="40.4" width="1.0" height="1.0"/><rect x="61.4" y="53.4" width="1.0" height="1.0"/><rect x="64.0" y="45.2" width="1.0" height="1.0"/><rect x="69.2" y="61.2" width="1.0" height="1.0"/><rect x="60.1" y="54.0" width="1.0" height="1.0"/><rect x="61.2" y="48.6" width="1.0" height="1.0"/><rect x="67.1" y="52.3" width="1.0" height="1.0"/><rect x="63.1" y="52.2" width="1.0" height="1.0"/><rect x="59.3" y="59.6" width="1.0" height="1.0"/><rect x="60.8" y="60.1" width="1.0" height="1.0"/><rect x="61.9" y="48.5" width="1.0" height="1.0"/><rect x="68.8" y="52.8" width="1.0" height="1.0"/><rect x="61.2" y="48.0" width="1.0" height="1.0"/><rect x="65.7" y="63.8" width="1.0" height="1.0"/><rect x="65.7" y="48.9" width="1.0" height="1.0"/><rect x="59.5" y="47.1" width="1.0" height="1.0"/><rect x="63.1" y="53.1" width="1.0" height="1.0"/><rect x="61.1" y="59.9" width="1.0" height="1.0"/><rect x="60.1" y="46.8" width="1.0" height="1.0"/><rect x="65.3" y="54.7" width="1.0" height="1.0"/><rect x="62.1" y="57.8" width="1.0" height="1.0"/><rect x="58.4" y="62.3" width="1.0" height="1.0"/><rect x="71.4" y="64.4" width="1.0" height="1.0"/><rect x="63.9" y="64.5" width="1.0" height="1.0"/><rect x="63.7" y="60.3" width="1.0" height="1.0"/><rect x="62.8" y="52.8" width="1.0" height="1.0"/><rect x="65.4" y="40.0" width="1.0" height="1.0"/><rect x="62.8" y="62.8" width="1.0" height="1.0"/><rect x="53.0" y="54.0" width="1.0" height="1.0"/><rect x="66.8" y="53.7" width="1.0" height="1.0"/><rect x="64.2" y="60.7" width="1.0" height="1.0"/><rect x="64.7" y="39.0" width="1.0" height="1.0"/><rect x="60.1" y="49.5" width="1.0" height="1.0"/><rect x="64.0" y="48.5" width="1.0" height="1.0"/><rect x="63.1" y="62.5" width="1.0" height="1.0"/><rect x="52.9" y="59.1" width="1.0" height="1.0"/><rect x="66.9" y="55.5" width="1.0" height="1.0"/><rect x="63.6" y="51.9" width="1.0" height="1.0"/><rect x="64.8" y="53.1" width="1.0" height="1.0"/><rect x="60.9" y="56.7" width="1.0" height="1.0"/><rect x="60.5" y="51.2" width="1.0" height="1.0"/><rect x="62.2" y="43.9" width="1.0" height="1.0"/><rect x="65.7" y="51.0" width="1.0" height="1.0"/><rect x="59.3" y="51.0" width="1.0" height="1.0"/><rect x="58.5" y="61.0" width="1.0" height="1.0"/><rect x="65.4" y="64.6" width="1.0" height="1.0"/><rect x="61.5" y="56.2" width="1.0" height="1.0"/><rect x="60.0" y="45.9" width="1.0" height="1.0"/><rect x="63.2" y="54.2" width="1.0" height="1.0"/><rect x="66.8" y="49.7" width="1.0" height="1.0"/><rect x="67.5" y="57.9" width="1.0" height="1.0"/><rect x="60.4" y="50.3" width="1.0" height="1.0"/><rect x="60.2" y="62.7" width="1.0" height="1.0"/><rect x="61.5" y="57.3" width="1.0" height="1.0"/><rect x="66.8" y="49.8" width="1.0" height="1.0"/><rect x="61.8" y="53.8" width="1.0" height="1.0"/><rect x="60.7" y="43.2" width="1.0" height="1.0"/><rect x="60.0" y="53.7" width="1.0" height="1.0"/><rect x="64.2" y="63.1" width="1.0" height="1.0"/><rect x="56.9" y="54.8" width="1.0" height="1.0"/><rect x="59.4" y="59.1" width="1.0" height="1.0"/><rect x="66.0" y="52.3" width="1.0" height="1.0"/><rect x="68.8" y="49.1" width="1.0" height="1.0"/><rect x="61.6" y="44.6" width="1.0" height="1.0"/><rect x="61.1" y="52.3" width="1.0" height="1.0"/><rect x="65.9" y="59.9" width="1.0" height="1.0"/><rect x="62.5" y="46.7" width="1.0" height="1.0"/><rect x="62.3" y="48.7" width="1.0" height="1.0"/><rect x="61.8" y="48.9" width="1.0" height="1.0"/><rect x="60.4" y="51.2" width="1.0" height="1.0"/><rect x="61.7" y="50.4" width="1.0" height="1.0"/><rect x="58.5" y="52.5" width="1.0" height="1.0"/><rect x="65.5" y="55.7" width="1.0" height="1.0"/><rect x="61.5" y="44.0" width="1.0" height="1.0"/><rect x="58.8" y="43.8" width="1.0" height="1.0"/><rect x="61.2" y="49.5" width="1.0" height="1.0"/><rect x="57.2" y="55.9" width="1.0" height="1.0"/><rect x="58.0" y="47.0" width="1.0" height="1.0"/><rect x="60.9" y="56.9" width="1.0" height="1.0"/><rect x="70.1" y="49.2" width="1.0" height="1.0"/><rect x="62.5" y="48.9" width="1.0" height="1.0"/><rect x="62.8" y="50.4" width="1.0" height="1.0"/><rect x="72.3" y="44.4" width="1.0" height="1.0"/><rect x="63.1" y="46.3" width="1.0" height="1.0"/><rect x="64.8" y="48.1" width="1.0" height="1.0"/><rect x="65.6" y="44.4" width="1.0" height="1.0"/><rect x="71.0" y="52.9" width="1.0" height="1.0"/><rect x="57.2" y="56.1" width="1.0" height="1.0"/><rect x="61.8" y="44.0" width="1.0" height="1.0"/><rect x="65.1" y="48.1" width="1.0" height="1.0"/><rect x="66.1" y="47.9" width="1.0" height="1.0"/><rect x="66.7" y="52.5" width="1.0" height="1.0"/><rect x="64.8" y="52.5" width="1.0" height="1.0"/><rect x="62.2" y="49.1" width="1.0" height="1.0"/><rect x="65.1" y="56.1" width="1.0" height="1.0"/><rect x="62.0" y="66.1" width="1.0" height="1.0"/><rect x="69.5" y="44.0" width="1.0" height="1.0"/><rect x="67.4" y="51.0" width="1.0" height="1.0"/><rect x="64.3" y="46.4" width="1.0" height="1.0"/><rect x="69.4" y="46.1" width="1.0" height="1.0"/><rect x="63.2" y="46.8" width="1.0" height="1.0"/><rect x="70.4" y="59.7" width="1.0" height="1.0"/><rect x="58.8" y="48.6" width="1.0" height="1.0"/><rect x="64.8" y="48.7" width="1.0" height="1.0"/><rect x="62.2" y="44.5" width="1.0" height="1.0"/><rect x="64.4" y="44.4" width="1.0" height="1.0"/><rect x="66.5" y="67.1" width="1.0" height="1.0"/><rect x="62.3" y="62.2" width="1.0" height="1.0"/><rect x="64.8" y="47.2" width="1.0" height="1.0"/><rect x="62.3" y="45.3" width="1.0" height="1.0"/><rect x="63.9" y="56.1" width="1.0" height="1.0"/><rect x="66.8" y="49.7" width="1.0" height="1.0"/><rect x="59.3" y="51.0" width="1.0" height="1.0"/><rect x="69.4" y="53.3" width="1.0" height="1.0"/><rect x="63.3" y="38.0" width="1.0" height="1.0"/><rect x="62.0" y="55.0" width="1.0" height="1.0"/><rect x="60.1" y="60.3" width="1.0" height="1.0"/><rect x="61.5" y="45.9" width="1.0" height="1.0"/><rect x="61.4" y="50.9" width="1.0" height="1.0"/><rect x="67.0" y="47.8" width="1.0" height="1.0"/><rect x="57.2" y="51.0" width="1.0" height="1.0"/><rect x="65.4" y="61.5" width="1.0" height="1.0"/><rect x="59.5" y="61.1" width="1.0" height="1.0"/><rect x="65.9" y="54.5" width="1.0" height="1.0"/><rect x="60.8" y="45.8" width="1.0" height="1.0"/><rect x="60.1" y="57.6" width="1.0" height="1.0"/><rect x="64.3" y="58.4" width="1.0" height="1.0"/><rect x="69.9" y="51.6" width="1.0" height="1.0"/><rect x="63.3" y="63.9" width="1.0" height="1.0"/><rect x="58.9" y="48.6" width="1.0" height="1.0"/><rect x="62.2" y="49.1" width="1.0" height="1.0"/><rect x="64.0" y="46.1" width="1.0" height="1.0"/><rect x="67.6" y="42.7" width="1.0" height="1.0"/><rect x="60.6" y="40.6" width="1.0" height="1.0"/><rect x="58.5" y="55.3" width="1.0" height="1.0"/><rect x="65.7" y="50.3" width="1.0" height="1.0"/><rect x="66.5" y="55.5" width="1.0" height="1.0"/><rect x="61.5" y="51.3" width="1.0" height="1.0"/><rect x="64.8" y="64.5" width="1.0" height="1.0"/><rect x="61.9" y="53.9" width="1.0" height="1.0"/><rect x="65.4" y="59.4" width="1.0" height="1.0"/><rect x="65.0" y="58.5" width="1.0" height="1.0"/><rect x="59.7" y="49.8" width="1.0" height="1.0"/><rect x="56.6" y="51.2" width="1.0" height="1.0"/><rect x="71.8" y="53.1" width="1.0" height="1.0"/><rect x="63.8" y="53.3" width="1.0" height="1.0"/><rect x="64.0" y="43.0" width="1.0" height="1.0"/><rect x="61.0" y="50.4" width="1.0" height="1.0"/><rect x="64.1" y="46.0" width="1.0" height="1.0"/><rect x="63.1" y="46.8" width="1.0" height="1.0"/><rect x="58.8" y="47.3" width="1.0" height="1.0"/><rect x="60.7" y="56.9" width="1.0" height="1.0"/><rect x="68.2" y="55.3" width="1.0" height="1.0"/><rect x="62.8" y="47.9" width="1.0" height="1.0"/><rect x="57.9" y="48.1" width="1.0" height="1.0"/><rect x="69.0" y="59.0" width="1.0" height="1.0"/><rect x="64.3" y="50.0" width="1.0" height="1.0"/><rect x="63.5" y="54.3" width="1.0" height="1.0"/><rect x="63.5" y="54.3" width="1.0" height="1.0"/><rect x="60.8" y="51.8" width="1.0" height="1.0"/><rect x="62.3" y="58.5" width="1.0" height="1.0"/><rect x="59.1" y="59.9" width="1.0" height="1.0"/><rect x="63.2" y="48.3" width="1.0" height="1.0"/><rect x="63.6" y="52.3" width="1.0" height="1.0"/><rect x="62.7" y="54.3" width="1.0" height="1.0"/><rect x="61.5" y="40.6" width="1.0" height="1.0"/><rect x="66.0" y="51.4" width="1.0" height="1.0"/><rect x="69.4" y="54.0" width="1.0" height="1.0"/><rect x="56.4" y="59.5" width="1.0" height="1.0"/><rect x="61.1" y="55.1" width="1.0" height="1.0"/><rect x="71.4" y="58.6" width="1.0" height="1.0"/><rect x="59.6" y="51.0" width="1.0" height="1.0"/><rect x="57.8" y="55.8" width="1.0" height="1.0"/><rect x="65.5" y="44.9" width="1.0" height="1.0"/><rect x="65.1" y="57.6" width="1.0" height="1.0"/><rect x="66.4" y="47.2" width="1.0" height="1.0"/><rect x="61.1" y="44.3" width="1.0" height="1.0"/><rect x="58.9" y="53.6" width="1.0" height="1.0"/><rect x="63.6" y="59.9" width="1.0" height="1.0"/><rect x="64.5" y="49.5" width="1.0" height="1.0"/><rect x="58.5" y="61.5" width="1.0" height="1.0"/><rect x="64.1" y="51.4" width="1.0" height="1.0"/><rect x="59.9" y="44.8" width="1.0" height="1.0"/><rect x="65.7" y="45.3" width="1.0" height="1.0"/><rect x="65.6" y="55.6" width="1.0" height="1.0"/><rect x="62.2" y="41.1" width="1.0" height="1.0"/><rect x="65.0" y="60.6" width="1.0" height="1.0"/><rect x="60.6" y="43.4" width="1.0" height="1.0"/><rect x="67.3" y="52.5" width="1.0" height="1.0"/><rect x="61.3" y="59.4" width="1.0" height="1.0"/><rect x="62.5" y="54.5" width="1.0" height="1.0"/><rect x="62.1" y="46.7" width="1.0" height="1.0"/><rect x="64.3" y="46.0" width="1.0" height="1.0"/><rect x="57.2" y="48.1" width="1.0" height="1.0"/><rect x="67.9" y="58.6" width="1.0" height="1.0"/><rect x="71.2" y="57.9" width="1.0" height="1.0"/><rect x="69.2" y="53.2" width="1.0" height="1.0"/><rect x="62.0" y="54.6" width="1.0" height="1.0"/><rect x="60.1" y="56.3" width="1.0" height="1.0"/><rect x="61.9" y="53.2" width="1.0" height="1.0"/><rect x="60.5" y="50.7" width="1.0" height="1.0"/><rect x="67.0" y="50.2" width="1.0" height="1.0"/><rect x="61.1" y="53.4" width="1.0" height="1.0"/><rect x="66.6" y="50.4" width="1.0" height="1.0"/><rect x="59.4" y="41.6" width="1.0" height="1.0"/><rect x="58.8" y="58.4" width="1.0" height="1.0"/><rect x="63.2" y="54.6" width="1.0" height="1.0"/><rect x="67.3" y="53.4" width="1.0" height="1.0"/><rect x="65.2" y="48.3" width="1.0" height="1.0"/><rect x="57.8" y="55.6" width="1.0" height="1.0"/><rect x="63.2" y="55.2" width="1.0" height="1.0"/><rect x="59.7" y="50.7" width="1.0" height="1.0"/><rect x="70.6" y="46.2" width="1.0" height="1.0"/><rect x="63.8" y="59.9" width="1.0" height="1.0"/><rect x="62.7" y="52.4" width="1.0" height="1.0"/><rect x="56.0" y="56.5" width="1.0" height="1.0"/><rect x="61.9" y="59.8" width="1.0" height="1.0"/><rect x="63.2" y="49.2" width="1.0" height="1.0"/><rect x="65.0" y="50.0" width="1.0" height="1.0"/><rect x="61.7" y="61.4" width="1.0" height="1.0"/><rect x="67.0" y="52.3" width="1.0" height="1.0"/><rect x="66.4" y="56.8" width="1.0" height="1.0"/><rect x="65.6" y="51.9" width="1.0" height="1.0"/><rect x="63.8" y="54.2" width="1.0" height="1.0"/><rect x="65.5" y="53.8" width="1.0" height="1.0"/><rect x="61.6" y="51.1" width="1.0" height="1.0"/><rect x="65.1" y="45.3" width="1.0" height="1.0"/><rect x="63.5" y="56.4" width="1.0" height="1.0"/><rect x="64.1" y="49.8" width="1.0" height="1.0"/><rect x="63.4" y="48.5" width="1.0" height="1.0"/><rect x="67.0" y="49.2" width="1.0" height="1.0"/><rect x="57.6" y="43.9" width="1.0" height="1.0"/><rect x="64.6" y="52.9" width="1.0" height="1.0"/><rect x="61.8" y="43.3" width="1.0" height="1.0"/><rect x="63.0" y="46.3" width="1.0" height="1.0"/><rect x="61.2" y="51.6" width="1.0" height="1.0"/><rect x="60.8" y="53.6" width="1.0" height="1.0"/><rect x="60.9" y="48.6" width="1.0" height="1.0"/><rect x="62.7" y="60.9" width="1.0" height="1.0"/><rect x="69.1" y="57.6" width="1.0" height="1.0"/><rect x="60.9" y="51.6" width="1.0" height="1.0"/><rect x="66.7" y="56.7" width="1.0" height="1.0"/><rect x="57.8" y="51.2" width="1.0" height="1.0"/><rect x="60.9" y="56.3" width="1.0" height="1.0"/><rect x="65.7" y="48.2" width="1.0" height="1.0"/><rect x="71.1" y="49.8" width="1.0" height="1.0"/><rect x="72.1" y="50.5" width="1.0" height="1.0"/><rect x="63.2" y="63.6" width="1.0" height="1.0"/><rect x="61.6" y="48.6" width="1.0" height="1.0"/><rect x="68.7" y="51.4" width="1.0" height="1.0"/><rect x="65.2" y="43.7" width="1.0" height="1.0"/><rect x="69.8" y="57.8" width="1.0" height="1.0"/><rect x="64.8" y="56.1" width="1.0" height="1.0"/><rect x="61.7" y="48.6" width="1.0" height="1.0"/><rect x="58.0" y="53.9" width="1.0" height="1.0"/><rect x="67.9" y="57.0" width="1.0" height="1.0"/><rect x="66.7" y="56.1" width="1.0" height="1.0"/><rect x="60.3" y="43.4" width="1.0" height="1.0"/><rect x="65.8" y="52.7" width="1.0" height="1.0"/><rect x="67.0" y="49.9" width="1.0" height="1.0"/><rect x="60.4" y="54.4" width="1.0" height="1.0"/><rect x="61.5" y="41.3" width="1.0" height="1.0"/><rect x="61.4" y="46.1" width="1.0" height="1.0"/><rect x="59.6" y="48.1" width="1.0" height="1.0"/><rect x="66.8" y="66.4" width="1.0" height="1.0"/><rect x="69.6" y="49.0" width="1.0" height="1.0"/><rect x="67.5" y="51.2" width="1.0" height="1.0"/><rect x="64.9" y="47.4" width="1.0" height="1.0"/><rect x="63.2" y="41.1" width="1.0" height="1.0"/><rect x="69.8" y="46.8" width="1.0" height="1.0"/><rect x="65.6" y="47.9" width="1.0" height="1.0"/><rect x="64.5" y="44.2" width="1.0" height="1.0"/><rect x="62.2" y="57.3" width="1.0" height="1.0"/><rect x="65.6" y="39.4" width="1.0" height="1.0"/><rect x="66.5" y="43.4" width="1.0" height="1.0"/><rect x="64.5" y="54.9" width="1.0" height="1.0"/><rect x="61.2" y="49.6" width="1.0" height="1.0"/><rect x="62.6" y="54.1" width="1.0" height="1.0"/><rect x="66.7" y="60.2" width="1.0" height="1.0"/><rect x="64.7" y="64.1" width="1.0" height="1.0"/><rect x="60.2" y="62.8" width="1.0" height="1.0"/><rect x="62.6" y="56.4" width="1.0" height="1.0"/><rect x="63.1" y="52.1" width="1.0" height="1.0"/><rect x="60.3" y="54.0" width="1.0" height="1.0"/><rect x="70.6" y="52.5" width="1.0" height="1.0"/><rect x="63.4" y="51.6" width="1.0" height="1.0"/><rect x="66.0" y="50.3" width="1.0" height="1.0"/><rect x="63.5" y="53.0" width="1.0" height="1.0"/><rect x="68.1" y="57.6" width="1.0" height="1.0"/><rect x="59.8" y="47.6" width="1.0" height="1.0"/><rect x="63.6" y="56.9" width="1.0" height="1.0"/><rect x="66.9" y="50.3" width="1.0" height="1.0"/><rect x="71.0" y="50.6" width="1.0" height="1.0"/><rect x="68.5" y="60.5" width="1.0" height="1.0"/><rect x="69.1" y="52.9" width="1.0" height="1.0"/><rect x="65.5" y="42.0" width="1.0" height="1.0"/><rect x="57.2" y="47.8" width="1.0" height="1.0"/><rect x="66.0" y="58.3" width="1.0" height="1.0"/><rect x="63.1" y="58.1" width="1.0" height="1.0"/><rect x="65.5" y="61.2" width="1.0" height="1.0"/><rect x="57.9" y="46.4" width="1.0" height="1.0"/><rect x="60.1" y="45.1" width="1.0" height="1.0"/><rect x="69.3" y="45.8" width="1.0" height="1.0"/><rect x="60.6" y="49.1" width="1.0" height="1.0"/><rect x="66.6" y="48.7" width="1.0" height="1.0"/><rect x="66.1" y="55.1" width="1.0" height="1.0"/><rect x="61.2" y="36.8" width="1.0" height="1.0"/><rect x="60.3" y="43.8" width="1.0" height="1.0"/><rect x="69.3" y="47.1" width="1.0" height="1.0"/><rect x="59.7" y="54.0" width="1.0" height="1.0"/><rect x="63.7" y="45.7" width="1.0" height="1.0"/><rect x="67.4" y="57.3" width="1.0" height="1.0"/><rect x="64.5" y="46.9" width="1.0" height="1.0"/><rect x="60.4" y="38.8" width="1.0" height="1.0"/><rect x="64.9" y="54.1" width="1.0" height="1.0"/><rect x="60.3" y="51.8" width="1.0" height="1.0"/><rect x="75.1" y="44.5" width="1.0" height="1.0"/><rect x="57.5" y="55.4" width="1.0" height="1.0"/><rect x="62.0" y="48.5" width="1.0" height="1.0"/><rect x="65.7" y="50.8" width="1.0" height="1.0"/><rect x="67.0" y="54.8" width="1.0" height="1.0"/><rect x="67.6" y="52.3" width="1.0" height="1.0"/><rect x="55.9" y="60.1" width="1.0" height="1.0"/><rect x="57.5" y="58.1" width="1.0" height="1.0"/><rect x="64.4" y="42.9" width="1.0" height="1.0"/><rect x="63.7" y="57.1" width="1.0" height="1.0"/><rect x="59.9" y="51.9" width="1.0" height="1.0"/><rect x="60.9" y="45.3" width="1.0" height="1.0"/><rect x="61.3" y="59.6" width="1.0" height="1.0"/><rect x="65.9" y="51.4" width="1.0" height="1.0"/><rect x="63.2" y="52.4" width="1.0" height="1.0"/><rect x="64.5" y="52.7" width="1.0" height="1.0"/><rect x="57.4" y="57.4" width="1.0" height="1.0"/><rect x="60.5" y="35.2" width="1.0" height="1.0"/><rect x="66.0" y="44.0" width="1.0" height="1.0"/><rect x="63.0" y="51.0" width="1.0" height="1.0"/><rect x="61.4" y="54.9" width="1.0" height="1.0"/><rect x="62.5" y="49.8" width="1.0" height="1.0"/><rect x="60.1" y="49.8" width="1.0" height="1.0"/><rect x="59.8" y="51.8" width="1.0" height="1.0"/><rect x="68.2" y="57.9" width="1.0" height="1.0"/><rect x="65.0" y="43.0" width="1.0" height="1.0"/><rect x="67.1" y="57.4" width="1.0" height="1.0"/><rect x="70.8" y="37.5" width="1.0" height="1.0"/><rect x="63.6" y="49.5" width="1.0" height="1.0"/><rect x="67.3" y="44.8" width="1.0" height="1.0"/><rect x="62.2" y="66.1" width="1.0" height="1.0"/><rect x="67.0" y="39.1" width="1.0" height="1.0"/><rect x="63.6" y="60.2" width="1.0" height="1.0"/><rect x="61.3" y="55.3" width="1.0" height="1.0"/><rect x="63.9" y="42.4" width="1.0" height="1.0"/><rect x="61.3" y="58.7" width="1.0" height="1.0"/><rect x="67.7" y="47.8" width="1.0" height="1.0"/><rect x="67.5" y="47.1" width="1.0" height="1.0"/><rect x="64.4" y="51.4" width="1.0" height="1.0"/><rect x="59.1" y="53.6" width="1.0" height="1.0"/><rect x="62.1" y="34.3" width="1.0" height="1.0"/><rect x="60.6" y="46.2" width="1.0" height="1.0"/><rect x="60.5" y="45.4" width="1.0" height="1.0"/><rect x="61.1" y="36.1" width="1.0" height="1.0"/><rect x="66.7" y="52.0" width="1.0" height="1.0"/><rect x="64.4" y="49.9" width="1.0" height="1.0"/><rect x="63.7" y="49.9" width="1.0" height="1.0"/><rect x="59.6" y="42.0" width="1.0" height="1.0"/><rect x="63.8" y="57.9" width="1.0" height="1.0"/><rect x="64.3" y="61.7" width="1.0" height="1.0"/><rect x="58.7" y="49.9" width="1.0" height="1.0"/><rect x="61.3" y="59.3" width="1.0" height="1.0"/><rect x="69.5" y="48.3" width="1.0" height="1.0"/><rect x="66.1" y="50.0" width="1.0" height="1.0"/><rect x="60.0" y="50.8" width="1.0" height="1.0"/><rect x="59.8" y="61.3" width="1.0" height="1.0"/><rect x="65.6" y="59.0" width="1.0" height="1.0"/><rect x="64.8" y="36.2" width="1.0" height="1.0"/><rect x="66.3" y="52.1" width="1.0" height="1.0"/><rect x="55.1" y="52.2" width="1.0" height="1.0"/><rect x="67.1" y="62.3" width="1.0" height="1.0"/><rect x="59.9" y="56.5" width="1.0" height="1.0"/><rect x="64.7" y="50.4" width="1.0" height="1.0"/><rect x="62.5" y="54.9" width="1.0" height="1.0"/><rect x="65.5" y="55.7" width="1.0" height="1.0"/><rect x="62.1" y="43.2" width="1.0" height="1.0"/><rect x="68.2" y="59.7" width="1.0" height="1.0"/><rect x="61.5" y="51.3" width="1.0" height="1.0"/><rect x="66.4" y="40.4" width="1.0" height="1.0"/><rect x="65.3" y="66.8" width="1.0" height="1.0"/><rect x="64.5" y="47.1" width="1.0" height="1.0"/><rect x="70.7" y="51.6" width="1.0" height="1.0"/><rect x="64.3" y="48.8" width="1.0" height="1.0"/><rect x="64.1" y="40.2" width="1.0" height="1.0"/><rect x="59.0" y="42.2" width="1.0" height="1.0"/><rect x="66.7" y="50.9" width="1.0" height="1.0"/><rect x="67.6" y="38.7" width="1.0" height="1.0"/><rect x="61.4" y="60.7" width="1.0" height="1.0"/><rect x="60.7" y="39.7" width="1.0" height="1.0"/><rect x="60.9" y="49.3" width="1.0" height="1.0"/><rect x="63.5" y="59.8" width="1.0" height="1.0"/><rect x="68.2" y="61.3" width="1.0" height="1.0"/><rect x="65.6" y="48.3" width="1.0" height="1.0"/><rect x="61.7" y="42.2" width="1.0" height="1.0"/><rect x="68.0" y="59.4" width="1.0" height="1.0"/><rect x="63.8" y="45.9" width="1.0" height="1.0"/><rect x="65.9" y="54.6" width="1.0" height="1.0"/><rect x="64.0" y="44.2" width="1.0" height="1.0"/><rect x="64.3" y="47.9" width="1.0" height="1.0"/><rect x="66.1" y="55.3" width="1.0" height="1.0"/><rect x="65.1" y="48.8" width="1.0" height="1.0"/><rect x="68.9" y="56.4" width="1.0" height="1.0"/><rect x="68.0" y="56.8" width="1.0" height="1.0"/><rect x="65.8" y="54.0" width="1.0" height="1.0"/><rect x="59.7" y="40.0" width="1.0" height="1.0"/><rect x="60.2" y="55.4" width="1.0" height="1.0"/><rect x="66.7" y="52.7" width="1.0" height="1.0"/><rect x="63.8" y="63.1" width="1.0" height="1.0"/><rect x="62.1" y="40.2" width="1.0" height="1.0"/><rect x="58.0" y="49.5" width="1.0" height="1.0"/><rect x="66.0" y="56.2" width="1.0" height="1.0"/><rect x="62.7" y="56.7" width="1.0" height="1.0"/><rect x="63.3" y="46.9" width="1.0" height="1.0"/><rect x="62.2" y="56.3" width="1.0" height="1.0"/><rect x="66.9" y="44.4" width="1.0" height="1.0"/><rect x="60.0" y="52.3" width="1.0" height="1.0"/><rect x="71.0" y="44.1" width="1.0" height="1.0"/><rect x="59.1" y="54.2" width="1.0" height="1.0"/><rect x="65.3" y="47.6" width="1.0" height="1.0"/><rect x="63.4" y="54.6" width="1.0" height="1.0"/><rect x="57.3" y="51.4" width="1.0" height="1.0"/></g><g fill="#000" fill-opacity="0.45"><rect x="63.4" y="75.2" width="1.0" height="1.0"/><rect x="65.6" y="72.8" width="1.0" height="1.0"/><rect x="55.3" y="76.2" width="1.0" height="1.0"/><rect x="64.0" y="71.5" width="1.0" height="1.0"/><rect x="65.1" y="75.5" width="1.0" height="1.0"/><rect x="60.5" y="67.3" width="1.0" height="1.0"/><rect x="59.2" y="71.2" width="1.0" height="1.0"/><rect x="57.7" y="72.8" width="1.0" height="1.0"/><rect x="56.8" y="73.9" width="1.0" height="1.0"/><rect x="68.4" y="70.2" width="1.0" height="1.0"/><rect x="65.1" y="71.7" width="1.0" height="1.0"/><rect x="63.1" y="72.7" width="1.0" height="1.0"/><rect x="66.0" y="71.3" width="1.0" height="1.0"/><rect x="63.9" y="71.1" width="1.0" height="1.0"/><rect x="61.9" y="73.0" width="1.0" height="1.0"/><rect x="65.3" y="69.2" width="1.0" height="1.0"/><rect x="55.7" y="76.3" width="1.0" height="1.0"/><rect x="62.5" y="77.1" width="1.0" height="1.0"/><rect x="57.0" y="73.5" width="1.0" height="1.0"/><rect x="63.4" y="77.2" width="1.0" height="1.0"/><rect x="60.8" y="71.9" width="1.0" height="1.0"/><rect x="63.8" y="72.8" width="1.0" height="1.0"/><rect x="58.1" y="74.8" width="1.0" height="1.0"/><rect x="53.5" y="70.6" width="1.0" height="1.0"/><rect x="66.3" y="71.8" width="1.0" height="1.0"/><rect x="59.7" y="73.9" width="1.0" height="1.0"/><rect x="65.4" y="74.3" width="1.0" height="1.0"/><rect x="57.2" y="71.6" width="1.0" height="1.0"/><rect x="65.1" y="72.7" width="1.0" height="1.0"/><rect x="58.5" y="75.1" width="1.0" height="1.0"/><rect x="65.5" y="78.2" width="1.0" height="1.0"/><rect x="56.8" y="71.3" width="1.0" height="1.0"/><rect x="58.3" y="73.9" width="1.0" height="1.0"/><rect x="59.1" y="75.7" width="1.0" height="1.0"/><rect x="50.5" y="75.3" width="1.0" height="1.0"/></g><g fill="#000" fill-opacity="0.4"><rect x="32.5" y="50.7" width="1.0" height="1.0"/><rect x="37.2" y="53.0" width="1.0" height="1.0"/><rect x="31.0" y="59.2" width="1.0" height="1.0"/><rect x="37.3" y="49.6" width="1.0" height="1.0"/><rect x="35.8" y="46.7" width="1.0" height="1.0"/><rect x="30.2" y="50.6" width="1.0" height="1.0"/><rect x="36.4" y="52.5" width="1.0" height="1.0"/><rect x="32.0" y="45.4" width="1.0" height="1.0"/><rect x="28.4" y="59.7" width="1.0" height="1.0"/><rect x="36.4" y="48.2" width="1.0" height="1.0"/><rect x="39.6" y="54.6" width="1.0" height="1.0"/><rect x="33.4" y="49.1" width="1.0" height="1.0"/><rect x="39.4" y="53.6" width="1.0" height="1.0"/><rect x="41.4" y="53.7" width="1.0" height="1.0"/><rect x="32.7" y="49.1" width="1.0" height="1.0"/><rect x="32.3" y="53.2" width="1.0" height="1.0"/><rect x="36.0" y="54.9" width="1.0" height="1.0"/><rect x="36.8" y="47.0" width="1.0" height="1.0"/><rect x="34.2" y="47.5" width="1.0" height="1.0"/><rect x="36.9" y="45.7" width="1.0" height="1.0"/><rect x="32.7" y="47.9" width="1.0" height="1.0"/><rect x="32.6" y="50.8" width="1.0" height="1.0"/><rect x="40.9" y="50.8" width="1.0" height="1.0"/><rect x="29.4" y="50.6" width="1.0" height="1.0"/><rect x="37.9" y="54.7" width="1.0" height="1.0"/><rect x="35.9" y="61.6" width="1.0" height="1.0"/><rect x="39.3" y="52.4" width="1.0" height="1.0"/><rect x="39.7" y="45.6" width="1.0" height="1.0"/><rect x="34.3" y="47.8" width="1.0" height="1.0"/><rect x="35.7" y="59.8" width="1.0" height="1.0"/><rect x="33.1" y="59.6" width="1.0" height="1.0"/><rect x="31.0" y="58.8" width="1.0" height="1.0"/><rect x="28.4" y="47.9" width="1.0" height="1.0"/><rect x="38.9" y="51.6" width="1.0" height="1.0"/><rect x="35.6" y="51.9" width="1.0" height="1.0"/><rect x="35.7" y="51.1" width="1.0" height="1.0"/><rect x="31.2" y="50.6" width="1.0" height="1.0"/><rect x="35.4" y="47.7" width="1.0" height="1.0"/><rect x="36.8" y="60.5" width="1.0" height="1.0"/><rect x="28.6" y="49.4" width="1.0" height="1.0"/></g><rect x="26.9" y="24.5" width="63.4" height="63.4" fill="none" stroke="#2a2a2a" stroke-width="1.35"/><polyline points="57.5,36.6 98.2,23.3 125,23.3" fill="none" stroke="#111" stroke-width="1.3"/><polygon points="124.6,20.6 131,23.3 124.6,26.3" fill="#111"/><polyline points="73.3,68.9 97.8,87.3 125,87.3" fill="none" stroke="#111" stroke-width="1.3"/><polygon points="124.4,84.6 130.8,87.3 124.4,90.3" fill="#111"/><g transform="translate(22.53,73.00) rotate(-90) scale(1.002,1.078)"><text x="0" y="0" font-family="Liberation Serif" font-weight="bold" font-size="13" fill="#111" stroke="#111" stroke-width="0.3">CD44</text></g><g transform="translate(45.70,102.46) scale(1.004,0.978)"><text x="0" y="0" font-family="Liberation Serif" font-weight="bold" font-size="13" fill="#111" stroke="#111" stroke-width="0.3">CD5</text></g><g fill="#000" fill-opacity="0.45"><rect x="168.5" y="30.1" width="1.0" height="1.0"/><rect x="170.5" y="26.2" width="1.0" height="1.0"/><rect x="169.8" y="30.0" width="1.0" height="1.0"/><rect x="169.5" y="38.1" width="1.0" height="1.0"/><rect x="170.7" y="22.2" width="1.0" height="1.0"/><rect x="161.6" y="33.1" width="1.0" height="1.0"/><rect x="168.2" y="26.7" width="1.0" height="1.0"/><rect x="162.8" y="28.4" width="1.0" height="1.0"/><rect x="169.5" y="26.4" width="1.0" height="1.0"/><rect x="168.1" y="34.7" width="1.0" height="1.0"/><rect x="174.2" y="32.9" width="1.0" height="1.0"/><rect x="169.1" y="22.8" width="1.0" height="1.0"/><rect x="174.2" y="37.9" width="1.0" height="1.0"/><rect x="176.8" y="36.1" width="1.0" height="1.0"/><rect x="171.5" y="32.0" width="1.0" height="1.0"/><rect x="169.9" y="36.6" width="1.0" height="1.0"/><rect x="168.6" y="41.3" width="1.0" height="1.0"/><rect x="174.2" y="28.3" width="1.0" height="1.0"/><rect x="170.0" y="21.5" width="1.0" height="1.0"/><rect x="166.1" y="28.4" width="1.0" height="1.0"/><rect x="183.1" y="25.7" width="1.0" height="1.0"/><rect x="174.9" y="30.4" width="1.0" height="1.0"/></g><g fill="#000" fill-opacity="0.5"><rect x="161.7" y="21.3" width="1.0" height="1.0"/><rect x="170.2" y="22.6" width="1.0" height="1.0"/><rect x="162.7" y="20.7" width="1.0" height="1.0"/><rect x="165.7" y="20.2" width="1.0" height="1.0"/><rect x="163.3" y="21.5" width="1.0" height="1.0"/><rect x="161.5" y="20.9" width="1.0" height="1.0"/><rect x="164.0" y="22.0" width="1.0" height="1.0"/><rect x="159.4" y="18.8" width="1.0" height="1.0"/><rect x="160.9" y="22.2" width="1.0" height="1.0"/><rect x="164.5" y="17.9" width="1.0" height="1.0"/><rect x="157.5" y="22.7" width="1.0" height="1.0"/><rect x="164.8" y="18.6" width="1.0" height="1.0"/><rect x="159.5" y="20.0" width="1.0" height="1.0"/><rect x="167.8" y="24.4" width="1.0" height="1.0"/><rect x="161.7" y="19.7" width="1.0" height="1.0"/><rect x="170.6" y="20.4" width="1.0" height="1.0"/><rect x="168.8" y="22.3" width="1.0" height="1.0"/><rect x="162.9" y="22.8" width="1.0" height="1.0"/><rect x="165.1" y="19.5" width="1.0" height="1.0"/><rect x="157.2" y="19.3" width="1.0" height="1.0"/><rect x="164.5" y="23.2" width="1.0" height="1.0"/><rect x="164.8" y="23.6" width="1.0" height="1.0"/><rect x="166.0" y="21.5" width="1.0" height="1.0"/><rect x="164.5" y="21.5" width="1.0" height="1.0"/><rect x="160.7" y="19.8" width="1.0" height="1.0"/><rect x="163.7" y="19.8" width="1.0" height="1.0"/><rect x="158.0" y="16.9" width="1.0" height="1.0"/><rect x="164.7" y="21.8" width="1.0" height="1.0"/><rect x="163.8" y="18.6" width="1.0" height="1.0"/><rect x="166.4" y="20.5" width="1.0" height="1.0"/><rect x="156.5" y="23.1" width="1.0" height="1.0"/><rect x="165.2" y="20.2" width="1.0" height="1.0"/><rect x="168.1" y="24.0" width="1.0" height="1.0"/><rect x="164.6" y="17.8" width="1.0" height="1.0"/><rect x="161.7" y="19.7" width="1.0" height="1.0"/><rect x="164.8" y="20.7" width="1.0" height="1.0"/><rect x="164.9" y="18.0" width="1.0" height="1.0"/><rect x="160.0" y="22.4" width="1.0" height="1.0"/><rect x="157.1" y="20.9" width="1.0" height="1.0"/><rect x="171.5" y="23.5" width="1.0" height="1.0"/><rect x="157.3" y="21.5" width="1.0" height="1.0"/><rect x="155.8" y="19.6" width="1.0" height="1.0"/><rect x="161.0" y="22.3" width="1.0" height="1.0"/><rect x="167.4" y="21.8" width="1.0" height="1.0"/><rect x="169.5" y="23.6" width="1.0" height="1.0"/><rect x="161.5" y="18.5" width="1.0" height="1.0"/><rect x="172.5" y="21.8" width="1.0" height="1.0"/><rect x="164.6" y="20.6" width="1.0" height="1.0"/><rect x="161.8" y="17.4" width="1.0" height="1.0"/><rect x="162.5" y="20.2" width="1.0" height="1.0"/><rect x="166.9" y="20.4" width="1.0" height="1.0"/><rect x="157.4" y="17.4" width="1.0" height="1.0"/><rect x="162.8" y="20.9" width="1.0" height="1.0"/><rect x="165.9" y="20.4" width="1.0" height="1.0"/><rect x="165.0" y="21.2" width="1.0" height="1.0"/><rect x="169.4" y="21.8" width="1.0" height="1.0"/><rect x="163.3" y="21.6" width="1.0" height="1.0"/><rect x="168.0" y="19.9" width="1.0" height="1.0"/><rect x="161.3" y="19.7" width="1.0" height="1.0"/><rect x="167.1" y="21.4" width="1.0" height="1.0"/><rect x="175.3" y="25.4" width="1.0" height="1.0"/><rect x="170.1" y="24.8" width="1.0" height="1.0"/><rect x="167.0" y="18.8" width="1.0" height="1.0"/><rect x="168.7" y="22.4" width="1.0" height="1.0"/><rect x="158.4" y="19.6" width="1.0" height="1.0"/></g><g fill="#000" fill-opacity="0.62"><rect x="177.8" y="20.2" width="1.0" height="1.0"/><rect x="174.3" y="16.7" width="1.0" height="1.0"/><rect x="176.5" y="15.3" width="1.0" height="1.0"/><rect x="174.3" y="20.5" width="1.0" height="1.0"/><rect x="168.5" y="20.9" width="1.0" height="1.0"/><rect x="165.4" y="17.8" width="1.0" height="1.0"/><rect x="169.0" y="19.4" width="1.0" height="1.0"/><rect x="176.8" y="17.4" width="1.0" height="1.0"/><rect x="177.8" y="17.6" width="1.0" height="1.0"/><rect x="173.5" y="19.9" width="1.0" height="1.0"/><rect x="173.1" y="18.9" width="1.0" height="1.0"/><rect x="177.8" y="15.6" width="1.0" height="1.0"/><rect x="177.8" y="14.0" width="1.0" height="1.0"/><rect x="171.8" y="13.7" width="1.0" height="1.0"/><rect x="173.1" y="23.3" width="1.0" height="1.0"/><rect x="176.4" y="21.5" width="1.0" height="1.0"/><rect x="167.3" y="17.1" width="1.0" height="1.0"/><rect x="176.5" y="20.1" width="1.0" height="1.0"/><rect x="176.1" y="12.7" width="1.0" height="1.0"/><rect x="176.0" y="17.5" width="1.0" height="1.0"/><rect x="174.8" y="19.5" width="1.0" height="1.0"/><rect x="171.6" y="13.9" width="1.0" height="1.0"/><rect x="168.6" y="15.4" width="1.0" height="1.0"/><rect x="168.6" y="19.4" width="1.0" height="1.0"/><rect x="178.7" y="14.9" width="1.0" height="1.0"/><rect x="170.1" y="15.9" width="1.0" height="1.0"/><rect x="167.1" y="20.4" width="1.0" height="1.0"/><rect x="171.9" y="18.2" width="1.0" height="1.0"/><rect x="170.5" y="20.7" width="1.0" height="1.0"/><rect x="169.6" y="21.1" width="1.0" height="1.0"/><rect x="171.9" y="21.2" width="1.0" height="1.0"/><rect x="170.7" y="20.5" width="1.0" height="1.0"/><rect x="175.7" y="17.6" width="1.0" height="1.0"/><rect x="180.7" y="17.0" width="1.0" height="1.0"/><rect x="170.9" y="21.2" width="1.0" height="1.0"/><rect x="170.3" y="17.7" width="1.0" height="1.0"/><rect x="174.2" y="18.8" width="1.0" height="1.0"/><rect x="179.6" y="11.6" width="1.0" height="1.0"/><rect x="173.8" y="21.7" width="1.0" height="1.0"/><rect x="173.6" y="19.4" width="1.0" height="1.0"/><rect x="179.3" y="13.2" width="1.0" height="1.0"/><rect x="174.8" y="20.5" width="1.0" height="1.0"/><rect x="170.3" y="14.0" width="1.0" height="1.0"/><rect x="170.1" y="19.9" width="1.0" height="1.0"/><rect x="176.1" y="23.3" width="1.0" height="1.0"/><rect x="178.2" y="12.5" width="1.0" height="1.0"/><rect x="178.9" y="19.7" width="1.0" height="1.0"/><rect x="180.4" y="16.1" width="1.0" height="1.0"/><rect x="171.9" y="19.3" width="1.0" height="1.0"/><rect x="180.7" y="18.4" width="1.0" height="1.0"/><rect x="181.5" y="18.7" width="1.0" height="1.0"/><rect x="170.9" y="16.1" width="1.0" height="1.0"/><rect x="180.4" y="12.1" width="1.0" height="1.0"/><rect x="172.3" y="17.8" width="1.0" height="1.0"/><rect x="169.9" y="17.7" width="1.0" height="1.0"/><rect x="175.8" y="25.0" width="1.0" height="1.0"/><rect x="173.3" y="16.9" width="1.0" height="1.0"/><rect x="175.2" y="20.8" width="1.0" height="1.0"/><rect x="170.4" y="18.0" width="1.0" height="1.0"/><rect x="167.5" y="22.2" width="1.0" height="1.0"/><rect x="177.9" y="21.8" width="1.0" height="1.0"/><rect x="170.8" y="25.7" width="1.0" height="1.0"/><rect x="177.3" y="16.6" width="1.0" height="1.0"/><rect x="172.2" y="17.9" width="1.0" height="1.0"/><rect x="169.7" y="21.8" width="1.0" height="1.0"/><rect x="171.0" y="16.9" width="1.0" height="1.0"/><rect x="176.2" y="18.1" width="1.0" height="1.0"/><rect x="171.5" y="18.3" width="1.0" height="1.0"/><rect x="173.0" y="22.6" width="1.0" height="1.0"/><rect x="177.5" y="15.2" width="1.0" height="1.0"/><rect x="174.9" y="22.2" width="1.0" height="1.0"/><rect x="174.2" y="23.6" width="1.0" height="1.0"/><rect x="176.3" y="19.7" width="1.0" height="1.0"/><rect x="166.2" y="22.9" width="1.0" height="1.0"/><rect x="175.8" y="19.6" width="1.0" height="1.0"/><rect x="176.3" y="19.3" width="1.0" height="1.0"/><rect x="172.6" y="21.4" width="1.0" height="1.0"/><rect x="173.5" y="15.3" width="1.0" height="1.0"/><rect x="170.0" y="19.9" width="1.0" height="1.0"/><rect x="173.7" y="11.7" width="1.0" height="1.0"/><rect x="166.4" y="23.5" width="1.0" height="1.0"/><rect x="176.1" y="26.3" width="1.0" height="1.0"/><rect x="167.6" y="19.3" width="1.0" height="1.0"/><rect x="172.0" y="20.5" width="1.0" height="1.0"/><rect x="180.9" y="21.3" width="1.0" height="1.0"/><rect x="170.8" y="22.9" width="1.0" height="1.0"/><rect x="169.3" y="20.5" width="1.0" height="1.0"/><rect x="175.2" y="19.9" width="1.0" height="1.0"/><rect x="171.8" y="22.9" width="1.0" height="1.0"/><rect x="173.7" y="18.3" width="1.0" height="1.0"/><rect x="172.1" y="15.6" width="1.0" height="1.0"/><rect x="177.2" y="18.5" width="1.0" height="1.0"/><rect x="177.2" y="23.0" width="1.0" height="1.0"/><rect x="170.3" y="18.4" width="1.0" height="1.0"/><rect x="174.7" y="20.7" width="1.0" height="1.0"/><rect x="174.0" y="21.1" width="1.0" height="1.0"/><rect x="174.5" y="12.9" width="1.0" height="1.0"/><rect x="169.7" y="13.3" width="1.0" height="1.0"/><rect x="172.5" y="17.4" width="1.0" height="1.0"/><rect x="176.5" y="18.1" width="1.0" height="1.0"/><rect x="174.7" y="21.9" width="1.0" height="1.0"/><rect x="175.5" y="14.2" width="1.0" height="1.0"/><rect x="171.5" y="20.0" width="1.0" height="1.0"/><rect x="180.8" y="15.9" width="1.0" height="1.0"/><rect x="173.5" y="19.2" width="1.0" height="1.0"/><rect x="177.1" y="17.2" width="1.0" height="1.0"/><rect x="174.9" y="16.8" width="1.0" height="1.0"/><rect x="171.2" y="16.7" width="1.0" height="1.0"/><rect x="176.3" y="16.0" width="1.0" height="1.0"/><rect x="176.5" y="18.8" width="1.0" height="1.0"/><rect x="175.9" y="9.7" width="1.0" height="1.0"/><rect x="169.2" y="15.9" width="1.0" height="1.0"/><rect x="173.9" y="20.7" width="1.0" height="1.0"/><rect x="185.4" y="19.9" width="1.0" height="1.0"/><rect x="179.8" y="17.9" width="1.0" height="1.0"/><rect x="172.8" y="20.2" width="1.0" height="1.0"/><rect x="165.9" y="23.3" width="1.0" height="1.0"/><rect x="174.5" y="20.0" width="1.0" height="1.0"/><rect x="169.0" y="16.3" width="1.0" height="1.0"/><rect x="171.4" y="18.9" width="1.0" height="1.0"/><rect x="175.1" y="16.9" width="1.0" height="1.0"/><rect x="175.9" y="19.8" width="1.0" height="1.0"/><rect x="169.2" y="19.3" width="1.0" height="1.0"/><rect x="167.3" y="18.4" width="1.0" height="1.0"/><rect x="177.1" y="15.3" width="1.0" height="1.0"/><rect x="181.9" y="17.7" width="1.0" height="1.0"/><rect x="177.7" y="17.6" width="1.0" height="1.0"/><rect x="178.3" y="20.4" width="1.0" height="1.0"/><rect x="174.0" y="16.7" width="1.0" height="1.0"/><rect x="173.2" y="24.3" width="1.0" height="1.0"/><rect x="172.9" y="17.2" width="1.0" height="1.0"/><rect x="169.9" y="14.3" width="1.0" height="1.0"/><rect x="172.2" y="19.8" width="1.0" height="1.0"/><rect x="171.5" y="16.7" width="1.0" height="1.0"/><rect x="176.0" y="19.2" width="1.0" height="1.0"/><rect x="172.5" y="19.6" width="1.0" height="1.0"/><rect x="170.7" y="21.8" width="1.0" height="1.0"/><rect x="169.7" y="18.4" width="1.0" height="1.0"/><rect x="174.2" y="17.0" width="1.0" height="1.0"/><rect x="170.9" y="25.5" width="1.0" height="1.0"/><rect x="178.8" y="11.7" width="1.0" height="1.0"/><rect x="173.5" y="14.6" width="1.0" height="1.0"/><rect x="174.3" y="14.3" width="1.0" height="1.0"/><rect x="176.8" y="19.2" width="1.0" height="1.0"/><rect x="181.8" y="19.8" width="1.0" height="1.0"/><rect x="172.9" y="21.5" width="1.0" height="1.0"/><rect x="172.1" y="18.5" width="1.0" height="1.0"/><rect x="170.6" y="13.9" width="1.0" height="1.0"/><rect x="174.9" y="11.9" width="1.0" height="1.0"/><rect x="173.4" y="20.0" width="1.0" height="1.0"/><rect x="173.3" y="13.7" width="1.0" height="1.0"/><rect x="171.9" y="20.9" width="1.0" height="1.0"/><rect x="179.7" y="21.6" width="1.0" height="1.0"/><rect x="167.0" y="21.6" width="1.0" height="1.0"/><rect x="172.6" y="21.0" width="1.0" height="1.0"/><rect x="167.0" y="19.7" width="1.0" height="1.0"/><rect x="176.4" y="15.7" width="1.0" height="1.0"/><rect x="171.8" y="15.9" width="1.0" height="1.0"/><rect x="177.5" y="13.3" width="1.0" height="1.0"/><rect x="170.0" y="18.4" width="1.0" height="1.0"/><rect x="174.3" y="24.6" width="1.0" height="1.0"/><rect x="174.5" y="15.7" width="1.0" height="1.0"/><rect x="176.6" y="18.6" width="1.0" height="1.0"/><rect x="175.1" y="17.8" width="1.0" height="1.0"/><rect x="175.0" y="14.5" width="1.0" height="1.0"/><rect x="168.8" y="18.4" width="1.0" height="1.0"/><rect x="170.0" y="21.5" width="1.0" height="1.0"/><rect x="182.8" y="19.7" width="1.0" height="1.0"/><rect x="176.1" y="18.8" width="1.0" height="1.0"/><rect x="170.2" y="15.4" width="1.0" height="1.0"/><rect x="175.1" y="13.5" width="1.0" height="1.0"/><rect x="175.1" y="17.6" width="1.0" height="1.0"/><rect x="177.1" y="17.6" width="1.0" height="1.0"/><rect x="174.0" y="16.5" width="1.0" height="1.0"/><rect x="166.8" y="19.2" width="1.0" height="1.0"/><rect x="177.6" y="20.5" width="1.0" height="1.0"/><rect x="178.8" y="14.0" width="1.0" height="1.0"/><rect x="170.7" y="21.3" width="1.0" height="1.0"/><rect x="174.1" y="26.0" width="1.0" height="1.0"/><rect x="174.1" y="13.7" width="1.0" height="1.0"/><rect x="172.9" y="23.3" width="1.0" height="1.0"/><rect x="166.7" y="20.7" width="1.0" height="1.0"/><rect x="169.6" y="24.3" width="1.0" height="1.0"/><rect x="171.4" y="15.9" width="1.0" height="1.0"/><rect x="166.5" y="18.1" width="1.0" height="1.0"/><rect x="163.3" y="19.7" width="1.0" height="1.0"/><rect x="182.9" y="16.2" width="1.0" height="1.0"/><rect x="172.0" y="15.3" width="1.0" height="1.0"/><rect x="175.0" y="16.6" width="1.0" height="1.0"/><rect x="171.6" y="23.1" width="1.0" height="1.0"/><rect x="175.1" y="15.3" width="1.0" height="1.0"/><rect x="180.0" y="16.5" width="1.0" height="1.0"/><rect x="176.2" y="18.2" width="1.0" height="1.0"/><rect x="179.3" y="18.8" width="1.0" height="1.0"/><rect x="173.1" y="20.7" width="1.0" height="1.0"/><rect x="172.5" y="19.1" width="1.0" height="1.0"/><rect x="179.9" y="13.5" width="1.0" height="1.0"/><rect x="169.5" y="18.3" width="1.0" height="1.0"/><rect x="173.0" y="22.5" width="1.0" height="1.0"/><rect x="169.3" y="26.5" width="1.0" height="1.0"/><rect x="180.1" y="15.3" width="1.0" height="1.0"/><rect x="174.5" y="17.1" width="1.0" height="1.0"/><rect x="177.2" y="19.4" width="1.0" height="1.0"/><rect x="177.6" y="19.6" width="1.0" height="1.0"/><rect x="181.7" y="15.7" width="1.0" height="1.0"/><rect x="176.7" y="17.0" width="1.0" height="1.0"/><rect x="174.3" y="18.9" width="1.0" height="1.0"/><rect x="174.1" y="19.3" width="1.0" height="1.0"/><rect x="170.4" y="18.8" width="1.0" height="1.0"/><rect x="170.7" y="15.7" width="1.0" height="1.0"/><rect x="170.8" y="17.7" width="1.0" height="1.0"/><rect x="172.2" y="14.1" width="1.0" height="1.0"/><rect x="172.1" y="15.4" width="1.0" height="1.0"/><rect x="170.8" y="19.7" width="1.0" height="1.0"/><rect x="178.7" y="17.9" width="1.0" height="1.0"/><rect x="171.7" y="17.6" width="1.0" height="1.0"/><rect x="178.2" y="12.3" width="1.0" height="1.0"/><rect x="177.5" y="12.8" width="1.0" height="1.0"/><rect x="171.5" y="19.1" width="1.0" height="1.0"/><rect x="174.4" y="23.2" width="1.0" height="1.0"/><rect x="176.0" y="17.6" width="1.0" height="1.0"/><rect x="177.9" y="17.4" width="1.0" height="1.0"/><rect x="171.6" y="22.4" width="1.0" height="1.0"/><rect x="181.1" y="20.3" width="1.0" height="1.0"/><rect x="170.7" y="25.0" width="1.0" height="1.0"/><rect x="172.9" y="20.9" width="1.0" height="1.0"/><rect x="180.6" y="23.7" width="1.0" height="1.0"/><rect x="166.7" y="17.2" width="1.0" height="1.0"/><rect x="179.2" y="18.4" width="1.0" height="1.0"/><rect x="170.5" y="10.4" width="1.0" height="1.0"/><rect x="175.7" y="17.3" width="1.0" height="1.0"/><rect x="165.4" y="28.7" width="1.0" height="1.0"/><rect x="163.4" y="19.4" width="1.0" height="1.0"/><rect x="174.2" y="19.0" width="1.0" height="1.0"/><rect x="176.9" y="16.7" width="1.0" height="1.0"/><rect x="170.1" y="18.3" width="1.0" height="1.0"/><rect x="164.6" y="17.4" width="1.0" height="1.0"/><rect x="181.5" y="14.2" width="1.0" height="1.0"/><rect x="175.1" y="23.8" width="1.0" height="1.0"/><rect x="178.4" y="17.5" width="1.0" height="1.0"/><rect x="176.8" y="16.7" width="1.0" height="1.0"/><rect x="171.1" y="22.1" width="1.0" height="1.0"/><rect x="175.8" y="22.7" width="1.0" height="1.0"/><rect x="172.6" y="17.5" width="1.0" height="1.0"/><rect x="175.3" y="17.4" width="1.0" height="1.0"/><rect x="172.1" y="16.1" width="1.0" height="1.0"/><rect x="175.3" y="18.9" width="1.0" height="1.0"/><rect x="181.4" y="16.2" width="1.0" height="1.0"/><rect x="167.2" y="21.5" width="1.0" height="1.0"/><rect x="183.0" y="14.6" width="1.0" height="1.0"/><rect x="170.6" y="18.7" width="1.0" height="1.0"/><rect x="162.1" y="20.5" width="1.0" height="1.0"/><rect x="172.1" y="14.2" width="1.0" height="1.0"/><rect x="175.7" y="15.2" width="1.0" height="1.0"/><rect x="165.9" y="18.3" width="1.0" height="1.0"/><rect x="178.0" y="23.1" width="1.0" height="1.0"/><rect x="179.2" y="17.5" width="1.0" height="1.0"/><rect x="171.7" y="18.1" width="1.0" height="1.0"/><rect x="177.5" y="15.8" width="1.0" height="1.0"/><rect x="176.4" y="20.6" width="1.0" height="1.0"/><rect x="169.9" y="17.6" width="1.0" height="1.0"/><rect x="175.8" y="17.8" width="1.0" height="1.0"/><rect x="173.1" y="16.9" width="1.0" height="1.0"/><rect x="175.2" y="23.6" width="1.0" height="1.0"/><rect x="178.3" y="12.2" width="1.0" height="1.0"/><rect x="174.3" y="18.5" width="1.0" height="1.0"/><rect x="173.1" y="14.3" width="1.0" height="1.0"/><rect x="173.6" y="18.9" width="1.0" height="1.0"/><rect x="171.5" y="19.9" width="1.0" height="1.0"/><rect x="162.9" y="16.7" width="1.0" height="1.0"/><rect x="174.7" y="19.3" width="1.0" height="1.0"/><rect x="173.0" y="17.2" width="1.0" height="1.0"/><rect x="175.6" y="21.2" width="1.0" height="1.0"/><rect x="177.6" y="17.1" width="1.0" height="1.0"/><rect x="172.9" y="21.8" width="1.0" height="1.0"/><rect x="176.9" y="20.2" width="1.0" height="1.0"/><rect x="172.2" y="16.2" width="1.0" height="1.0"/><rect x="174.3" y="16.3" width="1.0" height="1.0"/><rect x="179.3" y="19.5" width="1.0" height="1.0"/><rect x="165.6" y="22.6" width="1.0" height="1.0"/><rect x="180.2" y="19.8" width="1.0" height="1.0"/><rect x="171.4" y="16.4" width="1.0" height="1.0"/><rect x="178.7" y="20.1" width="1.0" height="1.0"/><rect x="173.4" y="15.0" width="1.0" height="1.0"/><rect x="168.0" y="20.7" width="1.0" height="1.0"/><rect x="170.1" y="17.3" width="1.0" height="1.0"/><rect x="176.6" y="20.8" width="1.0" height="1.0"/><rect x="165.1" y="18.7" width="1.0" height="1.0"/><rect x="179.3" y="16.8" width="1.0" height="1.0"/><rect x="173.1" y="20.5" width="1.0" height="1.0"/><rect x="168.4" y="16.1" width="1.0" height="1.0"/><rect x="175.3" y="22.7" width="1.0" height="1.0"/><rect x="178.1" y="17.2" width="1.0" height="1.0"/><rect x="177.8" y="16.0" width="1.0" height="1.0"/><rect x="167.9" y="14.8" width="1.0" height="1.0"/><rect x="175.8" y="20.6" width="1.0" height="1.0"/><rect x="175.5" y="17.8" width="1.0" height="1.0"/><rect x="173.2" y="21.8" width="1.0" height="1.0"/><rect x="172.7" y="14.3" width="1.0" height="1.0"/><rect x="179.1" y="15.0" width="1.0" height="1.0"/><rect x="175.6" y="17.9" width="1.0" height="1.0"/><rect x="178.5" y="17.9" width="1.0" height="1.0"/><rect x="179.2" y="17.6" width="1.0" height="1.0"/><rect x="171.7" y="17.4" width="1.0" height="1.0"/><rect x="176.0" y="15.2" width="1.0" height="1.0"/><rect x="177.6" y="16.6" width="1.0" height="1.0"/><rect x="169.6" y="16.8" width="1.0" height="1.0"/><rect x="174.8" y="23.5" width="1.0" height="1.0"/><rect x="177.2" y="17.5" width="1.0" height="1.0"/><rect x="171.8" y="24.7" width="1.0" height="1.0"/><rect x="172.9" y="18.6" width="1.0" height="1.0"/><rect x="173.3" y="22.5" width="1.0" height="1.0"/><rect x="174.4" y="16.8" width="1.0" height="1.0"/><rect x="174.0" y="15.3" width="1.0" height="1.0"/><rect x="169.6" y="19.0" width="1.0" height="1.0"/><rect x="163.2" y="24.8" width="1.0" height="1.0"/><rect x="181.3" y="13.0" width="1.0" height="1.0"/><rect x="172.2" y="14.0" width="1.0" height="1.0"/><rect x="174.9" y="18.7" width="1.0" height="1.0"/><rect x="176.0" y="13.7" width="1.0" height="1.0"/><rect x="171.1" y="17.1" width="1.0" height="1.0"/><rect x="174.7" y="25.1" width="1.0" height="1.0"/><rect x="173.2" y="18.4" width="1.0" height="1.0"/><rect x="172.5" y="21.1" width="1.0" height="1.0"/><rect x="185.3" y="18.8" width="1.0" height="1.0"/><rect x="179.4" y="13.6" width="1.0" height="1.0"/><rect x="178.3" y="17.2" width="1.0" height="1.0"/><rect x="179.9" y="19.9" width="1.0" height="1.0"/><rect x="175.4" y="12.8" width="1.0" height="1.0"/><rect x="174.2" y="16.7" width="1.0" height="1.0"/><rect x="175.9" y="17.9" width="1.0" height="1.0"/><rect x="177.1" y="12.6" width="1.0" height="1.0"/><rect x="170.9" y="18.9" width="1.0" height="1.0"/><rect x="175.0" y="16.8" width="1.0" height="1.0"/><rect x="173.9" y="18.5" width="1.0" height="1.0"/><rect x="178.2" y="16.8" width="1.0" height="1.0"/><rect x="173.6" y="12.9" width="1.0" height="1.0"/><rect x="162.2" y="17.0" width="1.0" height="1.0"/><rect x="173.7" y="11.4" width="1.0" height="1.0"/><rect x="175.6" y="17.6" width="1.0" height="1.0"/><rect x="173.5" y="16.2" width="1.0" height="1.0"/><rect x="172.9" y="21.1" width="1.0" height="1.0"/><rect x="175.4" y="17.8" width="1.0" height="1.0"/><rect x="172.2" y="19.4" width="1.0" height="1.0"/><rect x="178.8" y="16.9" width="1.0" height="1.0"/><rect x="171.6" y="15.3" width="1.0" height="1.0"/><rect x="173.7" y="15.6" width="1.0" height="1.0"/><rect x="168.8" y="22.3" width="1.0" height="1.0"/><rect x="169.9" y="13.2" width="1.0" height="1.0"/><rect x="172.5" y="24.3" width="1.0" height="1.0"/><rect x="172.6" y="14.6" width="1.0" height="1.0"/><rect x="170.0" y="21.6" width="1.0" height="1.0"/><rect x="175.8" y="18.5" width="1.0" height="1.0"/><rect x="173.6" y="19.9" width="1.0" height="1.0"/><rect x="180.7" y="18.0" width="1.0" height="1.0"/><rect x="172.3" y="14.5" width="1.0" height="1.0"/><rect x="177.0" y="22.3" width="1.0" height="1.0"/><rect x="175.7" y="14.0" width="1.0" height="1.0"/><rect x="175.7" y="21.8" width="1.0" height="1.0"/><rect x="171.8" y="20.4" width="1.0" height="1.0"/><rect x="180.2" y="21.6" width="1.0" height="1.0"/><rect x="166.2" y="15.1" width="1.0" height="1.0"/><rect x="176.1" y="19.9" width="1.0" height="1.0"/><rect x="172.5" y="18.6" width="1.0" height="1.0"/><rect x="173.2" y="22.2" width="1.0" height="1.0"/><rect x="165.1" y="21.4" width="1.0" height="1.0"/><rect x="168.3" y="17.8" width="1.0" height="1.0"/><rect x="167.0" y="17.4" width="1.0" height="1.0"/><rect x="173.9" y="18.4" width="1.0" height="1.0"/><rect x="181.1" y="15.7" width="1.0" height="1.0"/><rect x="175.7" y="18.9" width="1.0" height="1.0"/><rect x="176.2" y="22.2" width="1.0" height="1.0"/><rect x="174.7" y="18.6" width="1.0" height="1.0"/><rect x="173.5" y="18.4" width="1.0" height="1.0"/><rect x="174.5" y="21.2" width="1.0" height="1.0"/><rect x="174.1" y="18.5" width="1.0" height="1.0"/><rect x="174.4" y="20.5" width="1.0" height="1.0"/><rect x="172.8" y="21.5" width="1.0" height="1.0"/><rect x="172.2" y="20.9" width="1.0" height="1.0"/><rect x="182.0" y="16.9" width="1.0" height="1.0"/></g><rect x="154.3" y="3.3" width="52.5" height="53.5" fill="none" stroke="#111" stroke-width="1.5"/><g fill="#000" fill-opacity="0.45"><rect x="180.8" y="94.1" width="1.0" height="1.0"/><rect x="183.6" y="101.7" width="1.0" height="1.0"/><rect x="185.1" y="98.0" width="1.0" height="1.0"/><rect x="180.7" y="112.0" width="1.0" height="1.0"/><rect x="182.3" y="99.4" width="1.0" height="1.0"/><rect x="173.7" y="99.8" width="1.0" height="1.0"/><rect x="182.6" y="105.0" width="1.0" height="1.0"/><rect x="175.6" y="94.1" width="1.0" height="1.0"/><rect x="176.3" y="94.2" width="1.0" height="1.0"/><rect x="178.4" y="102.3" width="1.0" height="1.0"/><rect x="189.1" y="103.8" width="1.0" height="1.0"/><rect x="188.8" y="92.6" width="1.0" height="1.0"/><rect x="186.7" y="107.0" width="1.0" height="1.0"/><rect x="181.3" y="106.2" width="1.0" height="1.0"/><rect x="181.0" y="112.7" width="1.0" height="1.0"/><rect x="185.7" y="91.6" width="1.0" height="1.0"/><rect x="169.9" y="108.9" width="1.0" height="1.0"/><rect x="178.2" y="108.6" width="1.0" height="1.0"/><rect x="179.0" y="96.9" width="1.0" height="1.0"/><rect x="178.0" y="102.5" width="1.0" height="1.0"/><rect x="181.5" y="97.5" width="1.0" height="1.0"/><rect x="182.0" y="105.1" width="1.0" height="1.0"/><rect x="176.7" y="93.7" width="1.0" height="1.0"/><rect x="170.8" y="97.5" width="1.0" height="1.0"/><rect x="180.8" y="97.0" width="1.0" height="1.0"/><rect x="177.2" y="99.7" width="1.0" height="1.0"/><rect x="179.6" y="104.4" width="1.0" height="1.0"/><rect x="183.6" y="104.3" width="1.0" height="1.0"/><rect x="186.4" y="96.3" width="1.0" height="1.0"/><rect x="182.6" y="103.7" width="1.0" height="1.0"/><rect x="175.6" y="96.2" width="1.0" height="1.0"/><rect x="182.1" y="101.8" width="1.0" height="1.0"/><rect x="174.5" y="96.7" width="1.0" height="1.0"/><rect x="186.6" y="107.2" width="1.0" height="1.0"/><rect x="179.0" y="108.9" width="1.0" height="1.0"/><rect x="175.8" y="99.2" width="1.0" height="1.0"/><rect x="185.0" y="99.9" width="1.0" height="1.0"/><rect x="174.0" y="103.5" width="1.0" height="1.0"/><rect x="190.4" y="87.6" width="1.0" height="1.0"/><rect x="182.0" y="93.8" width="1.0" height="1.0"/><rect x="180.0" y="92.5" width="1.0" height="1.0"/><rect x="193.4" y="99.3" width="1.0" height="1.0"/><rect x="180.9" y="96.9" width="1.0" height="1.0"/><rect x="175.7" y="97.5" width="1.0" height="1.0"/><rect x="179.2" y="111.4" width="1.0" height="1.0"/></g><g fill="#000" fill-opacity="0.5"><rect x="180.5" y="103.9" width="1.0" height="1.0"/><rect x="178.6" y="96.5" width="1.0" height="1.0"/><rect x="182.1" y="90.0" width="1.0" height="1.0"/><rect x="191.7" y="98.6" width="1.0" height="1.0"/><rect x="183.0" y="93.9" width="1.0" height="1.0"/><rect x="181.2" y="92.1" width="1.0" height="1.0"/><rect x="184.7" y="96.0" width="1.0" height="1.0"/><rect x="180.9" y="97.7" width="1.0" height="1.0"/><rect x="178.0" y="97.1" width="1.0" height="1.0"/><rect x="180.5" y="98.8" width="1.0" height="1.0"/><rect x="180.4" y="96.9" width="1.0" height="1.0"/><rect x="181.8" y="101.5" width="1.0" height="1.0"/><rect x="178.5" y="100.7" width="1.0" height="1.0"/><rect x="179.1" y="95.5" width="1.0" height="1.0"/><rect x="181.7" y="97.7" width="1.0" height="1.0"/><rect x="176.0" y="91.0" width="1.0" height="1.0"/><rect x="179.9" y="100.8" width="1.0" height="1.0"/><rect x="177.9" y="103.0" width="1.0" height="1.0"/><rect x="176.6" y="96.0" width="1.0" height="1.0"/><rect x="182.9" y="97.5" width="1.0" height="1.0"/><rect x="181.1" y="101.2" width="1.0" height="1.0"/><rect x="178.7" y="99.0" width="1.0" height="1.0"/><rect x="184.6" y="96.8" width="1.0" height="1.0"/><rect x="176.7" y="90.2" width="1.0" height="1.0"/><rect x="180.4" y="91.8" width="1.0" height="1.0"/><rect x="183.6" y="93.9" width="1.0" height="1.0"/><rect x="187.5" y="101.2" width="1.0" height="1.0"/><rect x="178.3" y="94.8" width="1.0" height="1.0"/><rect x="184.8" y="101.0" width="1.0" height="1.0"/><rect x="177.6" y="100.7" width="1.0" height="1.0"/><rect x="177.7" y="106.2" width="1.0" height="1.0"/><rect x="179.3" y="99.2" width="1.0" height="1.0"/><rect x="183.5" y="95.5" width="1.0" height="1.0"/><rect x="179.8" y="101.9" width="1.0" height="1.0"/><rect x="182.9" y="97.1" width="1.0" height="1.0"/><rect x="180.7" y="104.8" width="1.0" height="1.0"/><rect x="183.4" y="99.7" width="1.0" height="1.0"/><rect x="184.2" y="90.5" width="1.0" height="1.0"/><rect x="182.4" y="95.0" width="1.0" height="1.0"/><rect x="184.2" y="94.9" width="1.0" height="1.0"/><rect x="183.9" y="92.8" width="1.0" height="1.0"/><rect x="184.7" y="94.5" width="1.0" height="1.0"/><rect x="180.8" y="99.5" width="1.0" height="1.0"/><rect x="180.6" y="96.8" width="1.0" height="1.0"/><rect x="182.3" y="105.4" width="1.0" height="1.0"/><rect x="177.7" y="91.8" width="1.0" height="1.0"/><rect x="182.2" y="101.5" width="1.0" height="1.0"/><rect x="180.1" y="97.1" width="1.0" height="1.0"/><rect x="178.4" y="106.6" width="1.0" height="1.0"/><rect x="182.3" y="91.7" width="1.0" height="1.0"/><rect x="178.8" y="90.4" width="1.0" height="1.0"/><rect x="185.4" y="96.3" width="1.0" height="1.0"/><rect x="186.0" y="101.1" width="1.0" height="1.0"/><rect x="181.8" y="100.0" width="1.0" height="1.0"/><rect x="182.6" y="101.5" width="1.0" height="1.0"/><rect x="179.5" y="93.9" width="1.0" height="1.0"/><rect x="179.9" y="97.1" width="1.0" height="1.0"/><rect x="182.2" y="91.5" width="1.0" height="1.0"/><rect x="177.6" y="104.2" width="1.0" height="1.0"/><rect x="188.2" y="94.8" width="1.0" height="1.0"/><rect x="182.6" y="97.1" width="1.0" height="1.0"/><rect x="178.4" y="99.5" width="1.0" height="1.0"/><rect x="179.4" y="104.1" width="1.0" height="1.0"/><rect x="183.1" y="96.0" width="1.0" height="1.0"/><rect x="174.5" y="94.7" width="1.0" height="1.0"/><rect x="184.6" y="94.5" width="1.0" height="1.0"/><rect x="183.1" y="100.6" width="1.0" height="1.0"/><rect x="177.0" y="94.9" width="1.0" height="1.0"/><rect x="181.5" y="100.5" width="1.0" height="1.0"/><rect x="181.9" y="97.0" width="1.0" height="1.0"/><rect x="180.9" y="95.5" width="1.0" height="1.0"/><rect x="182.7" y="92.4" width="1.0" height="1.0"/><rect x="183.6" y="96.1" width="1.0" height="1.0"/><rect x="183.5" y="95.2" width="1.0" height="1.0"/><rect x="182.5" y="97.8" width="1.0" height="1.0"/><rect x="183.4" y="99.6" width="1.0" height="1.0"/><rect x="184.2" y="97.0" width="1.0" height="1.0"/><rect x="181.7" y="95.8" width="1.0" height="1.0"/><rect x="178.3" y="95.6" width="1.0" height="1.0"/><rect x="183.5" y="101.1" width="1.0" height="1.0"/><rect x="178.9" y="97.7" width="1.0" height="1.0"/><rect x="185.1" y="91.7" width="1.0" height="1.0"/><rect x="182.1" y="98.7" width="1.0" height="1.0"/><rect x="183.2" y="98.6" width="1.0" height="1.0"/><rect x="179.2" y="87.1" width="1.0" height="1.0"/><rect x="187.3" y="96.7" width="1.0" height="1.0"/><rect x="183.4" y="103.3" width="1.0" height="1.0"/><rect x="183.0" y="92.2" width="1.0" height="1.0"/><rect x="185.2" y="97.8" width="1.0" height="1.0"/><rect x="182.3" y="99.4" width="1.0" height="1.0"/><rect x="182.9" y="102.0" width="1.0" height="1.0"/><rect x="179.3" y="89.9" width="1.0" height="1.0"/><rect x="181.9" y="97.1" width="1.0" height="1.0"/><rect x="183.7" y="97.0" width="1.0" height="1.0"/><rect x="178.7" y="105.6" width="1.0" height="1.0"/><rect x="183.8" y="103.0" width="1.0" height="1.0"/><rect x="185.2" y="94.4" width="1.0" height="1.0"/><rect x="181.4" y="96.6" width="1.0" height="1.0"/><rect x="179.6" y="92.5" width="1.0" height="1.0"/><rect x="183.3" y="91.9" width="1.0" height="1.0"/><rect x="182.4" y="99.4" width="1.0" height="1.0"/><rect x="181.3" y="95.4" width="1.0" height="1.0"/><rect x="182.6" y="99.5" width="1.0" height="1.0"/><rect x="183.9" y="92.0" width="1.0" height="1.0"/><rect x="174.8" y="104.6" width="1.0" height="1.0"/><rect x="180.2" y="95.0" width="1.0" height="1.0"/><rect x="177.5" y="92.3" width="1.0" height="1.0"/><rect x="178.6" y="99.9" width="1.0" height="1.0"/><rect x="176.0" y="89.1" width="1.0" height="1.0"/><rect x="181.0" y="94.6" width="1.0" height="1.0"/><rect x="179.9" y="94.6" width="1.0" height="1.0"/><rect x="177.0" y="97.0" width="1.0" height="1.0"/><rect x="184.5" y="98.5" width="1.0" height="1.0"/><rect x="178.6" y="102.0" width="1.0" height="1.0"/><rect x="184.0" y="92.9" width="1.0" height="1.0"/><rect x="180.7" y="94.0" width="1.0" height="1.0"/><rect x="180.0" y="102.2" width="1.0" height="1.0"/><rect x="179.8" y="95.9" width="1.0" height="1.0"/><rect x="183.2" y="92.0" width="1.0" height="1.0"/><rect x="179.5" y="99.3" width="1.0" height="1.0"/><rect x="186.7" y="89.8" width="1.0" height="1.0"/><rect x="183.7" y="96.3" width="1.0" height="1.0"/><rect x="184.2" y="100.6" width="1.0" height="1.0"/><rect x="186.4" y="99.7" width="1.0" height="1.0"/><rect x="181.4" y="93.2" width="1.0" height="1.0"/><rect x="177.0" y="98.3" width="1.0" height="1.0"/><rect x="181.9" y="100.9" width="1.0" height="1.0"/><rect x="184.2" y="90.9" width="1.0" height="1.0"/><rect x="180.7" y="95.7" width="1.0" height="1.0"/><rect x="181.0" y="100.4" width="1.0" height="1.0"/><rect x="185.0" y="99.2" width="1.0" height="1.0"/><rect x="177.2" y="91.2" width="1.0" height="1.0"/><rect x="176.7" y="92.2" width="1.0" height="1.0"/><rect x="178.0" y="97.2" width="1.0" height="1.0"/><rect x="179.6" y="101.6" width="1.0" height="1.0"/><rect x="184.9" y="95.8" width="1.0" height="1.0"/><rect x="184.0" y="97.7" width="1.0" height="1.0"/><rect x="181.2" y="103.1" width="1.0" height="1.0"/><rect x="178.5" y="95.9" width="1.0" height="1.0"/><rect x="186.5" y="94.8" width="1.0" height="1.0"/></g><g fill="#000" fill-opacity="0.7"><rect x="184.9" y="88.2" width="1.0" height="1.0"/><rect x="185.3" y="81.9" width="1.0" height="1.0"/><rect x="184.1" y="83.0" width="1.0" height="1.0"/><rect x="187.0" y="89.5" width="1.0" height="1.0"/><rect x="188.0" y="83.5" width="1.0" height="1.0"/><rect x="185.6" y="88.5" width="1.0" height="1.0"/><rect x="188.3" y="85.6" width="1.0" height="1.0"/><rect x="184.6" y="93.7" width="1.0" height="1.0"/><rect x="190.5" y="85.5" width="1.0" height="1.0"/><rect x="183.7" y="80.6" width="1.0" height="1.0"/><rect x="186.1" y="90.8" width="1.0" height="1.0"/><rect x="186.6" y="84.4" width="1.0" height="1.0"/><rect x="185.4" y="95.0" width="1.0" height="1.0"/><rect x="184.6" y="87.0" width="1.0" height="1.0"/><rect x="186.9" y="90.6" width="1.0" height="1.0"/><rect x="188.6" y="87.2" width="1.0" height="1.0"/><rect x="185.9" y="86.5" width="1.0" height="1.0"/><rect x="183.4" y="85.8" width="1.0" height="1.0"/><rect x="183.0" y="89.2" width="1.0" height="1.0"/><rect x="183.6" y="87.5" width="1.0" height="1.0"/><rect x="184.2" y="81.9" width="1.0" height="1.0"/><rect x="189.6" y="85.0" width="1.0" height="1.0"/><rect x="187.9" y="92.9" width="1.0" height="1.0"/><rect x="179.5" y="82.8" width="1.0" height="1.0"/><rect x="183.4" y="87.2" width="1.0" height="1.0"/><rect x="184.9" y="84.9" width="1.0" height="1.0"/><rect x="187.9" y="88.2" width="1.0" height="1.0"/><rect x="188.0" y="85.7" width="1.0" height="1.0"/><rect x="180.8" y="92.1" width="1.0" height="1.0"/><rect x="185.4" y="82.9" width="1.0" height="1.0"/><rect x="182.5" y="91.5" width="1.0" height="1.0"/><rect x="185.1" y="84.5" width="1.0" height="1.0"/><rect x="184.7" y="92.0" width="1.0" height="1.0"/><rect x="184.4" y="86.0" width="1.0" height="1.0"/><rect x="179.7" y="97.8" width="1.0" height="1.0"/><rect x="181.5" y="94.2" width="1.0" height="1.0"/><rect x="183.5" y="89.0" width="1.0" height="1.0"/><rect x="179.0" y="86.3" width="1.0" height="1.0"/><rect x="185.1" y="86.3" width="1.0" height="1.0"/><rect x="185.4" y="81.7" width="1.0" height="1.0"/><rect x="180.4" y="86.8" width="1.0" height="1.0"/><rect x="183.0" y="86.5" width="1.0" height="1.0"/><rect x="184.8" y="85.3" width="1.0" height="1.0"/><rect x="179.9" y="94.2" width="1.0" height="1.0"/><rect x="182.4" y="84.4" width="1.0" height="1.0"/><rect x="185.4" y="82.7" width="1.0" height="1.0"/><rect x="180.8" y="90.0" width="1.0" height="1.0"/><rect x="186.7" y="88.9" width="1.0" height="1.0"/><rect x="191.7" y="93.8" width="1.0" height="1.0"/><rect x="188.9" y="85.4" width="1.0" height="1.0"/><rect x="184.9" y="95.2" width="1.0" height="1.0"/><rect x="180.9" y="94.3" width="1.0" height="1.0"/><rect x="184.0" y="82.3" width="1.0" height="1.0"/><rect x="185.5" y="84.3" width="1.0" height="1.0"/><rect x="187.7" y="83.7" width="1.0" height="1.0"/><rect x="187.5" y="79.9" width="1.0" height="1.0"/><rect x="182.9" y="91.6" width="1.0" height="1.0"/><rect x="183.4" y="88.5" width="1.0" height="1.0"/><rect x="188.9" y="84.2" width="1.0" height="1.0"/><rect x="181.1" y="86.6" width="1.0" height="1.0"/><rect x="185.6" y="86.7" width="1.0" height="1.0"/><rect x="180.2" y="91.4" width="1.0" height="1.0"/><rect x="181.9" y="85.4" width="1.0" height="1.0"/><rect x="183.4" y="90.3" width="1.0" height="1.0"/><rect x="184.5" y="83.8" width="1.0" height="1.0"/><rect x="191.0" y="86.1" width="1.0" height="1.0"/><rect x="186.8" y="87.7" width="1.0" height="1.0"/><rect x="183.3" y="86.9" width="1.0" height="1.0"/><rect x="183.4" y="88.5" width="1.0" height="1.0"/><rect x="177.9" y="85.0" width="1.0" height="1.0"/><rect x="186.1" y="83.7" width="1.0" height="1.0"/><rect x="180.1" y="96.4" width="1.0" height="1.0"/><rect x="188.4" y="91.8" width="1.0" height="1.0"/><rect x="185.6" y="86.5" width="1.0" height="1.0"/><rect x="188.8" y="87.1" width="1.0" height="1.0"/><rect x="181.4" y="89.5" width="1.0" height="1.0"/><rect x="183.1" y="83.5" width="1.0" height="1.0"/><rect x="190.6" y="82.5" width="1.0" height="1.0"/><rect x="184.2" y="87.9" width="1.0" height="1.0"/><rect x="187.3" y="82.0" width="1.0" height="1.0"/><rect x="184.4" y="86.0" width="1.0" height="1.0"/><rect x="188.1" y="93.3" width="1.0" height="1.0"/><rect x="181.3" y="90.2" width="1.0" height="1.0"/><rect x="186.4" y="87.7" width="1.0" height="1.0"/><rect x="184.3" y="86.2" width="1.0" height="1.0"/><rect x="181.4" y="83.6" width="1.0" height="1.0"/><rect x="184.9" y="94.1" width="1.0" height="1.0"/><rect x="189.9" y="87.8" width="1.0" height="1.0"/><rect x="189.6" y="78.6" width="1.0" height="1.0"/><rect x="185.6" y="82.3" width="1.0" height="1.0"/><rect x="189.0" y="81.7" width="1.0" height="1.0"/><rect x="183.4" y="82.2" width="1.0" height="1.0"/><rect x="184.3" y="91.2" width="1.0" height="1.0"/><rect x="179.5" y="93.7" width="1.0" height="1.0"/><rect x="186.1" y="84.4" width="1.0" height="1.0"/><rect x="185.4" y="87.8" width="1.0" height="1.0"/><rect x="186.2" y="89.7" width="1.0" height="1.0"/><rect x="188.5" y="94.2" width="1.0" height="1.0"/><rect x="181.7" y="90.0" width="1.0" height="1.0"/><rect x="187.9" y="84.3" width="1.0" height="1.0"/><rect x="183.7" y="83.6" width="1.0" height="1.0"/><rect x="177.2" y="87.7" width="1.0" height="1.0"/><rect x="182.2" y="92.2" width="1.0" height="1.0"/><rect x="183.0" y="87.3" width="1.0" height="1.0"/><rect x="185.0" y="92.0" width="1.0" height="1.0"/><rect x="186.8" y="83.7" width="1.0" height="1.0"/><rect x="189.0" y="93.0" width="1.0" height="1.0"/><rect x="185.7" y="95.2" width="1.0" height="1.0"/><rect x="187.6" y="90.5" width="1.0" height="1.0"/><rect x="184.8" y="90.4" width="1.0" height="1.0"/><rect x="179.4" y="89.3" width="1.0" height="1.0"/><rect x="181.4" y="88.3" width="1.0" height="1.0"/><rect x="180.9" y="89.4" width="1.0" height="1.0"/><rect x="179.7" y="96.9" width="1.0" height="1.0"/><rect x="184.3" y="89.7" width="1.0" height="1.0"/><rect x="182.6" y="85.5" width="1.0" height="1.0"/><rect x="184.8" y="86.3" width="1.0" height="1.0"/><rect x="184.6" y="83.6" width="1.0" height="1.0"/><rect x="187.0" y="86.7" width="1.0" height="1.0"/><rect x="181.9" y="88.2" width="1.0" height="1.0"/><rect x="182.7" y="86.1" width="1.0" height="1.0"/><rect x="184.5" y="83.4" width="1.0" height="1.0"/><rect x="185.1" y="84.1" width="1.0" height="1.0"/><rect x="180.8" y="87.7" width="1.0" height="1.0"/><rect x="185.8" y="81.5" width="1.0" height="1.0"/><rect x="183.2" y="87.9" width="1.0" height="1.0"/><rect x="185.1" y="89.4" width="1.0" height="1.0"/><rect x="184.3" y="90.1" width="1.0" height="1.0"/><rect x="184.4" y="83.9" width="1.0" height="1.0"/><rect x="186.7" y="86.5" width="1.0" height="1.0"/><rect x="183.6" y="90.1" width="1.0" height="1.0"/><rect x="185.2" y="93.2" width="1.0" height="1.0"/><rect x="183.3" y="85.4" width="1.0" height="1.0"/><rect x="188.0" y="82.4" width="1.0" height="1.0"/><rect x="180.4" y="88.7" width="1.0" height="1.0"/><rect x="184.2" y="83.3" width="1.0" height="1.0"/><rect x="185.8" y="90.4" width="1.0" height="1.0"/><rect x="187.4" y="87.1" width="1.0" height="1.0"/><rect x="184.3" y="85.9" width="1.0" height="1.0"/><rect x="188.2" y="79.8" width="1.0" height="1.0"/><rect x="181.7" y="89.6" width="1.0" height="1.0"/><rect x="182.6" y="86.5" width="1.0" height="1.0"/><rect x="184.1" y="89.7" width="1.0" height="1.0"/><rect x="184.9" y="82.6" width="1.0" height="1.0"/><rect x="192.0" y="87.0" width="1.0" height="1.0"/><rect x="191.5" y="82.2" width="1.0" height="1.0"/><rect x="185.1" y="86.8" width="1.0" height="1.0"/><rect x="186.5" y="97.3" width="1.0" height="1.0"/><rect x="188.5" y="84.4" width="1.0" height="1.0"/><rect x="183.5" y="83.8" width="1.0" height="1.0"/><rect x="182.8" y="88.1" width="1.0" height="1.0"/><rect x="182.8" y="85.8" width="1.0" height="1.0"/><rect x="186.3" y="94.6" width="1.0" height="1.0"/><rect x="181.1" y="82.0" width="1.0" height="1.0"/><rect x="181.7" y="92.3" width="1.0" height="1.0"/><rect x="180.9" y="94.7" width="1.0" height="1.0"/><rect x="183.4" y="93.5" width="1.0" height="1.0"/><rect x="182.7" y="85.5" width="1.0" height="1.0"/><rect x="186.3" y="90.7" width="1.0" height="1.0"/><rect x="180.1" y="84.7" width="1.0" height="1.0"/><rect x="184.1" y="90.2" width="1.0" height="1.0"/><rect x="180.4" y="93.8" width="1.0" height="1.0"/><rect x="182.8" y="93.3" width="1.0" height="1.0"/><rect x="185.4" y="88.2" width="1.0" height="1.0"/><rect x="185.4" y="82.6" width="1.0" height="1.0"/><rect x="185.7" y="91.3" width="1.0" height="1.0"/><rect x="187.5" y="86.9" width="1.0" height="1.0"/><rect x="182.5" y="85.1" width="1.0" height="1.0"/><rect x="183.7" y="87.2" width="1.0" height="1.0"/><rect x="188.4" y="84.9" width="1.0" height="1.0"/><rect x="182.3" y="89.8" width="1.0" height="1.0"/><rect x="183.7" y="97.0" width="1.0" height="1.0"/><rect x="187.1" y="84.7" width="1.0" height="1.0"/><rect x="183.0" y="83.4" width="1.0" height="1.0"/><rect x="184.3" y="88.6" width="1.0" height="1.0"/><rect x="185.2" y="85.0" width="1.0" height="1.0"/><rect x="184.2" y="87.0" width="1.0" height="1.0"/><rect x="185.9" y="88.4" width="1.0" height="1.0"/><rect x="184.1" y="82.2" width="1.0" height="1.0"/><rect x="188.5" y="88.6" width="1.0" height="1.0"/><rect x="184.1" y="87.3" width="1.0" height="1.0"/><rect x="187.9" y="87.4" width="1.0" height="1.0"/><rect x="185.3" y="86.8" width="1.0" height="1.0"/><rect x="187.5" y="84.1" width="1.0" height="1.0"/><rect x="183.6" y="91.7" width="1.0" height="1.0"/><rect x="186.7" y="91.0" width="1.0" height="1.0"/><rect x="183.0" y="94.0" width="1.0" height="1.0"/><rect x="184.4" y="93.7" width="1.0" height="1.0"/><rect x="183.0" y="82.1" width="1.0" height="1.0"/><rect x="187.0" y="87.2" width="1.0" height="1.0"/><rect x="184.8" y="83.4" width="1.0" height="1.0"/><rect x="190.1" y="84.2" width="1.0" height="1.0"/><rect x="186.8" y="82.2" width="1.0" height="1.0"/><rect x="180.9" y="96.1" width="1.0" height="1.0"/><rect x="191.5" y="87.9" width="1.0" height="1.0"/><rect x="179.6" y="92.9" width="1.0" height="1.0"/><rect x="184.9" y="79.7" width="1.0" height="1.0"/><rect x="187.0" y="83.6" width="1.0" height="1.0"/><rect x="179.2" y="90.6" width="1.0" height="1.0"/><rect x="184.2" y="82.7" width="1.0" height="1.0"/><rect x="185.2" y="86.9" width="1.0" height="1.0"/><rect x="187.3" y="88.9" width="1.0" height="1.0"/><rect x="187.0" y="93.5" width="1.0" height="1.0"/><rect x="187.5" y="93.6" width="1.0" height="1.0"/><rect x="183.9" y="89.7" width="1.0" height="1.0"/><rect x="186.8" y="81.5" width="1.0" height="1.0"/><rect x="180.4" y="89.3" width="1.0" height="1.0"/><rect x="179.6" y="82.1" width="1.0" height="1.0"/><rect x="181.3" y="86.1" width="1.0" height="1.0"/><rect x="181.5" y="87.5" width="1.0" height="1.0"/><rect x="184.7" y="85.5" width="1.0" height="1.0"/><rect x="185.5" y="78.0" width="1.0" height="1.0"/><rect x="186.6" y="82.5" width="1.0" height="1.0"/><rect x="183.2" y="88.7" width="1.0" height="1.0"/><rect x="186.2" y="91.3" width="1.0" height="1.0"/><rect x="190.4" y="83.4" width="1.0" height="1.0"/><rect x="184.0" y="94.3" width="1.0" height="1.0"/><rect x="187.1" y="83.6" width="1.0" height="1.0"/><rect x="186.3" y="85.9" width="1.0" height="1.0"/><rect x="181.4" y="91.1" width="1.0" height="1.0"/><rect x="185.7" y="83.0" width="1.0" height="1.0"/><rect x="180.0" y="94.6" width="1.0" height="1.0"/><rect x="181.4" y="89.4" width="1.0" height="1.0"/><rect x="183.3" y="92.3" width="1.0" height="1.0"/><rect x="185.2" y="83.6" width="1.0" height="1.0"/><rect x="184.4" y="82.9" width="1.0" height="1.0"/><rect x="190.9" y="90.7" width="1.0" height="1.0"/><rect x="181.9" y="92.1" width="1.0" height="1.0"/><rect x="186.5" y="87.4" width="1.0" height="1.0"/><rect x="185.8" y="89.2" width="1.0" height="1.0"/><rect x="185.1" y="95.0" width="1.0" height="1.0"/><rect x="183.8" y="87.1" width="1.0" height="1.0"/><rect x="182.3" y="92.1" width="1.0" height="1.0"/><rect x="184.4" y="90.9" width="1.0" height="1.0"/><rect x="187.8" y="85.9" width="1.0" height="1.0"/><rect x="182.9" y="93.1" width="1.0" height="1.0"/><rect x="185.8" y="91.6" width="1.0" height="1.0"/><rect x="184.3" y="85.9" width="1.0" height="1.0"/><rect x="182.7" y="85.7" width="1.0" height="1.0"/><rect x="186.4" y="81.9" width="1.0" height="1.0"/><rect x="188.6" y="85.6" width="1.0" height="1.0"/><rect x="184.3" y="90.1" width="1.0" height="1.0"/><rect x="185.7" y="79.9" width="1.0" height="1.0"/><rect x="186.4" y="90.0" width="1.0" height="1.0"/><rect x="182.3" y="91.7" width="1.0" height="1.0"/><rect x="188.2" y="84.6" width="1.0" height="1.0"/><rect x="186.8" y="80.6" width="1.0" height="1.0"/><rect x="181.9" y="92.8" width="1.0" height="1.0"/><rect x="181.2" y="90.0" width="1.0" height="1.0"/><rect x="181.1" y="85.0" width="1.0" height="1.0"/><rect x="184.5" y="95.1" width="1.0" height="1.0"/><rect x="184.6" y="90.9" width="1.0" height="1.0"/><rect x="192.4" y="79.6" width="1.0" height="1.0"/><rect x="177.5" y="93.3" width="1.0" height="1.0"/><rect x="190.0" y="92.2" width="1.0" height="1.0"/><rect x="184.3" y="88.6" width="1.0" height="1.0"/><rect x="185.5" y="85.2" width="1.0" height="1.0"/><rect x="184.7" y="87.0" width="1.0" height="1.0"/><rect x="185.3" y="90.8" width="1.0" height="1.0"/><rect x="186.2" y="90.7" width="1.0" height="1.0"/><rect x="180.1" y="92.1" width="1.0" height="1.0"/><rect x="177.5" y="85.5" width="1.0" height="1.0"/><rect x="186.1" y="85.8" width="1.0" height="1.0"/><rect x="190.9" y="85.0" width="1.0" height="1.0"/><rect x="182.3" y="84.5" width="1.0" height="1.0"/><rect x="184.5" y="91.0" width="1.0" height="1.0"/><rect x="183.9" y="90.2" width="1.0" height="1.0"/><rect x="183.6" y="84.5" width="1.0" height="1.0"/><rect x="186.8" y="82.4" width="1.0" height="1.0"/><rect x="185.6" y="86.2" width="1.0" height="1.0"/><rect x="187.7" y="84.2" width="1.0" height="1.0"/><rect x="184.0" y="84.8" width="1.0" height="1.0"/><rect x="185.0" y="83.3" width="1.0" height="1.0"/><rect x="185.8" y="82.0" width="1.0" height="1.0"/><rect x="185.0" y="90.7" width="1.0" height="1.0"/><rect x="184.8" y="86.8" width="1.0" height="1.0"/><rect x="183.6" y="82.9" width="1.0" height="1.0"/><rect x="185.3" y="83.8" width="1.0" height="1.0"/><rect x="181.3" y="87.1" width="1.0" height="1.0"/><rect x="185.1" y="85.9" width="1.0" height="1.0"/><rect x="182.5" y="86.6" width="1.0" height="1.0"/><rect x="183.4" y="85.2" width="1.0" height="1.0"/><rect x="184.0" y="90.5" width="1.0" height="1.0"/><rect x="187.3" y="85.9" width="1.0" height="1.0"/><rect x="189.3" y="84.1" width="1.0" height="1.0"/><rect x="182.2" y="92.5" width="1.0" height="1.0"/><rect x="190.4" y="90.2" width="1.0" height="1.0"/><rect x="184.2" y="85.7" width="1.0" height="1.0"/><rect x="181.6" y="85.8" width="1.0" height="1.0"/><rect x="184.5" y="84.2" width="1.0" height="1.0"/><rect x="188.7" y="85.6" width="1.0" height="1.0"/><rect x="187.7" y="92.4" width="1.0" height="1.0"/><rect x="187.0" y="85.8" width="1.0" height="1.0"/><rect x="186.1" y="79.3" width="1.0" height="1.0"/><rect x="185.6" y="86.7" width="1.0" height="1.0"/><rect x="186.5" y="85.3" width="1.0" height="1.0"/><rect x="187.9" y="82.1" width="1.0" height="1.0"/><rect x="178.3" y="87.3" width="1.0" height="1.0"/><rect x="191.8" y="76.2" width="1.0" height="1.0"/><rect x="188.3" y="87.4" width="1.0" height="1.0"/><rect x="186.3" y="81.4" width="1.0" height="1.0"/><rect x="181.0" y="89.4" width="1.0" height="1.0"/><rect x="182.7" y="86.7" width="1.0" height="1.0"/><rect x="181.3" y="95.1" width="1.0" height="1.0"/><rect x="188.7" y="83.2" width="1.0" height="1.0"/><rect x="184.9" y="82.6" width="1.0" height="1.0"/><rect x="182.0" y="83.6" width="1.0" height="1.0"/><rect x="187.3" y="88.7" width="1.0" height="1.0"/><rect x="186.4" y="87.6" width="1.0" height="1.0"/><rect x="183.3" y="87.5" width="1.0" height="1.0"/><rect x="181.6" y="95.0" width="1.0" height="1.0"/><rect x="188.6" y="90.7" width="1.0" height="1.0"/><rect x="188.9" y="80.3" width="1.0" height="1.0"/><rect x="180.8" y="96.7" width="1.0" height="1.0"/><rect x="181.3" y="90.0" width="1.0" height="1.0"/><rect x="188.2" y="87.1" width="1.0" height="1.0"/><rect x="184.6" y="85.5" width="1.0" height="1.0"/><rect x="186.5" y="88.3" width="1.0" height="1.0"/><rect x="186.7" y="93.5" width="1.0" height="1.0"/><rect x="180.8" y="97.7" width="1.0" height="1.0"/><rect x="184.6" y="84.9" width="1.0" height="1.0"/><rect x="185.2" y="83.9" width="1.0" height="1.0"/><rect x="183.6" y="86.9" width="1.0" height="1.0"/><rect x="189.0" y="82.2" width="1.0" height="1.0"/><rect x="182.1" y="83.2" width="1.0" height="1.0"/><rect x="183.1" y="89.0" width="1.0" height="1.0"/><rect x="180.4" y="92.7" width="1.0" height="1.0"/><rect x="183.5" y="86.2" width="1.0" height="1.0"/><rect x="183.0" y="92.1" width="1.0" height="1.0"/><rect x="185.3" y="87.9" width="1.0" height="1.0"/><rect x="182.9" y="87.7" width="1.0" height="1.0"/><rect x="186.1" y="86.5" width="1.0" height="1.0"/><rect x="187.1" y="80.3" width="1.0" height="1.0"/><rect x="181.5" y="91.7" width="1.0" height="1.0"/><rect x="188.2" y="88.5" width="1.0" height="1.0"/><rect x="176.4" y="92.7" width="1.0" height="1.0"/><rect x="180.4" y="97.4" width="1.0" height="1.0"/><rect x="182.1" y="91.1" width="1.0" height="1.0"/><rect x="181.0" y="92.3" width="1.0" height="1.0"/><rect x="189.0" y="84.4" width="1.0" height="1.0"/><rect x="183.7" y="99.9" width="1.0" height="1.0"/><rect x="185.7" y="82.6" width="1.0" height="1.0"/><rect x="185.8" y="86.2" width="1.0" height="1.0"/><rect x="182.2" y="82.0" width="1.0" height="1.0"/><rect x="187.3" y="81.8" width="1.0" height="1.0"/><rect x="186.6" y="90.3" width="1.0" height="1.0"/><rect x="182.1" y="92.8" width="1.0" height="1.0"/><rect x="181.2" y="89.3" width="1.0" height="1.0"/><rect x="181.6" y="85.0" width="1.0" height="1.0"/><rect x="186.9" y="86.0" width="1.0" height="1.0"/><rect x="183.3" y="90.0" width="1.0" height="1.0"/><rect x="186.5" y="94.0" width="1.0" height="1.0"/><rect x="186.1" y="86.9" width="1.0" height="1.0"/><rect x="178.4" y="92.9" width="1.0" height="1.0"/><rect x="192.4" y="80.8" width="1.0" height="1.0"/><rect x="186.8" y="88.2" width="1.0" height="1.0"/><rect x="185.9" y="89.4" width="1.0" height="1.0"/><rect x="184.0" y="87.3" width="1.0" height="1.0"/><rect x="182.8" y="92.0" width="1.0" height="1.0"/><rect x="184.6" y="85.1" width="1.0" height="1.0"/><rect x="185.3" y="90.6" width="1.0" height="1.0"/><rect x="185.2" y="89.0" width="1.0" height="1.0"/><rect x="186.7" y="93.2" width="1.0" height="1.0"/><rect x="185.4" y="86.9" width="1.0" height="1.0"/><rect x="188.9" y="80.8" width="1.0" height="1.0"/><rect x="184.2" y="84.3" width="1.0" height="1.0"/><rect x="185.5" y="86.2" width="1.0" height="1.0"/><rect x="189.7" y="92.7" width="1.0" height="1.0"/><rect x="182.3" y="96.7" width="1.0" height="1.0"/><rect x="185.0" y="86.3" width="1.0" height="1.0"/><rect x="186.5" y="91.9" width="1.0" height="1.0"/><rect x="185.1" y="93.1" width="1.0" height="1.0"/><rect x="184.5" y="84.6" width="1.0" height="1.0"/><rect x="182.6" y="87.3" width="1.0" height="1.0"/><rect x="188.6" y="84.3" width="1.0" height="1.0"/><rect x="185.1" y="81.8" width="1.0" height="1.0"/><rect x="188.4" y="92.5" width="1.0" height="1.0"/><rect x="186.8" y="82.9" width="1.0" height="1.0"/><rect x="182.8" y="84.0" width="1.0" height="1.0"/><rect x="186.4" y="82.6" width="1.0" height="1.0"/><rect x="182.2" y="92.1" width="1.0" height="1.0"/><rect x="184.4" y="87.9" width="1.0" height="1.0"/><rect x="179.6" y="84.5" width="1.0" height="1.0"/><rect x="185.1" y="84.7" width="1.0" height="1.0"/><rect x="181.1" y="86.0" width="1.0" height="1.0"/><rect x="182.7" y="84.4" width="1.0" height="1.0"/><rect x="180.6" y="85.7" width="1.0" height="1.0"/><rect x="188.0" y="85.0" width="1.0" height="1.0"/><rect x="187.5" y="81.8" width="1.0" height="1.0"/><rect x="185.2" y="90.2" width="1.0" height="1.0"/><rect x="182.3" y="90.6" width="1.0" height="1.0"/><rect x="182.2" y="86.9" width="1.0" height="1.0"/><rect x="188.8" y="89.0" width="1.0" height="1.0"/><rect x="180.0" y="91.0" width="1.0" height="1.0"/><rect x="186.3" y="86.9" width="1.0" height="1.0"/><rect x="182.6" y="78.4" width="1.0" height="1.0"/><rect x="178.6" y="92.0" width="1.0" height="1.0"/><rect x="186.5" y="84.4" width="1.0" height="1.0"/><rect x="185.3" y="94.3" width="1.0" height="1.0"/><rect x="181.7" y="88.6" width="1.0" height="1.0"/><rect x="179.8" y="87.5" width="1.0" height="1.0"/><rect x="191.1" y="83.6" width="1.0" height="1.0"/><rect x="185.6" y="85.1" width="1.0" height="1.0"/><rect x="184.2" y="87.8" width="1.0" height="1.0"/><rect x="184.0" y="91.3" width="1.0" height="1.0"/><rect x="184.3" y="92.1" width="1.0" height="1.0"/><rect x="185.5" y="92.8" width="1.0" height="1.0"/><rect x="182.2" y="88.5" width="1.0" height="1.0"/><rect x="184.8" y="83.9" width="1.0" height="1.0"/><rect x="189.0" y="90.5" width="1.0" height="1.0"/><rect x="187.7" y="79.3" width="1.0" height="1.0"/><rect x="182.8" y="90.3" width="1.0" height="1.0"/><rect x="184.8" y="85.2" width="1.0" height="1.0"/><rect x="188.7" y="87.6" width="1.0" height="1.0"/><rect x="183.8" y="86.8" width="1.0" height="1.0"/><rect x="182.4" y="91.4" width="1.0" height="1.0"/><rect x="186.1" y="87.8" width="1.0" height="1.0"/><rect x="183.9" y="86.3" width="1.0" height="1.0"/><rect x="189.2" y="87.9" width="1.0" height="1.0"/><rect x="188.4" y="81.9" width="1.0" height="1.0"/><rect x="184.3" y="90.5" width="1.0" height="1.0"/><rect x="187.3" y="89.9" width="1.0" height="1.0"/><rect x="185.5" y="89.3" width="1.0" height="1.0"/><rect x="184.3" y="96.6" width="1.0" height="1.0"/><rect x="186.2" y="84.5" width="1.0" height="1.0"/><rect x="186.2" y="87.6" width="1.0" height="1.0"/><rect x="185.0" y="91.2" width="1.0" height="1.0"/><rect x="185.5" y="85.9" width="1.0" height="1.0"/><rect x="187.1" y="82.9" width="1.0" height="1.0"/><rect x="186.5" y="84.3" width="1.0" height="1.0"/><rect x="185.5" y="88.4" width="1.0" height="1.0"/><rect x="185.7" y="82.6" width="1.0" height="1.0"/><rect x="185.6" y="84.9" width="1.0" height="1.0"/><rect x="183.2" y="90.1" width="1.0" height="1.0"/><rect x="188.8" y="83.3" width="1.0" height="1.0"/><rect x="184.9" y="93.7" width="1.0" height="1.0"/><rect x="187.0" y="89.6" width="1.0" height="1.0"/><rect x="181.8" y="94.3" width="1.0" height="1.0"/><rect x="185.9" y="81.2" width="1.0" height="1.0"/><rect x="184.3" y="88.7" width="1.0" height="1.0"/><rect x="183.7" y="81.8" width="1.0" height="1.0"/><rect x="189.4" y="89.8" width="1.0" height="1.0"/><rect x="187.3" y="85.9" width="1.0" height="1.0"/><rect x="181.0" y="85.4" width="1.0" height="1.0"/><rect x="188.9" y="86.1" width="1.0" height="1.0"/><rect x="180.3" y="85.2" width="1.0" height="1.0"/><rect x="183.8" y="87.3" width="1.0" height="1.0"/><rect x="182.3" y="85.3" width="1.0" height="1.0"/><rect x="181.9" y="90.5" width="1.0" height="1.0"/><rect x="183.7" y="91.1" width="1.0" height="1.0"/><rect x="187.5" y="79.1" width="1.0" height="1.0"/><rect x="178.8" y="87.8" width="1.0" height="1.0"/><rect x="185.5" y="91.8" width="1.0" height="1.0"/><rect x="186.9" y="80.4" width="1.0" height="1.0"/><rect x="182.7" y="88.7" width="1.0" height="1.0"/><rect x="188.5" y="87.4" width="1.0" height="1.0"/><rect x="184.2" y="83.9" width="1.0" height="1.0"/><rect x="185.8" y="91.9" width="1.0" height="1.0"/><rect x="178.2" y="90.6" width="1.0" height="1.0"/><rect x="184.3" y="80.9" width="1.0" height="1.0"/><rect x="181.6" y="83.2" width="1.0" height="1.0"/><rect x="186.7" y="99.7" width="1.0" height="1.0"/><rect x="182.4" y="83.7" width="1.0" height="1.0"/><rect x="184.3" y="89.3" width="1.0" height="1.0"/><rect x="185.6" y="80.8" width="1.0" height="1.0"/><rect x="184.5" y="84.4" width="1.0" height="1.0"/><rect x="179.8" y="86.4" width="1.0" height="1.0"/><rect x="183.3" y="79.3" width="1.0" height="1.0"/><rect x="187.0" y="92.6" width="1.0" height="1.0"/><rect x="188.0" y="89.3" width="1.0" height="1.0"/><rect x="183.6" y="86.8" width="1.0" height="1.0"/><rect x="180.0" y="89.2" width="1.0" height="1.0"/><rect x="185.6" y="86.6" width="1.0" height="1.0"/><rect x="180.0" y="85.4" width="1.0" height="1.0"/><rect x="186.5" y="94.7" width="1.0" height="1.0"/><rect x="187.2" y="86.9" width="1.0" height="1.0"/><rect x="184.1" y="89.8" width="1.0" height="1.0"/><rect x="183.5" y="91.8" width="1.0" height="1.0"/><rect x="186.2" y="77.7" width="1.0" height="1.0"/><rect x="179.7" y="81.7" width="1.0" height="1.0"/><rect x="180.1" y="88.9" width="1.0" height="1.0"/><rect x="187.2" y="88.5" width="1.0" height="1.0"/><rect x="185.8" y="88.3" width="1.0" height="1.0"/><rect x="185.6" y="85.8" width="1.0" height="1.0"/><rect x="181.8" y="91.8" width="1.0" height="1.0"/><rect x="183.9" y="87.1" width="1.0" height="1.0"/><rect x="186.1" y="92.5" width="1.0" height="1.0"/><rect x="183.2" y="88.2" width="1.0" height="1.0"/><rect x="181.8" y="87.1" width="1.0" height="1.0"/><rect x="185.3" y="87.8" width="1.0" height="1.0"/><rect x="184.4" y="89.1" width="1.0" height="1.0"/><rect x="179.3" y="81.9" width="1.0" height="1.0"/><rect x="185.4" y="85.6" width="1.0" height="1.0"/><rect x="182.4" y="85.7" width="1.0" height="1.0"/><rect x="188.9" y="88.1" width="1.0" height="1.0"/><rect x="183.6" y="85.0" width="1.0" height="1.0"/><rect x="180.8" y="88.3" width="1.0" height="1.0"/><rect x="180.7" y="90.2" width="1.0" height="1.0"/><rect x="186.0" y="90.6" width="1.0" height="1.0"/><rect x="187.3" y="88.1" width="1.0" height="1.0"/><rect x="180.2" y="85.6" width="1.0" height="1.0"/><rect x="188.4" y="82.0" width="1.0" height="1.0"/><rect x="179.9" y="90.7" width="1.0" height="1.0"/><rect x="183.7" y="93.2" width="1.0" height="1.0"/><rect x="186.1" y="88.4" width="1.0" height="1.0"/><rect x="184.4" y="91.3" width="1.0" height="1.0"/><rect x="184.8" y="86.7" width="1.0" height="1.0"/><rect x="185.8" y="86.6" width="1.0" height="1.0"/><rect x="191.7" y="86.7" width="1.0" height="1.0"/><rect x="182.6" y="81.0" width="1.0" height="1.0"/><rect x="187.8" y="86.9" width="1.0" height="1.0"/><rect x="185.2" y="86.8" width="1.0" height="1.0"/><rect x="187.3" y="82.0" width="1.0" height="1.0"/><rect x="185.6" y="85.3" width="1.0" height="1.0"/><rect x="186.4" y="91.0" width="1.0" height="1.0"/><rect x="182.7" y="82.5" width="1.0" height="1.0"/><rect x="184.2" y="92.8" width="1.0" height="1.0"/><rect x="186.7" y="87.6" width="1.0" height="1.0"/><rect x="190.7" y="79.2" width="1.0" height="1.0"/><rect x="184.6" y="83.2" width="1.0" height="1.0"/></g><rect x="154.2" y="62.3" width="53" height="53.3" fill="none" stroke="#111" stroke-width="1.5"/><line x1="142.8" y1="3" x2="142.8" y2="42.7" stroke="#111" stroke-width="1.2"/><line x1="142.8" y1="77.9" x2="142.8" y2="116.2" stroke="#111" stroke-width="1.2"/><g transform="translate(148.63,75.49) rotate(-90) scale(0.973,1.078)"><text x="0" y="0" font-family="Liberation Serif" font-weight="bold" font-size="13" fill="#111" stroke="#111" stroke-width="0.3">CD44</text></g><g transform="translate(167.81,129.65) scale(0.988,1.011)"><text x="0" y="0" font-family="Liberation Serif" font-weight="bold" font-size="13" fill="#111" stroke="#111" stroke-width="0.3">CD5</text></g><polygon points="243.5,56.4 243.5,56.4 244.5,50.0 245.3,44.5 246.2,50.0 247.6,40.0 249.0,47.0 250.0,44.0 251.4,35.4 252.8,42.0 254.0,38.0 255.2,31.6 256.7,36.0 258.3,24.0 259.8,31.0 261.0,28.0 262.5,13.3 264.0,24.0 265.6,15.6 266.8,26.0 268.2,30.0 269.3,35.9 270.4,38.4 271.5,42.7 272.7,44.5 273.7,47.2 274.8,49.6 275.8,52.1 277.3,55.2 278.5,56.4 278.5,56.4" fill="#868686"/><polyline points="222.4,44.7 223.5,38.1 224.6,33.4 225.7,36.3 226.8,36.6 227.9,30.1 229.0,23.6 230.1,19.1 231.2,16.3 232.3,16.0 233.4,22.5 234.5,27.3 235.6,31.8 236.7,35.3 237.8,39.7 238.9,42.2 240.0,46.3 241.1,48.8 242.2,51.6 243.3,54.0 244.4,56.1 245.0,56.7" fill="none" stroke="#0a0a0a" stroke-width="1.6" stroke-dasharray="3 0.9 1.6 1.1 2.2 0.8" stroke-linejoin="round"/><polyline points="221.8,11.5 221.8,56.6 292.5,56.6" fill="none" stroke="#2a2a2a" stroke-width="1.3"/><polygon points="235.6,115.6 235.6,115.6 236.7,115.2 237.8,114.8 238.9,114.6 240.0,114.0 241.0,113.4 242.0,112.0 243.0,111.0 244.0,108.0 245.1,105.8 246.2,101.6 247.3,98.4 248.4,96.3 249.4,89.9 250.5,85.6 251.6,83.0 252.6,78.1 253.7,82.3 254.8,75.4 255.8,78.5 256.9,74.5 257.8,72.5 259.0,73.2 260.7,74.9 262.2,81.3 263.3,91.5 264.4,94.1 265.9,104.8 267.6,113.3 268.6,115.6 268.6,115.6" fill="#868686"/><polyline points="222.4,106.4 223.5,102.2 224.6,98.6 225.7,96.5 226.8,94.8 227.9,94.0 229.0,88.8 230.1,84.0 231.2,81.0 232.3,76.2 233.4,80.1 234.5,85.5 235.6,89.8 236.7,95.3 237.8,98.1 238.9,101.4 240.0,105.2 241.1,108.3 242.2,109.6 243.3,113.0 244.4,114.6 245.0,115.4" fill="none" stroke="#0a0a0a" stroke-width="1.6" stroke-dasharray="3 0.9 1.6 1.1 2.2 0.8" stroke-linejoin="round"/><polyline points="221.7,70.7 221.7,115.8 292.7,115.8" fill="none" stroke="#2a2a2a" stroke-width="1.3"/><polygon points="303.0,56.5 303.0,56.5 304.0,55.7 305.0,54.8 306.0,54.0 307.0,53.0 308.0,52.0 309.0,50.9 310.0,49.0 311.0,49.0 312.0,47.5 313.0,46.9 314.0,45.0 315.0,45.8 316.0,42.0 317.5,38.0 318.3,31.0 319.5,27.8 320.8,31.0 322.5,21.7 323.6,30.0 324.8,20.2 326.0,30.0 327.5,17.1 328.6,29.0 329.8,18.7 331.5,30.0 333.2,13.3 334.3,24.0 335.4,23.2 336.5,28.0 337.7,32.4 338.9,38.1 340.0,41.5 341.1,47.6 342.3,50.6 343.8,54.4 345.0,56.5 345.0,56.5" fill="#868686"/><polyline points="296.0,43.4 297.1,40.5 298.2,37.4 299.3,35.1 300.4,34.1 301.5,30.5 302.6,23.3 303.7,19.0 304.8,17.8 305.9,17.4 307.0,19.2 308.1,21.5 309.2,24.1 310.3,27.2 311.4,29.7 312.5,34.3 313.6,37.6 314.7,40.7 315.8,45.4 316.9,48.4 318.0,52.2 319.1,54.6 319.6,56.2" fill="none" stroke="#0a0a0a" stroke-width="1.6" stroke-dasharray="3 0.9 1.6 1.1 2.2 0.8" stroke-linejoin="round"/><polyline points="296,11.9 296,56.8 367.8,56.8" fill="none" stroke="#2a2a2a" stroke-width="1.3"/><polygon points="296.5,115.0 296.5,115.0 296.8,112.3 297.7,111.3 298.7,110.1 299.6,109.0 300.6,106.3 301.7,102.7 302.8,101.7 303.9,96.3 304.8,94.7 305.7,90.6 306.6,87.7 307.9,89.2 309.2,80.3 310.2,78.3 311.3,76.0 312.4,80.2 313.5,81.3 314.6,87.2 315.6,89.9 316.6,97.8 317.7,99.5 318.8,104.0 319.9,108.0 320.9,110.7 322.0,112.3 323.1,113.6 324.1,114.4 325.0,115.0 325.0,115.0" fill="#868686"/><polyline points="296.8,113.0 297.9,111.4 299.0,109.1 300.1,107.5 301.2,103.8 302.3,100.4 303.4,97.4 304.5,94.7 305.6,91.0 306.7,86.9 307.8,84.0 308.9,80.5 310.0,79.3 311.1,76.8 312.2,78.1 313.3,81.5 314.4,85.7 315.5,89.1 316.6,94.1 317.7,99.1 318.8,103.9 319.9,108.1 321.0,110.3 322.1,112.8 323.2,113.5 324.1,114.1" fill="none" stroke="#0a0a0a" stroke-width="1.6" stroke-dasharray="3 0.9 1.6 1.1 2.2 0.8" stroke-linejoin="round"/><polyline points="296,70.7 296,115 367.2,115" fill="none" stroke="#2a2a2a" stroke-width="1.3"/><polygon points="372.3,55.8 372.3,55.8 373.2,54.8 374.1,53.5 375.1,53.0 376.0,51.3 377.0,50.3 378.0,49.1 379.0,48.8 380.0,47.0 381.1,45.9 382.2,44.3 383.3,43.0 384.6,43.2 386.0,39.4 386.9,39.4 387.9,36.6 388.9,40.9 390.0,40.0 391.0,40.1 392.0,36.0 393.5,38.0 395.2,32.0 396.5,30.0 397.4,31.4 398.3,22.5 399.5,27.0 400.5,23.0 401.6,19.0 402.5,21.0 404.1,14.8 405.3,17.0 406.4,15.6 407.5,19.0 409.0,22.5 410.2,27.8 411.2,33.9 412.3,34.9 413.3,38.4 414.4,44.4 415.5,47.6 416.6,51.6 417.8,53.7 419.0,55.8 419.0,55.8" fill="#868686"/><polyline points="372.3,55.3 373.4,53.6 374.5,52.1 375.6,52.0 376.7,49.3 377.8,49.1 378.9,47.3 380.0,45.1 381.1,43.2 382.2,39.7 383.3,36.9 384.4,33.1 385.5,28.9 386.6,24.5 387.7,21.2 388.8,17.3 389.9,13.9 391.0,15.5 392.1,19.8 393.2,27.6 394.3,36.1 395.4,43.2 396.5,49.7 397.6,54.4 398.5,55.5" fill="none" stroke="#0a0a0a" stroke-width="1.6" stroke-dasharray="3 0.9 1.6 1.1 2.2 0.8" stroke-linejoin="round"/><polyline points="371.8,11.3 371.8,55.8 442.8,55.8" fill="none" stroke="#2a2a2a" stroke-width="1.3"/><polygon points="371.6,115.0 371.6,115.0 372.0,113.0 372.6,104.0 373.5,100.0 375.0,96.0 376.5,92.0 378.0,88.0 379.5,82.0 381.0,78.0 382.0,76.3 383.2,80.0 384.2,78.0 385.8,77.0 387.0,83.0 388.2,88.0 389.5,93.0 391.0,100.0 392.5,105.0 394.0,109.0 395.0,110.9 396.0,112.0 397.0,113.1 398.0,113.8 399.0,114.2 400.0,114.5 400.0,115.0 400.0,115.0" fill="#868686"/><polyline points="372.0,113.4 373.1,102.3 374.2,97.9 375.3,95.5 376.4,91.9 377.5,88.6 378.6,85.9 379.7,81.9 380.8,78.3 381.9,77.2 383.0,79.7 384.1,77.9 385.2,77.7 386.3,80.0 387.4,84.2 388.5,89.7 389.6,93.4 390.7,98.3 391.8,102.5 392.9,106.1 394.0,109.0 395.1,110.4 396.2,111.6 397.3,113.4 398.4,114.2 399.5,114.6 400.0,114.4" fill="none" stroke="#0a0a0a" stroke-width="1.6" stroke-dasharray="3 0.9 1.6 1.1 2.2 0.8" stroke-linejoin="round"/><polyline points="371.4,70.7 371.4,115 442.2,115" fill="none" stroke="#2a2a2a" stroke-width="1.3"/><polygon points="465.6,56.4 465.6,56.4 466.2,45.0 467.0,38.0 468.1,33.9 469.0,28.0 469.6,23.2 470.4,16.4 471.3,22.0 472.0,18.0 472.7,16.4 473.6,22.0 474.5,20.0 475.4,17.9 476.3,26.0 477.2,31.0 478.0,29.3 479.0,34.0 480.3,30.9 481.5,38.0 482.4,39.7 483.3,35.4 484.6,41.0 486.4,39.2 487.8,45.0 489.4,44.6 490.8,49.0 492.5,47.6 494.0,51.5 495.5,49.2 496.4,51.1 497.3,53.0 498.3,52.0 499.3,50.7 500.8,54.0 502.4,52.2 503.4,53.4 504.3,54.5 505.2,53.7 506.2,52.2 507.1,53.9 508.0,55.0 509.0,54.4 510.0,53.7 511.0,56.4 511.0,56.4" fill="#868686"/><polyline points="445.9,11.9 445.9,56.4 516.9,56.4" fill="none" stroke="#2a2a2a" stroke-width="1.3"/><polygon points="461.8,114.8 461.8,114.8 463.0,109.0 464.5,96.3 465.6,85.6 466.7,79.2 467.7,74.9 468.8,81.3 469.9,92.0 470.9,100.5 472.0,105.9 473.1,108.6 474.1,110.1 475.2,110.8 476.2,111.6 477.3,112.3 478.4,112.8 479.4,113.3 480.5,113.8 482.0,114.8 482.0,114.8" fill="#868686"/><polyline points="444.7,70.2 444.7,114.8 515.7,114.8" fill="none" stroke="#2a2a2a" stroke-width="1.3"/><g transform="translate(241.41,129.76) scale(0.989,0.978)"><text x="0" y="0" font-family="Liberation Serif" font-weight="bold" font-size="13" fill="#111" stroke="#111" stroke-width="0.3">CD34</text></g><g transform="translate(315.31,129.55) scale(0.981,1.000)"><text x="0" y="0" font-family="Liberation Serif" font-weight="bold" font-size="13" fill="#111" stroke="#111" stroke-width="0.3">CD33</text></g><g transform="translate(370.90,129.25) scale(1.009,0.989)"><text x="0" y="0" font-family="Liberation Serif" font-weight="bold" font-size="13" fill="#111" stroke="#111" stroke-width="0.3">GM-CSFRα</text></g><g transform="translate(473.50,129.06) scale(1.017,0.967)"><text x="0" y="0" font-family="Liberation Serif" font-weight="bold" font-size="13" fill="#111" stroke="#111" stroke-width="0.3">FS</text></g><polyline points="35.7,196.2 35.7,290.6 152.3,290.6" fill="none" stroke="#222" stroke-width="1.3"/><line x1="32.900000000000006" y1="290.6" x2="35.7" y2="290.6" stroke="#222" stroke-width="1.1"/><line x1="32.900000000000006" y1="281.1" x2="35.7" y2="281.1" stroke="#222" stroke-width="1.1"/><line x1="32.900000000000006" y1="271.6" x2="35.7" y2="271.6" stroke="#222" stroke-width="1.1"/><line x1="32.900000000000006" y1="262.2" x2="35.7" y2="262.2" stroke="#222" stroke-width="1.1"/><line x1="32.900000000000006" y1="252.7" x2="35.7" y2="252.7" stroke="#222" stroke-width="1.1"/><line x1="32.900000000000006" y1="243.2" x2="35.7" y2="243.2" stroke="#222" stroke-width="1.1"/><line x1="32.900000000000006" y1="233.7" x2="35.7" y2="233.7" stroke="#222" stroke-width="1.1"/><line x1="32.900000000000006" y1="224.3" x2="35.7" y2="224.3" stroke="#222" stroke-width="1.1"/><line x1="32.900000000000006" y1="214.8" x2="35.7" y2="214.8" stroke="#222" stroke-width="1.1"/><line x1="32.900000000000006" y1="205.3" x2="35.7" y2="205.3" stroke="#222" stroke-width="1.1"/><line x1="32.900000000000006" y1="195.8" x2="35.7" y2="195.8" stroke="#222" stroke-width="1.1"/><text transform="translate(30.5,209.6) scale(1,1.08)" text-anchor="end" font-family="Liberation Serif" font-weight="bold" font-size="12" fill="#111" stroke="#111" stroke-width="0.2">90</text><text transform="translate(30.5,238.0) scale(1,1.08)" text-anchor="end" font-family="Liberation Serif" font-weight="bold" font-size="12" fill="#111" stroke="#111" stroke-width="0.2">60</text><text transform="translate(30.5,266.5) scale(1,1.08)" text-anchor="end" font-family="Liberation Serif" font-weight="bold" font-size="12" fill="#111" stroke="#111" stroke-width="0.2">30</text><text transform="translate(30.5,294.9) scale(1,1.08)" text-anchor="end" font-family="Liberation Serif" font-weight="bold" font-size="12" fill="#111" stroke="#111" stroke-width="0.2">0</text><line x1="35.7" y1="290.6" x2="35.7" y2="293.6" stroke="#222" stroke-width="1.1"/><text transform="translate(35.0,305.0) scale(1,1.08)" text-anchor="middle" font-family="Liberation Serif" font-weight="bold" font-size="12" fill="#111" stroke="#111" stroke-width="0.2">0</text><line x1="47.4" y1="290.6" x2="47.4" y2="293.6" stroke="#222" stroke-width="1.1"/><line x1="59.0" y1="290.6" x2="59.0" y2="293.6" stroke="#222" stroke-width="1.1"/><text transform="translate(58.3,305.0) scale(1,1.08)" text-anchor="middle" font-family="Liberation Serif" font-weight="bold" font-size="12" fill="#111" stroke="#111" stroke-width="0.2">2</text><line x1="70.7" y1="290.6" x2="70.7" y2="293.6" stroke="#222" stroke-width="1.1"/><line x1="82.3" y1="290.6" x2="82.3" y2="293.6" stroke="#222" stroke-width="1.1"/><text transform="translate(81.6,305.0) scale(1,1.08)" text-anchor="middle" font-family="Liberation Serif" font-weight="bold" font-size="12" fill="#111" stroke="#111" stroke-width="0.2">4</text><line x1="94.0" y1="290.6" x2="94.0" y2="293.6" stroke="#222" stroke-width="1.1"/><line x1="105.7" y1="290.6" x2="105.7" y2="293.6" stroke="#222" stroke-width="1.1"/><text transform="translate(105.0,305.0) scale(1,1.08)" text-anchor="middle" font-family="Liberation Serif" font-weight="bold" font-size="12" fill="#111" stroke="#111" stroke-width="0.2">6</text><line x1="117.3" y1="290.6" x2="117.3" y2="293.6" stroke="#222" stroke-width="1.1"/><line x1="129.0" y1="290.6" x2="129.0" y2="293.6" stroke="#222" stroke-width="1.1"/><text transform="translate(128.3,305.0) scale(1,1.08)" text-anchor="middle" font-family="Liberation Serif" font-weight="bold" font-size="12" fill="#111" stroke="#111" stroke-width="0.2">8</text><line x1="140.6" y1="290.6" x2="140.6" y2="293.6" stroke="#222" stroke-width="1.1"/><line x1="152.3" y1="290.6" x2="152.3" y2="293.6" stroke="#222" stroke-width="1.1"/><text transform="translate(151.6,305.0) scale(1,1.08)" text-anchor="middle" font-family="Liberation Serif" font-weight="bold" font-size="12" fill="#111" stroke="#111" stroke-width="0.2">10</text><polyline points="35.7,281.0 70.7,267.6 117.2,231.6 152.3,207.8" fill="none" stroke="#111" stroke-width="1.25"/><polyline points="35.7,281.0 70.7,284.3 117.2,277.9 152.3,255.0" fill="none" stroke="#111" stroke-width="1.25"/><polygon points="35.7,277.7 38.8,283.6 32.6,283.6" fill="#111"/><polygon points="70.7,264.3 73.8,270.2 67.6,270.2" fill="#111"/><polygon points="117.2,228.3 120.3,234.2 114.1,234.2" fill="#111"/><polygon points="152.3,204.5 155.4,210.4 149.2,210.4" fill="#111"/><circle cx="35.7" cy="281.0" r="2.6" fill="#111"/><circle cx="70.7" cy="284.3" r="2.6" fill="#111"/><circle cx="117.2" cy="277.9" r="2.6" fill="#111"/><circle cx="152.3" cy="255.0" r="2.6" fill="#111"/><polyline points="214.7,196 214.7,290.1 334.4,290.1" fill="none" stroke="#222" stroke-width="1.3"/><line x1="211.89999999999998" y1="196.0" x2="214.7" y2="196.0" stroke="#222" stroke-width="1.1"/><line x1="211.89999999999998" y1="243.1" x2="214.7" y2="243.1" stroke="#222" stroke-width="1.1"/><line x1="211.89999999999998" y1="290.1" x2="214.7" y2="290.1" stroke="#222" stroke-width="1.1"/><text transform="translate(209.5,200.3) scale(1,1.08)" text-anchor="end" font-family="Liberation Serif" font-weight="bold" font-size="12" fill="#111" stroke="#111" stroke-width="0.2">20</text><text transform="translate(209.5,247.4) scale(1,1.08)" text-anchor="end" font-family="Liberation Serif" font-weight="bold" font-size="12" fill="#111" stroke="#111" stroke-width="0.2">10</text><text transform="translate(209.5,294.4) scale(1,1.08)" text-anchor="end" font-family="Liberation Serif" font-weight="bold" font-size="12" fill="#111" stroke="#111" stroke-width="0.2">0</text><line x1="214.7" y1="290.1" x2="214.7" y2="293.1" stroke="#222" stroke-width="1.1"/><text transform="translate(214.0,305.0) scale(1,1.08)" text-anchor="middle" font-family="Liberation Serif" font-weight="bold" font-size="12" fill="#111" stroke="#111" stroke-width="0.2">0</text><line x1="226.7" y1="290.1" x2="226.7" y2="293.1" stroke="#222" stroke-width="1.1"/><line x1="238.6" y1="290.1" x2="238.6" y2="293.1" stroke="#222" stroke-width="1.1"/><text transform="translate(237.9,305.0) scale(1,1.08)" text-anchor="middle" font-family="Liberation Serif" font-weight="bold" font-size="12" fill="#111" stroke="#111" stroke-width="0.2">2</text><line x1="250.6" y1="290.1" x2="250.6" y2="293.1" stroke="#222" stroke-width="1.1"/><line x1="262.6" y1="290.1" x2="262.6" y2="293.1" stroke="#222" stroke-width="1.1"/><text transform="translate(261.9,305.0) scale(1,1.08)" text-anchor="middle" font-family="Liberation Serif" font-weight="bold" font-size="12" fill="#111" stroke="#111" stroke-width="0.2">4</text><line x1="274.5" y1="290.1" x2="274.5" y2="293.1" stroke="#222" stroke-width="1.1"/><line x1="286.5" y1="290.1" x2="286.5" y2="293.1" stroke="#222" stroke-width="1.1"/><text transform="translate(285.8,305.0) scale(1,1.08)" text-anchor="middle" font-family="Liberation Serif" font-weight="bold" font-size="12" fill="#111" stroke="#111" stroke-width="0.2">6</text><line x1="298.5" y1="290.1" x2="298.5" y2="293.1" stroke="#222" stroke-width="1.1"/><line x1="310.5" y1="290.1" x2="310.5" y2="293.1" stroke="#222" stroke-width="1.1"/><text transform="translate(309.8,305.0) scale(1,1.08)" text-anchor="middle" font-family="Liberation Serif" font-weight="bold" font-size="12" fill="#111" stroke="#111" stroke-width="0.2">8</text><line x1="322.4" y1="290.1" x2="322.4" y2="293.1" stroke="#222" stroke-width="1.1"/><line x1="334.4" y1="290.1" x2="334.4" y2="293.1" stroke="#222" stroke-width="1.1"/><text transform="translate(333.7,305.0) scale(1,1.08)" text-anchor="middle" font-family="Liberation Serif" font-weight="bold" font-size="12" fill="#111" stroke="#111" stroke-width="0.2">10</text><polyline points="214.7,290.1 251.2,231.2 298.3,207.2 334.4,240.8" fill="none" stroke="#111" stroke-width="1.25"/><polyline points="214.7,290.1 251.2,289.4 298.3,288.5 334.4,288.2" fill="none" stroke="#111" stroke-width="1.25"/><polygon points="214.7,286.8 217.8,292.7 211.6,292.7" fill="#111"/><polygon points="251.2,227.9 254.3,233.8 248.1,233.8" fill="#111"/><polygon points="298.3,203.9 301.4,209.8 295.2,209.8" fill="#111"/><polygon points="334.4,237.5 337.5,243.4 331.3,243.4" fill="#111"/><circle cx="214.7" cy="290.1" r="2.6" fill="#111"/><circle cx="251.2" cy="289.4" r="2.6" fill="#111"/><circle cx="298.3" cy="288.5" r="2.6" fill="#111"/><circle cx="334.4" cy="288.2" r="2.6" fill="#111"/><polyline points="394.8,195.8 394.8,290.2 509.3,290.2" fill="none" stroke="#222" stroke-width="1.3"/><line x1="392.0" y1="290.2" x2="394.8" y2="290.2" stroke="#222" stroke-width="1.1"/><line x1="392.0" y1="280.8" x2="394.8" y2="280.8" stroke="#222" stroke-width="1.1"/><line x1="392.0" y1="271.3" x2="394.8" y2="271.3" stroke="#222" stroke-width="1.1"/><line x1="392.0" y1="261.9" x2="394.8" y2="261.9" stroke="#222" stroke-width="1.1"/><line x1="392.0" y1="252.5" x2="394.8" y2="252.5" stroke="#222" stroke-width="1.1"/><line x1="392.0" y1="243.0" x2="394.8" y2="243.0" stroke="#222" stroke-width="1.1"/><line x1="392.0" y1="233.6" x2="394.8" y2="233.6" stroke="#222" stroke-width="1.1"/><line x1="392.0" y1="224.2" x2="394.8" y2="224.2" stroke="#222" stroke-width="1.1"/><line x1="392.0" y1="214.7" x2="394.8" y2="214.7" stroke="#222" stroke-width="1.1"/><line x1="392.0" y1="205.3" x2="394.8" y2="205.3" stroke="#222" stroke-width="1.1"/><line x1="392.0" y1="195.9" x2="394.8" y2="195.9" stroke="#222" stroke-width="1.1"/><text transform="translate(389.6,209.6) scale(1,1.08)" text-anchor="end" font-family="Liberation Serif" font-weight="bold" font-size="12" fill="#111" stroke="#111" stroke-width="0.2">90</text><text transform="translate(389.6,237.9) scale(1,1.08)" text-anchor="end" font-family="Liberation Serif" font-weight="bold" font-size="12" fill="#111" stroke="#111" stroke-width="0.2">60</text><text transform="translate(389.6,266.2) scale(1,1.08)" text-anchor="end" font-family="Liberation Serif" font-weight="bold" font-size="12" fill="#111" stroke="#111" stroke-width="0.2">30</text><text transform="translate(389.6,294.5) scale(1,1.08)" text-anchor="end" font-family="Liberation Serif" font-weight="bold" font-size="12" fill="#111" stroke="#111" stroke-width="0.2">0</text><line x1="394.8" y1="290.2" x2="394.8" y2="293.2" stroke="#222" stroke-width="1.1"/><text transform="translate(394.1,305.0) scale(1,1.08)" text-anchor="middle" font-family="Liberation Serif" font-weight="bold" font-size="12" fill="#111" stroke="#111" stroke-width="0.2">0</text><line x1="406.2" y1="290.2" x2="406.2" y2="293.2" stroke="#222" stroke-width="1.1"/><line x1="417.7" y1="290.2" x2="417.7" y2="293.2" stroke="#222" stroke-width="1.1"/><text transform="translate(417.0,305.0) scale(1,1.08)" text-anchor="middle" font-family="Liberation Serif" font-weight="bold" font-size="12" fill="#111" stroke="#111" stroke-width="0.2">2</text><line x1="429.1" y1="290.2" x2="429.1" y2="293.2" stroke="#222" stroke-width="1.1"/><line x1="440.6" y1="290.2" x2="440.6" y2="293.2" stroke="#222" stroke-width="1.1"/><text transform="translate(439.9,305.0) scale(1,1.08)" text-anchor="middle" font-family="Liberation Serif" font-weight="bold" font-size="12" fill="#111" stroke="#111" stroke-width="0.2">4</text><line x1="452.1" y1="290.2" x2="452.1" y2="293.2" stroke="#222" stroke-width="1.1"/><line x1="463.5" y1="290.2" x2="463.5" y2="293.2" stroke="#222" stroke-width="1.1"/><text transform="translate(462.8,305.0) scale(1,1.08)" text-anchor="middle" font-family="Liberation Serif" font-weight="bold" font-size="12" fill="#111" stroke="#111" stroke-width="0.2">6</text><line x1="474.9" y1="290.2" x2="474.9" y2="293.2" stroke="#222" stroke-width="1.1"/><line x1="486.4" y1="290.2" x2="486.4" y2="293.2" stroke="#222" stroke-width="1.1"/><text transform="translate(485.7,305.0) scale(1,1.08)" text-anchor="middle" font-family="Liberation Serif" font-weight="bold" font-size="12" fill="#111" stroke="#111" stroke-width="0.2">8</text><line x1="497.9" y1="290.2" x2="497.9" y2="293.2" stroke="#222" stroke-width="1.1"/><line x1="509.3" y1="290.2" x2="509.3" y2="293.2" stroke="#222" stroke-width="1.1"/><text transform="translate(508.6,305.0) scale(1,1.08)" text-anchor="middle" font-family="Liberation Serif" font-weight="bold" font-size="12" fill="#111" stroke="#111" stroke-width="0.2">10</text><polyline points="394.8,290.2 429.1,289.3 475.5,247.9 509.3,217.7" fill="none" stroke="#111" stroke-width="1.25"/><polyline points="394.8,290.2 429.1,289.3 475.5,278.4 509.3,254.9" fill="none" stroke="#111" stroke-width="1.25"/><polygon points="394.8,286.9 397.9,292.8 391.7,292.8" fill="#111"/><polygon points="429.1,286.0 432.2,291.9 426.0,291.9" fill="#111"/><polygon points="475.5,244.6 478.6,250.5 472.4,250.5" fill="#111"/><polygon points="509.3,214.4 512.4,220.3 506.2,220.3" fill="#111"/><circle cx="394.8" cy="290.2" r="2.6" fill="#111"/><circle cx="429.1" cy="289.3" r="2.6" fill="#111"/><circle cx="475.5" cy="278.4" r="2.6" fill="#111"/><circle cx="509.3" cy="254.9" r="2.6" fill="#111"/><rect x="33.9" y="278.7" width="4.1" height="5" fill="#111"/><g transform="translate(61.70,322.44) scale(1.106,1.042)"><text x="0" y="0" font-family="Liberation Serif" font-weight="bold" font-size="14" fill="#111" stroke="#111" stroke-width="0.3">Time (d)</text></g><g transform="translate(253.10,322.14) scale(1.092,1.032)"><text x="0" y="0" font-family="Liberation Serif" font-weight="bold" font-size="14" fill="#111" stroke="#111" stroke-width="0.3">Time (d)</text></g><g transform="translate(428.80,322.14) scale(1.094,1.032)"><text x="0" y="0" font-family="Liberation Serif" font-weight="bold" font-size="14" fill="#111" stroke="#111" stroke-width="0.3">Time (d)</text></g><g transform="translate(14.85,297.90) rotate(-90) scale(0.995,1.010)"><text x="0" y="0" font-family="Liberation Serif" font-weight="bold" font-size="14.5" fill="#111" stroke="#111" stroke-width="0.3">Total cells (x10<tspan font-size="9.5" dy="-5.5">−4</tspan><tspan dy="5.5">)</tspan></text></g><g transform="translate(190.55,277.50) rotate(-90) scale(0.989,1.010)"><text x="0" y="0" font-family="Liberation Serif" font-weight="bold" font-size="14.5" fill="#111" stroke="#111" stroke-width="0.3">DCs (x10<tspan font-size="9.5" dy="-5.5">−4</tspan><tspan dy="5.5">)</tspan></text></g><g transform="translate(368.84,292.10) rotate(-90) scale(0.997,1.040)"><text x="0" y="0" font-family="Liberation Serif" font-weight="bold" font-size="14.5" fill="#111" stroke="#111" stroke-width="0.3">NK cells (x10<tspan font-size="9.5" dy="-5.5">−4</tspan><tspan dy="5.5">)</tspan></text></g></svg></body></html>
